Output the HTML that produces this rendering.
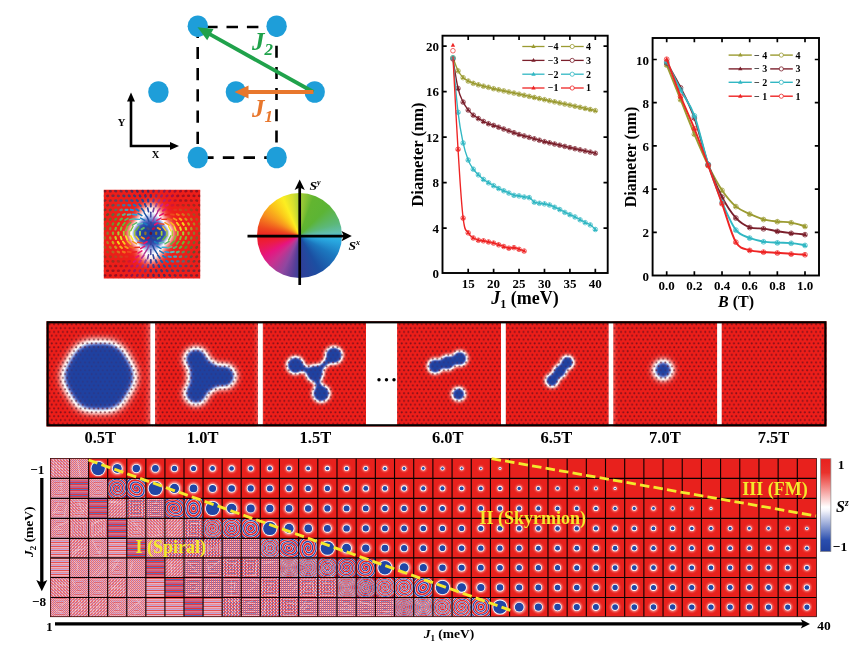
<!DOCTYPE html>
<html lang="en">
<head>
<meta charset="utf-8">
<title>Skyrmion phase diagram figure</title>
<style>
html,body{margin:0;padding:0;background:#fff;}
body{width:866px;height:650px;position:relative;overflow:hidden;font-family:"Liberation Serif",serif;}
#wheel{position:absolute;left:257.2px;top:192.5px;width:85px;height:85px;border-radius:50%;
background:conic-gradient(from 0deg,#a9cf38 0deg,#62b530 20deg,#5cb435 45deg,#5cb87a 72deg,#62bfb4 86deg,#35b4dc 92deg,#29a9e1 98deg,#1c78bf 120deg,#1b4fa2 150deg,#2f3f98 178deg,#5a3f98 190deg,#8f47a0 205deg,#c9308f 225deg,#e6157f 240deg,#ec1c40 258deg,#ed1c24 268deg,#ee4a1f 282deg,#f7931e 302deg,#fbc81a 320deg,#fcee21 336deg,#d4de30 350deg,#a9cf38 360deg);}
svg{position:absolute;left:0;top:0;}
</style>
</head>
<body>
<div id="wheel"></div>
<svg width="866" height="650" viewBox="0 0 866 650">
<defs><filter id="bwr" color-interpolation-filters="sRGB" x="0" y="0" width="1" height="1"><feGaussianBlur stdDeviation="3.5"/><feComponentTransfer><feFuncR type="table" tableValues="0.93 0.94 0.95 0.96 0.98 1.00 1.00 0.75 0.45 0.22 0.12"/><feFuncG type="table" tableValues="0.12 0.22 0.36 0.53 0.72 0.90 1.00 0.79 0.52 0.33 0.25"/><feFuncB type="table" tableValues="0.10 0.20 0.34 0.51 0.70 0.89 1.00 0.93 0.82 0.70 0.62"/></feComponentTransfer></filter>
<filter id="bwr2" color-interpolation-filters="sRGB" x="0" y="0" width="1" height="1"><feGaussianBlur stdDeviation="4.0"/><feComponentTransfer><feFuncR type="table" tableValues="0.93 0.94 0.95 0.96 0.98 1.00 1.00 0.75 0.45 0.22 0.12"/><feFuncG type="table" tableValues="0.12 0.22 0.36 0.53 0.72 0.90 1.00 0.79 0.52 0.33 0.25"/><feFuncB type="table" tableValues="0.10 0.20 0.34 0.51 0.70 0.89 1.00 0.93 0.82 0.70 0.62"/></feComponentTransfer></filter>
<filter id="bwrS" color-interpolation-filters="sRGB" x="0" y="0" width="1" height="1"><feGaussianBlur stdDeviation="2.2"/><feComponentTransfer><feFuncR type="table" tableValues="0.93 0.94 0.95 0.96 0.98 1.00 1.00 0.75 0.45 0.22 0.12"/><feFuncG type="table" tableValues="0.12 0.22 0.36 0.53 0.72 0.90 1.00 0.79 0.52 0.33 0.25"/><feFuncB type="table" tableValues="0.10 0.20 0.34 0.51 0.70 0.89 1.00 0.93 0.82 0.70 0.62"/></feComponentTransfer></filter>

<pattern id="dots" width="4.43" height="7.66" patternUnits="userSpaceOnUse" x="48.5" y="323">
  <circle cx="1.1" cy="1.3" r="1.0" fill="#560a1a" fill-opacity="0.72"/>
  <circle cx="3.31" cy="5.13" r="1.0" fill="#560a1a" fill-opacity="0.72"/>
</pattern>
<radialGradient id="halo">
  <stop offset="0" stop-color="#fff" stop-opacity="1"/>
  <stop offset="0.55" stop-color="#fff" stop-opacity="0.95"/>
  <stop offset="1" stop-color="#fff" stop-opacity="0"/>
</radialGradient>
<linearGradient id="cbar" x1="0" y1="0" x2="0" y2="1">
  <stop offset="0" stop-color="#e8211d"/>
  <stop offset="0.15" stop-color="#e9322c"/>
  <stop offset="0.52" stop-color="#ffffff"/>
  <stop offset="0.56" stop-color="#f4f4fb"/>
  <stop offset="0.88" stop-color="#2a4eae"/>
  <stop offset="1" stop-color="#1f3f9c"/>
</linearGradient>

<clipPath id="texclip"><rect x="103.8" y="189.8" width="96.4" height="88.8"/></clipPath>
<clipPath id="stripclip"><rect x="46.5" y="321.2" width="780" height="105.2"/></clipPath>
<filter id="bwrP1" color-interpolation-filters="sRGB" x="0" y="0" width="1" height="1"><feGaussianBlur stdDeviation="5.0"/><feComponentTransfer><feFuncR type="table" tableValues="0.93 0.94 0.95 0.96 0.98 1.00 1.00 0.75 0.45 0.22 0.12"/><feFuncG type="table" tableValues="0.12 0.22 0.36 0.53 0.72 0.90 1.00 0.79 0.52 0.33 0.25"/><feFuncB type="table" tableValues="0.10 0.20 0.34 0.51 0.70 0.89 1.00 0.93 0.82 0.70 0.62"/></feComponentTransfer></filter>
<filter id="bwrP2" color-interpolation-filters="sRGB" x="0" y="0" width="1" height="1"><feGaussianBlur stdDeviation="3.6"/><feComponentTransfer><feFuncR type="table" tableValues="0.93 0.94 0.95 0.96 0.98 1.00 1.00 0.75 0.45 0.22 0.12"/><feFuncG type="table" tableValues="0.12 0.22 0.36 0.53 0.72 0.90 1.00 0.79 0.52 0.33 0.25"/><feFuncB type="table" tableValues="0.10 0.20 0.34 0.51 0.70 0.89 1.00 0.93 0.82 0.70 0.62"/></feComponentTransfer></filter>
<filter id="covP1" color-interpolation-filters="sRGB" x="0" y="0" width="1" height="1"><feGaussianBlur stdDeviation="5.0"/><feColorMatrix type="matrix" values="0 0 0 0 0.13  0 0 0 0 0.26  0 0 0 0 0.63  4.5 0 0 0 -3.55"/></filter>
<filter id="covP2" color-interpolation-filters="sRGB" x="0" y="0" width="1" height="1"><feGaussianBlur stdDeviation="3.6"/><feColorMatrix type="matrix" values="0 0 0 0 0.13  0 0 0 0 0.26  0 0 0 0 0.63  4.5 0 0 0 -3.55"/></filter>
<filter id="covS" color-interpolation-filters="sRGB" x="0" y="0" width="1" height="1"><feGaussianBlur stdDeviation="2.2"/><feColorMatrix type="matrix" values="0 0 0 0 0.13  0 0 0 0 0.26  0 0 0 0 0.63  4.5 0 0 0 -3.55"/></filter>

<filter id="soft" x="0" y="0" width="1" height="1"><feGaussianBlur stdDeviation="0.9"/></filter>
<pattern id="chk" width="2" height="2" patternUnits="userSpaceOnUse">
  <rect width="2" height="2" fill="#e66a72"/>
  <rect x="1" y="0" width="1" height="1" fill="#c8a8d4"/>
  <rect x="0" y="1" width="1" height="1" fill="#ecb4bc"/>
</pattern>
<pattern id="chk2" width="3" height="3" patternUnits="userSpaceOnUse">
  <rect width="3" height="3" fill="#e66a72"/>
  <rect x="1" y="0" width="1" height="1" fill="#d0b0d8"/>
  <rect x="2" y="1" width="1" height="1" fill="#f0c4cc"/>
  <rect x="0" y="2" width="1" height="1" fill="#c0a8d8"/>
  <rect x="2" y="0" width="1" height="1" fill="#eca0a4"/>
</pattern>
<pattern id="chk3" width="3" height="3" patternUnits="userSpaceOnUse">
  <rect width="3" height="3" fill="#e66a72"/>
  <rect x="1" y="0" width="1" height="1" fill="#d0b0d8"/>
  <rect x="0" y="1" width="1" height="1" fill="#f0c4cc"/>
  <rect x="2" y="2" width="1" height="1" fill="#c0a8d8"/>
  <rect x="0" y="0" width="1" height="1" fill="#eca0a4"/>
</pattern>
<pattern id="chkb" width="2" height="2" patternUnits="userSpaceOnUse">
  <rect width="2" height="2" fill="#e2444c"/>
  <rect x="1" y="0" width="1" height="1" fill="#7a80c8"/>
  <rect x="0" y="1" width="1" height="1" fill="#ecc4d0"/>
  <rect x="1" y="1" width="1" height="1" fill="#e8666e"/>
</pattern>
<pattern id="chkb2" width="3" height="3" patternUnits="userSpaceOnUse">
  <rect width="3" height="3" fill="#e2444c"/>
  <rect x="1" y="0" width="1" height="1" fill="#8088cc"/>
  <rect x="2" y="1" width="1" height="1" fill="#ecc0c8"/>
  <rect x="0" y="2" width="1" height="1" fill="#6c78c4"/>
  <rect x="2" y="0" width="1" height="1" fill="#e88088"/>
  <rect x="1" y="2" width="1" height="1" fill="#ecbcc8"/>
  <rect x="1" y="1" width="1" height="1" fill="#e8666e"/>
</pattern>
<pattern id="chkb3" width="3" height="3" patternUnits="userSpaceOnUse">
  <rect width="3" height="3" fill="#e2444c"/>
  <rect x="1" y="0" width="1" height="1" fill="#8088cc"/>
  <rect x="0" y="1" width="1" height="1" fill="#ecc0c8"/>
  <rect x="2" y="2" width="1" height="1" fill="#6c78c4"/>
  <rect x="0" y="0" width="1" height="1" fill="#e88088"/>
  <rect x="1" y="2" width="1" height="1" fill="#ecbcc8"/>
  <rect x="1" y="1" width="1" height="1" fill="#e8666e"/>
</pattern>
<pattern id="hsb" width="4" height="4" patternUnits="userSpaceOnUse">
  <rect width="4" height="4" fill="#e04048"/>
  <rect y="1" width="4" height="1" fill="#6878c0"/>
  <rect y="2" width="4" height="1" fill="#e86068"/>
  <rect y="3" width="4" height="1" fill="#e8c0d0"/>
</pattern>
<pattern id="hs" width="4" height="6" patternUnits="userSpaceOnUse">
  <rect width="4" height="6" fill="#d86070"/>
  <rect y="1" width="4" height="1" fill="#a860a4"/>
  <rect y="2" width="4" height="1" fill="#e83434"/>
  <rect y="3" width="4" height="1" fill="#5c70b8"/>
  <rect y="4" width="4" height="1" fill="#e23848"/>
  <rect y="5" width="4" height="1" fill="#d07890"/>
</pattern>
<pattern id="hsl" width="4" height="4" patternUnits="userSpaceOnUse">
  <rect width="4" height="4" fill="#ec8c94"/>
  <rect y="1" width="4" height="1" fill="#c0a8dc"/>
  <rect y="2" width="4" height="1" fill="#e85050"/>
  <rect y="3" width="4" height="1" fill="#e8b4c4"/>
</pattern>
<pattern id="vs" width="4" height="4" patternUnits="userSpaceOnUse">
  <rect width="4" height="4" fill="#ec8c94"/>
  <rect x="1" width="1" height="4" fill="#c0a8dc"/>
  <rect x="2" width="1" height="4" fill="#e85050"/>
  <rect x="3" width="1" height="4" fill="#e8b4c4"/>
</pattern>

<g id="sp1"><rect x="-11" y="-11" width="22" height="22" fill="#fff"/><path d="M0,0 L0.16,0.05 L0.28,0.19 L0.31,0.39 L0.24,0.62 L0.06,0.83 L-0.23,0.98 L-0.59,1.01 L-0.99,0.9 L-1.36,0.64 L-1.65,0.24 L-1.82,-0.29 L-1.8,-0.89 L-1.58,-1.49 L-1.15,-2.04 L-0.53,-2.45 L0.23,-2.66 L1.07,-2.63 L1.91,-2.32 L2.37,-2.01 L2.78,-1.6 L3.12,-1.11 L3.36,-0.55 L3.51,0.06 L3.54,0.71 L3.45,1.37 L3.23,2.01 L2.9,2.63 L2.44,3.18 L1.88,3.66 L1.22,4.03 L0.49,4.28 L-0.29,4.4 L-1.1,4.38 L-1.91,4.2 L-2.68,3.87 L-3.41,3.4 L-4.04,2.79 L-4.57,2.07 L-4.96,1.24 L-5.2,0.34 L-5.28,-0.61 L-5.18,-1.58 L-4.9,-2.52 L-4.45,-3.42 L-3.84,-4.24 L-3.07,-4.94 L-2.17,-5.5 L-1.17,-5.9 L-0.1,-6.12 L1.02,-6.13 L2.13,-5.95 L3.21,-5.55 L4.22,-4.97 L5.12,-4.19 L5.87,-3.26 L6.46,-2.19 L6.84,-1.01 L7.01,0.24 L6.96,1.51 L6.67,2.77 L6.15,3.97 L5.41,5.08 L4.47,6.04 L3.36,6.84 L2.11,7.43 L0.76,7.78 L-0.66,7.89 L-2.08,7.75 L-3.48,7.34 L-4.8,6.68 L-5.99,5.78 L-7.01,4.67 L-7.82,3.38 L-8.4,1.95 L-8.71,0.42 L-8.75,-1.16 L-8.49,-2.74 L-7.95,-4.26 L-7.14,-5.68 L-6.07,-6.94 L-4.78,-8 L-3.31,-8.83 L-1.69,-9.37 L0.01,-9.63 L1.75,-9.57 L3.47,-9.19 L5.11,-8.51 L6.62,-7.53 L7.94,-6.29 L9.03,-4.81 L9.84,-3.15 L10.34,-1.35 L10.51,0.53 L10.35,2.43 L9.84,4.28 L9,6.03 L7.84,7.61 L6.41,8.97 L4.74,10.07 L2.89,10.85 L0.91,11.29 L-1.14,11.37 L-3.18,11.08 L-5.16,10.42 L-7,9.41 L-8.65,8.07 L-10.04,6.45 L-11.12,4.59 L-11.86,2.54 L-12.23,0.38 L-12.2,-1.83 L-11.77,-4.02 L-10.95,-6.11 L-9.75,-8.03 L-8.22,-9.72 L-6.4,-11.13 L-4.34,-12.19 L-2.1,-12.86 L0.24,-13.13 L2.6,-12.98 L4.92,-12.39 L7.11,-11.4 L9.11,-10.01 L10.83,-8.28 L12.23,-6.25 L13.25,-3.99 L13.85,-1.57 L14.01,0.94 L13.71,3.46 L12.96,5.9 L11.77,8.18 L10.19,10.23 L8.25,11.97 L6.02,13.35 L3.55,14.3 L0.94,14.81 L-1.74,14.84" fill="none" stroke="#2242aa" stroke-width="1.15"/><path d="M0,0 L-0.16,-0.05 L-0.28,-0.19 L-0.31,-0.39 L-0.24,-0.62 L-0.06,-0.83 L0.23,-0.98 L0.59,-1.01 L0.99,-0.9 L1.36,-0.64 L1.65,-0.24 L1.82,0.29 L1.8,0.89 L1.58,1.49 L1.15,2.04 L0.53,2.45 L-0.23,2.66 L-1.07,2.63 L-1.91,2.32 L-2.37,2.01 L-2.78,1.6 L-3.12,1.11 L-3.36,0.55 L-3.51,-0.06 L-3.54,-0.71 L-3.45,-1.37 L-3.23,-2.01 L-2.9,-2.63 L-2.44,-3.18 L-1.88,-3.66 L-1.22,-4.03 L-0.49,-4.28 L0.29,-4.4 L1.1,-4.38 L1.91,-4.2 L2.68,-3.87 L3.41,-3.4 L4.04,-2.79 L4.57,-2.07 L4.96,-1.24 L5.2,-0.34 L5.28,0.61 L5.18,1.58 L4.9,2.52 L4.45,3.42 L3.84,4.24 L3.07,4.94 L2.17,5.5 L1.17,5.9 L0.1,6.12 L-1.02,6.13 L-2.13,5.95 L-3.21,5.55 L-4.22,4.97 L-5.12,4.19 L-5.87,3.26 L-6.46,2.19 L-6.84,1.01 L-7.01,-0.24 L-6.96,-1.51 L-6.67,-2.77 L-6.15,-3.97 L-5.41,-5.08 L-4.47,-6.04 L-3.36,-6.84 L-2.11,-7.43 L-0.76,-7.78 L0.66,-7.89 L2.08,-7.75 L3.48,-7.34 L4.8,-6.68 L5.99,-5.78 L7.01,-4.67 L7.82,-3.38 L8.4,-1.95 L8.71,-0.42 L8.75,1.16 L8.49,2.74 L7.95,4.26 L7.14,5.68 L6.07,6.94 L4.78,8 L3.31,8.83 L1.69,9.37 L-0.01,9.63 L-1.75,9.57 L-3.47,9.19 L-5.11,8.51 L-6.62,7.53 L-7.94,6.29 L-9.03,4.81 L-9.84,3.15 L-10.34,1.35 L-10.51,-0.53 L-10.35,-2.43 L-9.84,-4.28 L-9,-6.03 L-7.84,-7.61 L-6.41,-8.97 L-4.74,-10.07 L-2.89,-10.85 L-0.91,-11.29 L1.14,-11.37 L3.18,-11.08 L5.16,-10.42 L7,-9.41 L8.65,-8.07 L10.04,-6.45 L11.12,-4.59 L11.86,-2.54 L12.23,-0.38 L12.2,1.83 L11.77,4.02 L10.95,6.11 L9.75,8.03 L8.22,9.72 L6.4,11.13 L4.34,12.19 L2.1,12.86 L-0.24,13.13 L-2.6,12.98 L-4.92,12.39 L-7.11,11.4 L-9.11,10.01 L-10.83,8.28 L-12.23,6.25 L-13.25,3.99 L-13.85,1.57 L-14.01,-0.94 L-13.71,-3.46 L-12.96,-5.9 L-11.77,-8.18 L-10.19,-10.23 L-8.25,-11.97 L-6.02,-13.35 L-3.55,-14.3 L-0.94,-14.81 L1.74,-14.84" fill="none" stroke="#e3262a" stroke-width="1.55"/></g>
<g id="sp2"><rect x="-11" y="-11" width="22" height="22" fill="#fff"/><path d="M0,0 L0.13,0.04 L0.23,0.16 L0.26,0.33 L0.2,0.52 L0.05,0.69 L-0.19,0.81 L-0.49,0.84 L-0.82,0.75 L-1.13,0.53 L-1.37,0.2 L-1.5,-0.24 L-1.49,-0.74 L-1.31,-1.24 L-0.95,-1.69 L-0.44,-2.03 L0.19,-2.21 L0.89,-2.18 L1.58,-1.93 L2.2,-1.45 L2.66,-0.77 L2.91,0.05 L2.89,0.95 L2.75,1.49 L2.5,2.01 L2.16,2.49 L1.72,2.91 L1.2,3.25 L0.61,3.49 L-0.02,3.63 L-0.69,3.65 L-1.36,3.54 L-2.01,3.31 L-2.63,2.96 L-3.18,2.49 L-3.65,1.92 L-4.02,1.26 L-4.26,0.53 L-4.37,-0.24 L-4.34,-1.04 L-4.16,-1.83 L-3.83,-2.59 L-3.36,-3.29 L-2.77,-3.91 L-2.06,-4.42 L-1.25,-4.8 L-0.38,-5.03 L0.53,-5.1 L1.46,-5 L2.37,-4.73 L3.23,-4.29 L4.01,-3.7 L4.67,-2.97 L5.21,-2.12 L5.58,-1.17 L5.79,-0.15 L5.8,0.9 L5.63,1.95 L5.26,2.97 L4.71,3.91 L3.98,4.76 L3.11,5.46 L2.11,6.01 L1.01,6.37 L-0.15,6.53 L-1.33,6.48 L-2.5,6.22 L-3.62,5.74 L-4.65,5.06 L-5.54,4.2 L-6.28,3.17 L-6.82,2.02 L-7.16,0.78 L-7.26,-0.52 L-7.13,-1.84 L-6.76,-3.12 L-6.17,-4.33 L-5.35,-5.42 L-4.34,-6.36 L-3.16,-7.11 L-1.86,-7.64 L-0.47,-7.93 L0.97,-7.97 L2.41,-7.75 L3.79,-7.27 L5.08,-6.53 L6.23,-5.57 L7.2,-4.41 L7.95,-3.08 L8.46,-1.62 L8.7,-0.08 L8.65,1.49 L8.32,3.04 L7.72,4.53 L6.84,5.89 L5.73,7.08 L4.41,8.07 L2.92,8.81 L1.31,9.27 L-0.37,9.44 L-2.08,9.3 L-3.74,8.85 L-5.31,8.11 L-6.73,7.09 L-7.96,5.82 L-8.95,4.33 L-9.66,2.69 L-10.07,0.92 L-10.15,-0.9 L-9.91,-2.73 L-9.33,-4.49 L-8.44,-6.14 L-7.26,-7.61 L-5.83,-8.86 L-4.18,-9.84 L-2.37,-10.51 L-0.46,-10.85 L1.51,-10.83 L3.45,-10.47 L5.3,-9.76 L7.02,-8.71 L8.53,-7.37 L9.78,-5.77 L10.73,-3.95 L11.35,-1.98 L11.6,0.08 L11.48,2.18 L10.98,4.23 L10.12,6.17 L8.92,7.94 L7.4,9.47 L5.63,10.71 L3.64,11.63 L1.51,12.17 L-0.7,12.33 L-2.91,12.09 L-5.06,11.45 L-7.08,10.42 L-8.89,9.05 L-10.43,7.36 L-11.66,5.41 L-12.52,3.25 L-12.98,0.97 L-13.03,-1.38 L-12.65,-3.71 L-11.85,-5.96 L-10.66,-8.03 L-9.11,-9.87 L-7.24,-11.41 L-5.11,-12.6 L-2.79,-13.39 L-0.35,-13.76 L2.14,-13.68 L4.58,-13.16 L6.9,-12.2 L9.03,-10.83 L10.88,-9.09 L12.41,-7.04 L13.54,-4.73 L14.25,-2.24 L14.51,0.35 L14.29,2.96 L13.61,5.5 L12.47,7.89 L10.92,10.05 L8.99,11.91" fill="none" stroke="#2242aa" stroke-width="0.95"/><path d="M0,0 L-0.13,-0.04 L-0.23,-0.16 L-0.26,-0.33 L-0.2,-0.52 L-0.05,-0.69 L0.19,-0.81 L0.49,-0.84 L0.82,-0.75 L1.13,-0.53 L1.37,-0.2 L1.5,0.24 L1.49,0.74 L1.31,1.24 L0.95,1.69 L0.44,2.03 L-0.19,2.21 L-0.89,2.18 L-1.58,1.93 L-2.2,1.45 L-2.66,0.77 L-2.91,-0.05 L-2.89,-0.95 L-2.75,-1.49 L-2.5,-2.01 L-2.16,-2.49 L-1.72,-2.91 L-1.2,-3.25 L-0.61,-3.49 L0.02,-3.63 L0.69,-3.65 L1.36,-3.54 L2.01,-3.31 L2.63,-2.96 L3.18,-2.49 L3.65,-1.92 L4.02,-1.26 L4.26,-0.53 L4.37,0.24 L4.34,1.04 L4.16,1.83 L3.83,2.59 L3.36,3.29 L2.77,3.91 L2.06,4.42 L1.25,4.8 L0.38,5.03 L-0.53,5.1 L-1.46,5 L-2.37,4.73 L-3.23,4.29 L-4.01,3.7 L-4.67,2.97 L-5.21,2.12 L-5.58,1.17 L-5.79,0.15 L-5.8,-0.9 L-5.63,-1.95 L-5.26,-2.97 L-4.71,-3.91 L-3.98,-4.76 L-3.11,-5.46 L-2.11,-6.01 L-1.01,-6.37 L0.15,-6.53 L1.33,-6.48 L2.5,-6.22 L3.62,-5.74 L4.65,-5.06 L5.54,-4.2 L6.28,-3.17 L6.82,-2.02 L7.16,-0.78 L7.26,0.52 L7.13,1.84 L6.76,3.12 L6.17,4.33 L5.35,5.42 L4.34,6.36 L3.16,7.11 L1.86,7.64 L0.47,7.93 L-0.97,7.97 L-2.41,7.75 L-3.79,7.27 L-5.08,6.53 L-6.23,5.57 L-7.2,4.41 L-7.95,3.08 L-8.46,1.62 L-8.7,0.08 L-8.65,-1.49 L-8.32,-3.04 L-7.72,-4.53 L-6.84,-5.89 L-5.73,-7.08 L-4.41,-8.07 L-2.92,-8.81 L-1.31,-9.27 L0.37,-9.44 L2.08,-9.3 L3.74,-8.85 L5.31,-8.11 L6.73,-7.09 L7.96,-5.82 L8.95,-4.33 L9.66,-2.69 L10.07,-0.92 L10.15,0.9 L9.91,2.73 L9.33,4.49 L8.44,6.14 L7.26,7.61 L5.83,8.86 L4.18,9.84 L2.37,10.51 L0.46,10.85 L-1.51,10.83 L-3.45,10.47 L-5.3,9.76 L-7.02,8.71 L-8.53,7.37 L-9.78,5.77 L-10.73,3.95 L-11.35,1.98 L-11.6,-0.08 L-11.48,-2.18 L-10.98,-4.23 L-10.12,-6.17 L-8.92,-7.94 L-7.4,-9.47 L-5.63,-10.71 L-3.64,-11.63 L-1.51,-12.17 L0.7,-12.33 L2.91,-12.09 L5.06,-11.45 L7.08,-10.42 L8.89,-9.05 L10.43,-7.36 L11.66,-5.41 L12.52,-3.25 L12.98,-0.97 L13.03,1.38 L12.65,3.71 L11.85,5.96 L10.66,8.03 L9.11,9.87 L7.24,11.41 L5.11,12.6 L2.79,13.39 L0.35,13.76 L-2.14,13.68 L-4.58,13.16 L-6.9,12.2 L-9.03,10.83 L-10.88,9.09 L-12.41,7.04 L-13.54,4.73 L-14.25,2.24 L-14.51,-0.35 L-14.29,-2.96 L-13.61,-5.5 L-12.47,-7.89 L-10.92,-10.05 L-8.99,-11.91" fill="none" stroke="#e3262a" stroke-width="1.3"/></g>
<g id="sp3"><rect x="-11" y="-11" width="22" height="22" fill="#fff"/><path d="M0,0 L0.11,0.04 L0.2,0.13 L0.22,0.28 L0.17,0.45 L0.04,0.6 L-0.16,0.7 L-0.42,0.72 L-0.7,0.65 L-0.97,0.46 L-1.18,0.17 L-1.3,-0.21 L-1.28,-0.63 L-1.13,-1.07 L-0.82,-1.46 L-0.38,-1.75 L0.17,-1.9 L0.77,-1.88 L1.36,-1.66 L1.89,-1.25 L2.29,-0.67 L2.51,0.04 L2.5,0.82 L2.24,1.59 L1.74,2.27 L1.03,2.8 L0.17,3.1 L-0.4,3.15 L-0.98,3.1 L-1.55,2.93 L-2.09,2.67 L-2.59,2.29 L-3.02,1.83 L-3.37,1.29 L-3.61,0.68 L-3.75,0.02 L-3.76,-0.67 L-3.65,-1.35 L-3.41,-2.02 L-3.05,-2.65 L-2.57,-3.2 L-1.99,-3.68 L-1.32,-4.04 L-0.58,-4.28 L0.2,-4.39 L0.99,-4.35 L1.78,-4.17 L2.54,-3.84 L3.24,-3.38 L3.85,-2.78 L4.35,-2.08 L4.72,-1.29 L4.95,-0.43 L5.02,0.47 L4.92,1.38 L4.66,2.27 L4.23,3.11 L3.66,3.87 L2.94,4.52 L2.11,5.04 L1.19,5.41 L0.21,5.61 L-0.81,5.62 L-1.83,5.46 L-2.81,5.1 L-3.72,4.57 L-4.53,3.88 L-5.22,3.04 L-5.75,2.08 L-6.1,1.03 L-6.25,-0.08 L-6.21,-1.21 L-5.96,-2.33 L-5.51,-3.39 L-4.87,-4.37 L-4.05,-5.23 L-3.08,-5.93 L-1.99,-6.46 L-0.81,-6.78 L0.42,-6.89 L1.67,-6.77 L2.88,-6.43 L4.02,-5.87 L5.06,-5.1 L5.95,-4.15 L6.66,-3.05 L7.17,-1.83 L7.45,-0.52 L7.5,0.83 L7.3,2.18 L6.85,3.48 L6.17,4.7 L5.28,5.78 L4.2,6.69 L2.96,7.4 L1.6,7.88 L0.17,8.12 L-1.3,8.08 L-2.75,7.79 L-4.14,7.23 L-5.41,6.43 L-6.53,5.4 L-7.45,4.18 L-8.15,2.8 L-8.59,1.31 L-8.76,-0.25 L-8.64,-1.83 L-8.24,-3.38 L-7.56,-4.84 L-6.63,-6.16 L-5.46,-7.3 L-4.1,-8.23 L-2.58,-8.9 L-0.95,-9.29 L0.73,-9.38 L2.42,-9.16 L4.05,-8.65 L5.57,-7.84 L6.94,-6.77 L8.1,-5.45 L9.01,-3.95 L9.64,-2.29 L9.97,-0.53 L9.97,1.28 L9.65,3.06 L9.01,4.77 L8.06,6.35 L6.84,7.75 L5.38,8.91 L3.73,9.8 L1.93,10.37 L0.04,10.62 L-1.88,10.53 L-3.76,10.09 L-5.54,9.32 L-7.16,8.23 L-8.58,6.86 L-9.73,5.24 L-10.58,3.44 L-11.1,1.5 L-11.26,-0.51 L-11.05,-2.54 L-10.49,-4.5 L-9.57,-6.35 L-8.33,-8.01 L-6.8,-9.43 L-5.04,-10.56 L-3.08,-11.36 L-1.01,-11.8 L1.13,-11.86 L3.25,-11.53 L5.3,-10.83 L7.19,-9.76 L8.88,-8.37 L10.29,-6.68 L11.39,-4.76 L12.13,-2.66 L12.48,-0.45 L12.43,1.8 L11.97,4.02 L11.12,6.13 L9.9,8.07 L8.34,9.77 L6.49,11.16 L4.41,12.21 L2.17,12.88 L-0.17,13.13 L-2.54,12.96 L-4.84,12.36 L-7.01,11.35 L-8.98,9.97 L-10.68,8.24 L-12.04,6.23 L-13.03,4 L-13.61,1.61 L-13.75,-0.86 L-13.44,-3.32 L-12.69,-5.71 L-11.53,-7.93 L-9.97,-9.91 L-8.08,-11.6 L-5.9,-12.92 L-3.51,-13.84 L-0.98,-14.31 L1.61,-14.33 L4.17,-13.88 L6.62,-12.97 L8.88,-11.64 L10.87,-9.91 L12.53,-7.84 L13.79,-5.5 L14.63,-2.95 L14.99,-0.29" fill="none" stroke="#2242aa" stroke-width="0.8"/><path d="M0,0 L-0.11,-0.04 L-0.2,-0.13 L-0.22,-0.28 L-0.17,-0.45 L-0.04,-0.6 L0.16,-0.7 L0.42,-0.72 L0.7,-0.65 L0.97,-0.46 L1.18,-0.17 L1.3,0.21 L1.28,0.63 L1.13,1.07 L0.82,1.46 L0.38,1.75 L-0.17,1.9 L-0.77,1.88 L-1.36,1.66 L-1.89,1.25 L-2.29,0.67 L-2.51,-0.04 L-2.5,-0.82 L-2.24,-1.59 L-1.74,-2.27 L-1.03,-2.8 L-0.17,-3.1 L0.4,-3.15 L0.98,-3.1 L1.55,-2.93 L2.09,-2.67 L2.59,-2.29 L3.02,-1.83 L3.37,-1.29 L3.61,-0.68 L3.75,-0.02 L3.76,0.67 L3.65,1.35 L3.41,2.02 L3.05,2.65 L2.57,3.2 L1.99,3.68 L1.32,4.04 L0.58,4.28 L-0.2,4.39 L-0.99,4.35 L-1.78,4.17 L-2.54,3.84 L-3.24,3.38 L-3.85,2.78 L-4.35,2.08 L-4.72,1.29 L-4.95,0.43 L-5.02,-0.47 L-4.92,-1.38 L-4.66,-2.27 L-4.23,-3.11 L-3.66,-3.87 L-2.94,-4.52 L-2.11,-5.04 L-1.19,-5.41 L-0.21,-5.61 L0.81,-5.62 L1.83,-5.46 L2.81,-5.1 L3.72,-4.57 L4.53,-3.88 L5.22,-3.04 L5.75,-2.08 L6.1,-1.03 L6.25,0.08 L6.21,1.21 L5.96,2.33 L5.51,3.39 L4.87,4.37 L4.05,5.23 L3.08,5.93 L1.99,6.46 L0.81,6.78 L-0.42,6.89 L-1.67,6.77 L-2.88,6.43 L-4.02,5.87 L-5.06,5.1 L-5.95,4.15 L-6.66,3.05 L-7.17,1.83 L-7.45,0.52 L-7.5,-0.83 L-7.3,-2.18 L-6.85,-3.48 L-6.17,-4.7 L-5.28,-5.78 L-4.2,-6.69 L-2.96,-7.4 L-1.6,-7.88 L-0.17,-8.12 L1.3,-8.08 L2.75,-7.79 L4.14,-7.23 L5.41,-6.43 L6.53,-5.4 L7.45,-4.18 L8.15,-2.8 L8.59,-1.31 L8.76,0.25 L8.64,1.83 L8.24,3.38 L7.56,4.84 L6.63,6.16 L5.46,7.3 L4.1,8.23 L2.58,8.9 L0.95,9.29 L-0.73,9.38 L-2.42,9.16 L-4.05,8.65 L-5.57,7.84 L-6.94,6.77 L-8.1,5.45 L-9.01,3.95 L-9.64,2.29 L-9.97,0.53 L-9.97,-1.28 L-9.65,-3.06 L-9.01,-4.77 L-8.06,-6.35 L-6.84,-7.75 L-5.38,-8.91 L-3.73,-9.8 L-1.93,-10.37 L-0.04,-10.62 L1.88,-10.53 L3.76,-10.09 L5.54,-9.32 L7.16,-8.23 L8.58,-6.86 L9.73,-5.24 L10.58,-3.44 L11.1,-1.5 L11.26,0.51 L11.05,2.54 L10.49,4.5 L9.57,6.35 L8.33,8.01 L6.8,9.43 L5.04,10.56 L3.08,11.36 L1.01,11.8 L-1.13,11.86 L-3.25,11.53 L-5.3,10.83 L-7.19,9.76 L-8.88,8.37 L-10.29,6.68 L-11.39,4.76 L-12.13,2.66 L-12.48,0.45 L-12.43,-1.8 L-11.97,-4.02 L-11.12,-6.13 L-9.9,-8.07 L-8.34,-9.77 L-6.49,-11.16 L-4.41,-12.21 L-2.17,-12.88 L0.17,-13.13 L2.54,-12.96 L4.84,-12.36 L7.01,-11.35 L8.98,-9.97 L10.68,-8.24 L12.04,-6.23 L13.03,-4 L13.61,-1.61 L13.75,0.86 L13.44,3.32 L12.69,5.71 L11.53,7.93 L9.97,9.91 L8.08,11.6 L5.9,12.92 L3.51,13.84 L0.98,14.31 L-1.61,14.33 L-4.17,13.88 L-6.62,12.97 L-8.88,11.64 L-10.87,9.91 L-12.53,7.84 L-13.79,5.5 L-14.63,2.95 L-14.99,0.29" fill="none" stroke="#e3262a" stroke-width="1.1"/></g>
<g id="sp4"><rect x="-11" y="-11" width="22" height="22" fill="#fbeef0"/><path d="M0,0 L0.1,0.03 L0.17,0.12 L0.2,0.25 L0.15,0.39 L0.04,0.52 L-0.14,0.61 L-0.37,0.63 L-0.62,0.57 L-0.85,0.4 L-1.04,0.15 L-1.14,-0.18 L-1.13,-0.56 L-0.99,-0.94 L-0.72,-1.28 L-0.33,-1.54 L0.15,-1.67 L0.67,-1.65 L1.2,-1.46 L1.67,-1.1 L2.02,-0.59 L2.21,0.04 L2.2,0.72 L1.97,1.4 L1.53,2 L0.91,2.46 L0.15,2.73 L-0.69,2.75 L-1.53,2.51 L-2.28,2.02 L-2.66,1.61 L-2.96,1.13 L-3.18,0.59 L-3.3,0.02 L-3.31,-0.59 L-3.21,-1.19 L-3,-1.78 L-2.68,-2.33 L-2.26,-2.82 L-1.75,-3.23 L-1.16,-3.55 L-0.51,-3.77 L0.17,-3.86 L0.87,-3.83 L1.57,-3.67 L2.24,-3.38 L2.85,-2.97 L3.39,-2.45 L3.83,-1.83 L4.15,-1.13 L4.35,-0.38 L4.41,0.41 L4.33,1.21 L4.1,2 L3.72,2.74 L3.22,3.4 L2.59,3.98 L1.86,4.44 L1.05,4.76 L0.18,4.93 L-0.71,4.95 L-1.61,4.8 L-2.47,4.49 L-3.27,4.03 L-3.99,3.42 L-4.59,2.68 L-5.06,1.83 L-5.36,0.91 L-5.5,-0.07 L-5.46,-1.06 L-5.25,-2.05 L-4.85,-2.99 L-4.28,-3.85 L-3.56,-4.6 L-2.71,-5.22 L-1.75,-5.68 L-0.71,-5.97 L0.37,-6.06 L1.47,-5.96 L2.53,-5.66 L3.54,-5.16 L4.45,-4.49 L5.24,-3.66 L5.86,-2.69 L6.31,-1.61 L6.56,-0.46 L6.6,0.73 L6.42,1.92 L6.03,3.07 L5.43,4.13 L4.65,5.09 L3.7,5.89 L2.6,6.52 L1.41,6.94 L0.15,7.14 L-1.15,7.11 L-2.42,6.85 L-3.64,6.36 L-4.76,5.66 L-5.75,4.75 L-6.56,3.68 L-7.17,2.47 L-7.56,1.15 L-7.71,-0.22 L-7.6,-1.61 L-7.25,-2.97 L-6.66,-4.26 L-5.83,-5.42 L-4.81,-6.43 L-3.6,-7.24 L-2.27,-7.83 L-0.84,-8.17 L0.65,-8.25 L2.13,-8.06 L3.56,-7.61 L4.91,-6.9 L6.11,-5.95 L7.13,-4.8 L7.93,-3.47 L8.48,-2.01 L8.77,-0.46 L8.77,1.12 L8.49,2.69 L7.93,4.2 L7.1,5.59 L6.02,6.82 L4.74,7.84 L3.28,8.62 L1.69,9.13 L0.03,9.35 L-1.65,9.27 L-3.31,8.88 L-4.87,8.2 L-6.31,7.24 L-7.55,6.03 L-8.56,4.61 L-9.31,3.03 L-9.76,1.32 L-9.91,-0.45 L-9.73,-2.23 L-9.23,-3.96 L-8.42,-5.59 L-7.33,-7.05 L-5.99,-8.3 L-4.43,-9.29 L-2.71,-10 L-0.89,-10.38 L0.99,-10.44 L2.86,-10.15 L4.66,-9.53 L6.33,-8.59 L7.81,-7.36 L9.06,-5.88 L10.02,-4.19 L10.67,-2.34 L10.98,-0.39 L10.94,1.59 L10.53,3.54 L9.79,5.4 L8.71,7.1 L7.34,8.6 L5.71,9.83 L3.88,10.75 L1.91,11.33 L-0.15,11.55 L-2.23,11.4 L-4.26,10.88 L-6.17,9.99 L-7.9,8.77 L-9.4,7.25 L-10.6,5.48 L-11.47,3.52 L-11.98,1.41 L-12.1,-0.76 L-11.83,-2.93 L-11.17,-5.02 L-10.14,-6.98 L-8.78,-8.72 L-7.11,-10.21 L-5.19,-11.37 L-3.09,-12.18 L-0.86,-12.6 L1.41,-12.61 L3.67,-12.21 L5.82,-11.42 L7.81,-10.24 L9.56,-8.72 L11.02,-6.9 L12.14,-4.84 L12.87,-2.6 L13.19,-0.25 L13.09,2.12 L12.55,4.45 L11.61,6.66 L10.28,8.67 L8.6,10.42 L6.62,11.85 L4.42,12.9 L2.05,13.54 L-0.41,13.75 L-2.88,13.52 L-5.28,12.84 L-7.53,11.74 L-9.55,10.25 L-11.28,8.41 L-12.66,6.29 L-13.65,3.93 L-14.19,1.43 L-14.28,-1.13 L-13.91,-3.69 L-13.08,-6.15 L-11.82,-8.43 L-10.17,-10.45 L-8.16,-12.16 L-5.88,-13.48 L-3.39,-14.37 L-0.76,-14.81 L1.91,-14.77 L4.54,-14.25" fill="none" stroke="#2242aa" stroke-width="0.7"/><path d="M0,0 L-0.1,-0.03 L-0.17,-0.12 L-0.2,-0.25 L-0.15,-0.39 L-0.04,-0.52 L0.14,-0.61 L0.37,-0.63 L0.62,-0.57 L0.85,-0.4 L1.04,-0.15 L1.14,0.18 L1.13,0.56 L0.99,0.94 L0.72,1.28 L0.33,1.54 L-0.15,1.67 L-0.67,1.65 L-1.2,1.46 L-1.67,1.1 L-2.02,0.59 L-2.21,-0.04 L-2.2,-0.72 L-1.97,-1.4 L-1.53,-2 L-0.91,-2.46 L-0.15,-2.73 L0.69,-2.75 L1.53,-2.51 L2.28,-2.02 L2.66,-1.61 L2.96,-1.13 L3.18,-0.59 L3.3,-0.02 L3.31,0.59 L3.21,1.19 L3,1.78 L2.68,2.33 L2.26,2.82 L1.75,3.23 L1.16,3.55 L0.51,3.77 L-0.17,3.86 L-0.87,3.83 L-1.57,3.67 L-2.24,3.38 L-2.85,2.97 L-3.39,2.45 L-3.83,1.83 L-4.15,1.13 L-4.35,0.38 L-4.41,-0.41 L-4.33,-1.21 L-4.1,-2 L-3.72,-2.74 L-3.22,-3.4 L-2.59,-3.98 L-1.86,-4.44 L-1.05,-4.76 L-0.18,-4.93 L0.71,-4.95 L1.61,-4.8 L2.47,-4.49 L3.27,-4.03 L3.99,-3.42 L4.59,-2.68 L5.06,-1.83 L5.36,-0.91 L5.5,0.07 L5.46,1.06 L5.25,2.05 L4.85,2.99 L4.28,3.85 L3.56,4.6 L2.71,5.22 L1.75,5.68 L0.71,5.97 L-0.37,6.06 L-1.47,5.96 L-2.53,5.66 L-3.54,5.16 L-4.45,4.49 L-5.24,3.66 L-5.86,2.69 L-6.31,1.61 L-6.56,0.46 L-6.6,-0.73 L-6.42,-1.92 L-6.03,-3.07 L-5.43,-4.13 L-4.65,-5.09 L-3.7,-5.89 L-2.6,-6.52 L-1.41,-6.94 L-0.15,-7.14 L1.15,-7.11 L2.42,-6.85 L3.64,-6.36 L4.76,-5.66 L5.75,-4.75 L6.56,-3.68 L7.17,-2.47 L7.56,-1.15 L7.71,0.22 L7.6,1.61 L7.25,2.97 L6.66,4.26 L5.83,5.42 L4.81,6.43 L3.6,7.24 L2.27,7.83 L0.84,8.17 L-0.65,8.25 L-2.13,8.06 L-3.56,7.61 L-4.91,6.9 L-6.11,5.95 L-7.13,4.8 L-7.93,3.47 L-8.48,2.01 L-8.77,0.46 L-8.77,-1.12 L-8.49,-2.69 L-7.93,-4.2 L-7.1,-5.59 L-6.02,-6.82 L-4.74,-7.84 L-3.28,-8.62 L-1.69,-9.13 L-0.03,-9.35 L1.65,-9.27 L3.31,-8.88 L4.87,-8.2 L6.31,-7.24 L7.55,-6.03 L8.56,-4.61 L9.31,-3.03 L9.76,-1.32 L9.91,0.45 L9.73,2.23 L9.23,3.96 L8.42,5.59 L7.33,7.05 L5.99,8.3 L4.43,9.29 L2.71,10 L0.89,10.38 L-0.99,10.44 L-2.86,10.15 L-4.66,9.53 L-6.33,8.59 L-7.81,7.36 L-9.06,5.88 L-10.02,4.19 L-10.67,2.34 L-10.98,0.39 L-10.94,-1.59 L-10.53,-3.54 L-9.79,-5.4 L-8.71,-7.1 L-7.34,-8.6 L-5.71,-9.83 L-3.88,-10.75 L-1.91,-11.33 L0.15,-11.55 L2.23,-11.4 L4.26,-10.88 L6.17,-9.99 L7.9,-8.77 L9.4,-7.25 L10.6,-5.48 L11.47,-3.52 L11.98,-1.41 L12.1,0.76 L11.83,2.93 L11.17,5.02 L10.14,6.98 L8.78,8.72 L7.11,10.21 L5.19,11.37 L3.09,12.18 L0.86,12.6 L-1.41,12.61 L-3.67,12.21 L-5.82,11.42 L-7.81,10.24 L-9.56,8.72 L-11.02,6.9 L-12.14,4.84 L-12.87,2.6 L-13.19,0.25 L-13.09,-2.12 L-12.55,-4.45 L-11.61,-6.66 L-10.28,-8.67 L-8.6,-10.42 L-6.62,-11.85 L-4.42,-12.9 L-2.05,-13.54 L0.41,-13.75 L2.88,-13.52 L5.28,-12.84 L7.53,-11.74 L9.55,-10.25 L11.28,-8.41 L12.66,-6.29 L13.65,-3.93 L14.19,-1.43 L14.28,1.13 L13.91,3.69 L13.08,6.15 L11.82,8.43 L10.17,10.45 L8.16,12.16 L5.88,13.48 L3.39,14.37 L0.76,14.81 L-1.91,14.77 L-4.54,14.25" fill="none" stroke="#e3262a" stroke-width="0.95"/></g>
<g id="sp5"><rect x="-11" y="-11" width="22" height="22" fill="#f8e4e8"/><path d="M0,0 L0.09,0.03 L0.16,0.11 L0.18,0.22 L0.14,0.36 L0.03,0.48 L-0.13,0.56 L-0.34,0.58 L-0.56,0.52 L-0.78,0.37 L-0.95,0.13 L-1.04,-0.17 L-1.03,-0.51 L-0.9,-0.85 L-0.66,-1.17 L-0.3,-1.4 L0.13,-1.52 L0.61,-1.5 L1.09,-1.33 L1.51,-1 L1.83,-0.53 L2.01,0.03 L2,0.65 L1.79,1.27 L1.39,1.82 L0.83,2.24 L0.13,2.48 L-0.63,2.5 L-1.39,2.29 L-2.07,1.84 L-2.61,1.18 L-2.94,0.37 L-3.01,-0.53 L-2.92,-1.08 L-2.73,-1.62 L-2.44,-2.12 L-2.05,-2.56 L-1.59,-2.94 L-1.06,-3.23 L-0.47,-3.43 L0.16,-3.51 L0.79,-3.48 L1.43,-3.34 L2.03,-3.07 L2.59,-2.7 L3.08,-2.23 L3.48,-1.67 L3.78,-1.03 L3.96,-0.34 L4.01,0.38 L3.94,1.1 L3.73,1.82 L3.39,2.49 L2.93,3.1 L2.36,3.62 L1.69,4.03 L0.95,4.33 L0.17,4.49 L-0.65,4.5 L-1.46,4.36 L-2.25,4.08 L-2.98,3.66 L-3.63,3.1 L-4.17,2.43 L-4.6,1.67 L-4.88,0.83 L-5,-0.06 L-4.97,-0.97 L-4.77,-1.86 L-4.41,-2.71 L-3.89,-3.5 L-3.24,-4.18 L-2.46,-4.75 L-1.59,-5.17 L-0.65,-5.42 L0.34,-5.51 L1.33,-5.42 L2.3,-5.14 L3.22,-4.69 L4.05,-4.08 L4.76,-3.32 L5.33,-2.44 L5.74,-1.46 L5.96,-0.42 L6,0.67 L5.84,1.74 L5.48,2.79 L4.94,3.76 L4.23,4.62 L3.36,5.35 L2.37,5.92 L1.28,6.31 L0.13,6.49 L-1.04,6.47 L-2.2,6.23 L-3.31,5.79 L-4.33,5.14 L-5.22,4.32 L-5.96,3.34 L-6.52,2.24 L-6.87,1.05 L-7.01,-0.2 L-6.91,-1.47 L-6.59,-2.7 L-6.05,-3.87 L-5.3,-4.93 L-4.37,-5.84 L-3.28,-6.58 L-2.06,-7.12 L-0.76,-7.43 L0.59,-7.5 L1.93,-7.33 L3.24,-6.92 L4.46,-6.27 L5.55,-5.41 L6.48,-4.36 L7.21,-3.16 L7.71,-1.83 L7.97,-0.42 L7.98,1.02 L7.72,2.45 L7.21,3.82 L6.45,5.08 L5.47,6.2 L4.31,7.13 L2.98,7.84 L1.54,8.3 L0.03,8.5 L-1.5,8.42 L-3.01,8.07 L-4.43,7.45 L-5.73,6.58 L-6.86,5.49 L-7.78,4.2 L-8.46,2.75 L-8.88,1.2 L-9.01,-0.41 L-8.84,-2.03 L-8.39,-3.6 L-7.66,-5.08 L-6.66,-6.41 L-5.44,-7.54 L-4.03,-8.45 L-2.47,-9.09 L-0.81,-9.44 L0.9,-9.49 L2.6,-9.23 L4.24,-8.66 L5.75,-7.81 L7.1,-6.69 L8.23,-5.35 L9.11,-3.81 L9.7,-2.13 L9.98,-0.36 L9.94,1.44 L9.58,3.22 L8.9,4.91 L7.92,6.46 L6.67,7.81 L5.19,8.93 L3.53,9.77 L1.73,10.3 L-0.14,10.5 L-2.03,10.36 L-3.87,9.89 L-5.61,9.08 L-7.18,7.97 L-8.54,6.59 L-9.63,4.99 L-10.43,3.2 L-10.89,1.29 L-11,-0.69 L-10.75,-2.66 L-10.16,-4.57 L-9.22,-6.34 L-7.98,-7.93 L-6.46,-9.28 L-4.72,-10.34 L-2.81,-11.07 L-0.78,-11.45 L1.29,-11.46 L3.33,-11.1 L5.29,-10.38 L7.1,-9.31 L8.69,-7.93 L10.02,-6.27 L11.04,-4.4 L11.7,-2.36 L11.99,-0.23 L11.9,1.93 L11.41,4.05 L10.55,6.05 L9.34,7.88 L7.82,9.47 L6.02,10.77 L4.02,11.73 L1.86,12.31 L-0.38,12.5 L-2.62,12.29 L-4.8,11.68 L-6.84,10.68 L-8.68,9.32 L-10.26,7.65 L-11.51,5.71 L-12.41,3.58 L-12.9,1.3 L-12.98,-1.03 L-12.65,-3.35 L-11.89,-5.59 L-10.75,-7.66 L-9.24,-9.5 L-7.42,-11.05 L-5.35,-12.25 L-3.08,-13.07 L-0.69,-13.47 L1.74,-13.43 L4.13,-12.96 L6.41,-12.06 L8.5,-10.76 L10.33,-9.1 L11.84,-7.14 L12.98,-4.92 L13.71,-2.53 L14,-0.03 L13.84,2.48 L13.22,4.94 L12.17,7.26 L10.72,9.36 L8.91,11.17 L6.79,12.63 L4.44,13.7 L1.92,14.33 L-0.68,14.5 L-3.28,14.2 L-5.79,13.44 L-8.13,12.23 L-10.23,10.62 L-12.01,8.65 L-13.42,6.38 L-14.4,3.89 L-14.92,1.25" fill="none" stroke="#2242aa" stroke-width="0.6"/><path d="M0,0 L-0.09,-0.03 L-0.16,-0.11 L-0.18,-0.22 L-0.14,-0.36 L-0.03,-0.48 L0.13,-0.56 L0.34,-0.58 L0.56,-0.52 L0.78,-0.37 L0.95,-0.13 L1.04,0.17 L1.03,0.51 L0.9,0.85 L0.66,1.17 L0.3,1.4 L-0.13,1.52 L-0.61,1.5 L-1.09,1.33 L-1.51,1 L-1.83,0.53 L-2.01,-0.03 L-2,-0.65 L-1.79,-1.27 L-1.39,-1.82 L-0.83,-2.24 L-0.13,-2.48 L0.63,-2.5 L1.39,-2.29 L2.07,-1.84 L2.61,-1.18 L2.94,-0.37 L3.01,0.53 L2.92,1.08 L2.73,1.62 L2.44,2.12 L2.05,2.56 L1.59,2.94 L1.06,3.23 L0.47,3.43 L-0.16,3.51 L-0.79,3.48 L-1.43,3.34 L-2.03,3.07 L-2.59,2.7 L-3.08,2.23 L-3.48,1.67 L-3.78,1.03 L-3.96,0.34 L-4.01,-0.38 L-3.94,-1.1 L-3.73,-1.82 L-3.39,-2.49 L-2.93,-3.1 L-2.36,-3.62 L-1.69,-4.03 L-0.95,-4.33 L-0.17,-4.49 L0.65,-4.5 L1.46,-4.36 L2.25,-4.08 L2.98,-3.66 L3.63,-3.1 L4.17,-2.43 L4.6,-1.67 L4.88,-0.83 L5,0.06 L4.97,0.97 L4.77,1.86 L4.41,2.71 L3.89,3.5 L3.24,4.18 L2.46,4.75 L1.59,5.17 L0.65,5.42 L-0.34,5.51 L-1.33,5.42 L-2.3,5.14 L-3.22,4.69 L-4.05,4.08 L-4.76,3.32 L-5.33,2.44 L-5.74,1.46 L-5.96,0.42 L-6,-0.67 L-5.84,-1.74 L-5.48,-2.79 L-4.94,-3.76 L-4.23,-4.62 L-3.36,-5.35 L-2.37,-5.92 L-1.28,-6.31 L-0.13,-6.49 L1.04,-6.47 L2.2,-6.23 L3.31,-5.79 L4.33,-5.14 L5.22,-4.32 L5.96,-3.34 L6.52,-2.24 L6.87,-1.05 L7.01,0.2 L6.91,1.47 L6.59,2.7 L6.05,3.87 L5.3,4.93 L4.37,5.84 L3.28,6.58 L2.06,7.12 L0.76,7.43 L-0.59,7.5 L-1.93,7.33 L-3.24,6.92 L-4.46,6.27 L-5.55,5.41 L-6.48,4.36 L-7.21,3.16 L-7.71,1.83 L-7.97,0.42 L-7.98,-1.02 L-7.72,-2.45 L-7.21,-3.82 L-6.45,-5.08 L-5.47,-6.2 L-4.31,-7.13 L-2.98,-7.84 L-1.54,-8.3 L-0.03,-8.5 L1.5,-8.42 L3.01,-8.07 L4.43,-7.45 L5.73,-6.58 L6.86,-5.49 L7.78,-4.2 L8.46,-2.75 L8.88,-1.2 L9.01,0.41 L8.84,2.03 L8.39,3.6 L7.66,5.08 L6.66,6.41 L5.44,7.54 L4.03,8.45 L2.47,9.09 L0.81,9.44 L-0.9,9.49 L-2.6,9.23 L-4.24,8.66 L-5.75,7.81 L-7.1,6.69 L-8.23,5.35 L-9.11,3.81 L-9.7,2.13 L-9.98,0.36 L-9.94,-1.44 L-9.58,-3.22 L-8.9,-4.91 L-7.92,-6.46 L-6.67,-7.81 L-5.19,-8.93 L-3.53,-9.77 L-1.73,-10.3 L0.14,-10.5 L2.03,-10.36 L3.87,-9.89 L5.61,-9.08 L7.18,-7.97 L8.54,-6.59 L9.63,-4.99 L10.43,-3.2 L10.89,-1.29 L11,0.69 L10.75,2.66 L10.16,4.57 L9.22,6.34 L7.98,7.93 L6.46,9.28 L4.72,10.34 L2.81,11.07 L0.78,11.45 L-1.29,11.46 L-3.33,11.1 L-5.29,10.38 L-7.1,9.31 L-8.69,7.93 L-10.02,6.27 L-11.04,4.4 L-11.7,2.36 L-11.99,0.23 L-11.9,-1.93 L-11.41,-4.05 L-10.55,-6.05 L-9.34,-7.88 L-7.82,-9.47 L-6.02,-10.77 L-4.02,-11.73 L-1.86,-12.31 L0.38,-12.5 L2.62,-12.29 L4.8,-11.68 L6.84,-10.68 L8.68,-9.32 L10.26,-7.65 L11.51,-5.71 L12.41,-3.58 L12.9,-1.3 L12.98,1.03 L12.65,3.35 L11.89,5.59 L10.75,7.66 L9.24,9.5 L7.42,11.05 L5.35,12.25 L3.08,13.07 L0.69,13.47 L-1.74,13.43 L-4.13,12.96 L-6.41,12.06 L-8.5,10.76 L-10.33,9.1 L-11.84,7.14 L-12.98,4.92 L-13.71,2.53 L-14,0.03 L-13.84,-2.48 L-13.22,-4.94 L-12.17,-7.26 L-10.72,-9.36 L-8.91,-11.17 L-6.79,-12.63 L-4.44,-13.7 L-1.92,-14.33 L0.68,-14.5 L3.28,-14.2 L5.79,-13.44 L8.13,-12.23 L10.23,-10.62 L12.01,-8.65 L13.42,-6.38 L14.4,-3.89 L14.92,-1.25" fill="none" stroke="#e3262a" stroke-width="0.9"/></g>
<g id="rg1"><rect x="-11" y="-11" width="22" height="22" fill="#fff"/><circle r="0.88" fill="none" stroke="#2242aa" stroke-width="1.15"/><circle r="2.62" fill="none" stroke="#e3262a" stroke-width="1.55"/><circle r="4.38" fill="none" stroke="#2242aa" stroke-width="1.15"/><circle r="6.12" fill="none" stroke="#e3262a" stroke-width="1.55"/><circle r="7.88" fill="none" stroke="#2242aa" stroke-width="1.15"/><circle r="9.62" fill="none" stroke="#e3262a" stroke-width="1.55"/><circle r="11.38" fill="none" stroke="#2242aa" stroke-width="1.15"/><circle r="13.12" fill="none" stroke="#e3262a" stroke-width="1.55"/><circle r="14.88" fill="none" stroke="#2242aa" stroke-width="1.15"/></g>
<g id="rg2"><rect x="-11" y="-11" width="22" height="22" fill="#fff"/><circle r="0.72" fill="none" stroke="#2242aa" stroke-width="0.95"/><circle r="2.17" fill="none" stroke="#e3262a" stroke-width="1.3"/><circle r="3.62" fill="none" stroke="#2242aa" stroke-width="0.95"/><circle r="5.08" fill="none" stroke="#e3262a" stroke-width="1.3"/><circle r="6.53" fill="none" stroke="#2242aa" stroke-width="0.95"/><circle r="7.98" fill="none" stroke="#e3262a" stroke-width="1.3"/><circle r="9.43" fill="none" stroke="#2242aa" stroke-width="0.95"/><circle r="10.88" fill="none" stroke="#e3262a" stroke-width="1.3"/><circle r="12.32" fill="none" stroke="#2242aa" stroke-width="0.95"/><circle r="13.77" fill="none" stroke="#e3262a" stroke-width="1.3"/></g>
<g id="rg3"><rect x="-11" y="-11" width="22" height="22" fill="#fff"/><circle r="0.62" fill="none" stroke="#2242aa" stroke-width="0.8"/><circle r="1.88" fill="none" stroke="#e3262a" stroke-width="1.1"/><circle r="3.12" fill="none" stroke="#2242aa" stroke-width="0.8"/><circle r="4.38" fill="none" stroke="#e3262a" stroke-width="1.1"/><circle r="5.62" fill="none" stroke="#2242aa" stroke-width="0.8"/><circle r="6.88" fill="none" stroke="#e3262a" stroke-width="1.1"/><circle r="8.12" fill="none" stroke="#2242aa" stroke-width="0.8"/><circle r="9.38" fill="none" stroke="#e3262a" stroke-width="1.1"/><circle r="10.62" fill="none" stroke="#2242aa" stroke-width="0.8"/><circle r="11.88" fill="none" stroke="#e3262a" stroke-width="1.1"/><circle r="13.12" fill="none" stroke="#2242aa" stroke-width="0.8"/><circle r="14.38" fill="none" stroke="#e3262a" stroke-width="1.1"/></g>
<g id="rg4"><rect x="-11" y="-11" width="22" height="22" fill="#fbeef0"/><circle r="0.55" fill="none" stroke="#2242aa" stroke-width="0.7"/><circle r="1.65" fill="none" stroke="#e3262a" stroke-width="0.95"/><circle r="2.75" fill="none" stroke="#2242aa" stroke-width="0.7"/><circle r="3.85" fill="none" stroke="#e3262a" stroke-width="0.95"/><circle r="4.95" fill="none" stroke="#2242aa" stroke-width="0.7"/><circle r="6.05" fill="none" stroke="#e3262a" stroke-width="0.95"/><circle r="7.15" fill="none" stroke="#2242aa" stroke-width="0.7"/><circle r="8.25" fill="none" stroke="#e3262a" stroke-width="0.95"/><circle r="9.35" fill="none" stroke="#2242aa" stroke-width="0.7"/><circle r="10.45" fill="none" stroke="#e3262a" stroke-width="0.95"/><circle r="11.55" fill="none" stroke="#2242aa" stroke-width="0.7"/><circle r="12.65" fill="none" stroke="#e3262a" stroke-width="0.95"/><circle r="13.75" fill="none" stroke="#2242aa" stroke-width="0.7"/><circle r="14.85" fill="none" stroke="#e3262a" stroke-width="0.95"/></g>
<g id="rg5"><rect x="-11" y="-11" width="22" height="22" fill="#f8e4e8"/><circle r="0.5" fill="none" stroke="#2242aa" stroke-width="0.6"/><circle r="1.5" fill="none" stroke="#e3262a" stroke-width="0.9"/><circle r="2.5" fill="none" stroke="#2242aa" stroke-width="0.6"/><circle r="3.5" fill="none" stroke="#e3262a" stroke-width="0.9"/><circle r="4.5" fill="none" stroke="#2242aa" stroke-width="0.6"/><circle r="5.5" fill="none" stroke="#e3262a" stroke-width="0.9"/><circle r="6.5" fill="none" stroke="#2242aa" stroke-width="0.6"/><circle r="7.5" fill="none" stroke="#e3262a" stroke-width="0.9"/><circle r="8.5" fill="none" stroke="#2242aa" stroke-width="0.6"/><circle r="9.5" fill="none" stroke="#e3262a" stroke-width="0.9"/><circle r="10.5" fill="none" stroke="#2242aa" stroke-width="0.6"/><circle r="11.5" fill="none" stroke="#e3262a" stroke-width="0.9"/><circle r="12.5" fill="none" stroke="#2242aa" stroke-width="0.6"/><circle r="13.5" fill="none" stroke="#e3262a" stroke-width="0.9"/><circle r="14.5" fill="none" stroke="#2242aa" stroke-width="0.6"/></g></defs>
<g id="lattice">
<g stroke="#000" stroke-width="2.6" fill="none"><line x1="197.7" y1="26.2" x2="197.7" y2="157.6" stroke-dasharray="12.2 9" stroke-dashoffset="0.5"/><line x1="276.5" y1="26.2" x2="276.5" y2="157.6" stroke-dasharray="12 9.2" stroke-dashoffset="1.7"/><line x1="197.7" y1="27" x2="276.5" y2="27" stroke-dasharray="11.5 8.9" stroke-dashoffset="12"/><line x1="197.7" y1="157.6" x2="276.5" y2="157.6" stroke-dasharray="11.5 9.2" stroke-dashoffset="16.3"/></g>
<ellipse cx="197.8" cy="26.2" rx="10.2" ry="10.8" fill="#1e9ed9"/>
<ellipse cx="276.6" cy="26.2" rx="10.2" ry="10.8" fill="#1e9ed9"/>
<ellipse cx="158.4" cy="92" rx="10.2" ry="10.8" fill="#1e9ed9"/>
<ellipse cx="235.9" cy="92" rx="10.2" ry="10.8" fill="#1e9ed9"/>
<ellipse cx="314.7" cy="92" rx="10.2" ry="10.8" fill="#1e9ed9"/>
<ellipse cx="197.8" cy="157.5" rx="10.2" ry="10.8" fill="#1e9ed9"/>
<ellipse cx="276.6" cy="157.5" rx="10.2" ry="10.8" fill="#1e9ed9"/>
<line x1="313.4" y1="92" x2="207" y2="32.6" stroke="#20a24b" stroke-width="3.8"/>
<polygon points="197.5,27.2 213.5,29 207.2,40.2" fill="#20a24b"/>
<line x1="313.4" y1="92" x2="246" y2="92" stroke="#e8772d" stroke-width="3.8"/>
<polygon points="234.5,92 248.5,85.6 248.5,98.4" fill="#e8772d"/>
<text x="252" y="49.5" font-family='"Liberation Serif", serif' font-weight="bold" font-style="italic" font-size="25" fill="#20a24b">J<tspan font-size="17" dy="5">2</tspan></text>
<text x="252" y="117" font-family='"Liberation Serif", serif' font-weight="bold" font-style="italic" font-size="25" fill="#e8772d">J<tspan font-size="17" dy="5">1</tspan></text>
<path d="M131 99 V146 H172" fill="none" stroke="#000" stroke-width="2.6"/>
<polygon points="131,92.5 127,101.5 135,101.5" fill="#000"/>
<polygon points="179,146 170,142 170,150" fill="#000"/>
<text x="121.5" y="125.5" text-anchor="middle" font-family='"Liberation Serif", serif' font-weight="bold" font-size="10.5">Y</text>
<text x="155.5" y="158" text-anchor="middle" font-family='"Liberation Serif", serif' font-weight="bold" font-size="10.5">X</text>
</g>
<g id="wheelaxes">
<line x1="247.5" y1="236.1" x2="345" y2="236.1" stroke="#000" stroke-width="2.7"/>
<line x1="299.7" y1="285" x2="299.7" y2="187" stroke="#000" stroke-width="2.7"/>
<polygon points="351.8,236.1 341.5,231 343.8,236.1 341.5,241.2" fill="#000"/>
<polygon points="299.7,179.5 294.6,190 299.7,187.6 304.8,190" fill="#000"/>
<text x="309.5" y="190" font-family='"Liberation Serif", serif' font-weight="bold" font-style="italic" font-size="13.5">S<tspan font-size="8" dy="-5">y</tspan></text>
<text x="348.5" y="249.7" font-family='"Liberation Serif", serif' font-weight="bold" font-style="italic" font-size="13.5">S<tspan font-size="8" dy="-5">x</tspan></text>
</g>
<g id="texture" clip-path="url(#texclip)">
<g filter="url(#bwr2)"><rect x="83.8" y="169.8" width="136.4" height="128.8" fill="#000"/><ellipse cx="150.8" cy="233.3" rx="16" ry="30" fill="#a0a0a0"/><ellipse cx="150.8" cy="233.3" rx="23" ry="16" fill="#a0a0a0"/><ellipse cx="150.8" cy="233.3" rx="18" ry="14" fill="#fff"/></g>
<line x1="104.55" y1="191.21" x2="105.25" y2="191.15" stroke="#6a1d33" stroke-width="2.5" stroke-linecap="round" stroke-opacity="0.85"/>
<line x1="109.95" y1="191.17" x2="110.65" y2="191.19" stroke="#65223d" stroke-width="2.5" stroke-linecap="round" stroke-opacity="0.85"/>
<line x1="115.35" y1="191.12" x2="116.05" y2="191.24" stroke="#602645" stroke-width="2.5" stroke-linecap="round" stroke-opacity="0.85"/>
<line x1="120.76" y1="191.06" x2="121.44" y2="191.3" stroke="#5b2a4c" stroke-width="2.49" stroke-linecap="round" stroke-opacity="0.85"/>
<line x1="126.17" y1="190.99" x2="126.83" y2="191.37" stroke="#552b51" stroke-width="2.48" stroke-linecap="round" stroke-opacity="0.85"/>
<line x1="131.6" y1="190.92" x2="132.2" y2="191.44" stroke="#512b56" stroke-width="2.48" stroke-linecap="round" stroke-opacity="1"/>
<line x1="137.06" y1="190.84" x2="137.54" y2="191.52" stroke="#4c2958" stroke-width="2.47" stroke-linecap="round" stroke-opacity="1"/>
<line x1="142.54" y1="190.78" x2="142.86" y2="191.58" stroke="#4d2659" stroke-width="2.46" stroke-linecap="round" stroke-opacity="1"/>
<line x1="148.04" y1="190.74" x2="148.16" y2="191.62" stroke="#53245a" stroke-width="2.45" stroke-linecap="round" stroke-opacity="1"/>
<line x1="153.56" y1="190.74" x2="153.44" y2="191.62" stroke="#65245a" stroke-width="2.45" stroke-linecap="round" stroke-opacity="1"/>
<line x1="159.06" y1="190.78" x2="158.74" y2="191.58" stroke="#7f2459" stroke-width="2.46" stroke-linecap="round" stroke-opacity="1"/>
<line x1="164.54" y1="190.84" x2="164.06" y2="191.52" stroke="#8b1a4f" stroke-width="2.47" stroke-linecap="round" stroke-opacity="1"/>
<line x1="170" y1="190.92" x2="169.4" y2="191.44" stroke="#931145" stroke-width="2.48" stroke-linecap="round" stroke-opacity="1"/>
<line x1="175.43" y1="190.99" x2="174.77" y2="191.37" stroke="#920e38" stroke-width="2.48" stroke-linecap="round" stroke-opacity="0.85"/>
<line x1="180.84" y1="191.06" x2="180.16" y2="191.3" stroke="#8c0e2b" stroke-width="2.49" stroke-linecap="round" stroke-opacity="0.85"/>
<line x1="186.25" y1="191.12" x2="185.55" y2="191.24" stroke="#860d23" stroke-width="2.5" stroke-linecap="round" stroke-opacity="0.85"/>
<line x1="191.65" y1="191.17" x2="190.95" y2="191.19" stroke="#810f22" stroke-width="2.5" stroke-linecap="round" stroke-opacity="0.85"/>
<line x1="197.05" y1="191.21" x2="196.35" y2="191.15" stroke="#7c0f22" stroke-width="2.5" stroke-linecap="round" stroke-opacity="0.85"/>
<line x1="202.44" y1="191.25" x2="201.76" y2="191.11" stroke="#781022" stroke-width="2.5" stroke-linecap="round" stroke-opacity="0.85"/>
<line x1="101.86" y1="195.95" x2="102.54" y2="195.77" stroke="#6c2031" stroke-width="2.5" stroke-linecap="round" stroke-opacity="0.85"/>
<line x1="107.25" y1="195.91" x2="107.95" y2="195.81" stroke="#6a283b" stroke-width="2.5" stroke-linecap="round" stroke-opacity="0.85"/>
<line x1="112.64" y1="195.86" x2="113.36" y2="195.86" stroke="#63304a" stroke-width="2.49" stroke-linecap="round" stroke-opacity="0.85"/>
<line x1="118.03" y1="195.81" x2="118.77" y2="195.91" stroke="#593759" stroke-width="2.49" stroke-linecap="round" stroke-opacity="0.85"/>
<line x1="123.42" y1="195.73" x2="124.18" y2="195.99" stroke="#523b62" stroke-width="2.47" stroke-linecap="round" stroke-opacity="1"/>
<line x1="128.82" y1="195.64" x2="129.58" y2="196.08" stroke="#493c69" stroke-width="2.45" stroke-linecap="round" stroke-opacity="1"/>
<line x1="134.24" y1="195.53" x2="134.96" y2="196.19" stroke="#423b6f" stroke-width="2.43" stroke-linecap="round" stroke-opacity="1"/>
<line x1="139.72" y1="195.41" x2="140.28" y2="196.31" stroke="#3d356f" stroke-width="2.4" stroke-linecap="round" stroke-opacity="1"/>
<line x1="145.24" y1="195.31" x2="145.56" y2="196.41" stroke="#433171" stroke-width="2.38" stroke-linecap="round" stroke-opacity="1"/>
<line x1="150.8" y1="195.28" x2="150.8" y2="196.44" stroke="#4d2c6f" stroke-width="2.38" stroke-linecap="round" stroke-opacity="1"/>
<line x1="156.36" y1="195.31" x2="156.04" y2="196.41" stroke="#7a3071" stroke-width="2.38" stroke-linecap="round" stroke-opacity="1"/>
<line x1="161.88" y1="195.41" x2="161.32" y2="196.31" stroke="#942466" stroke-width="2.4" stroke-linecap="round" stroke-opacity="1"/>
<line x1="167.36" y1="195.53" x2="166.64" y2="196.19" stroke="#a31657" stroke-width="2.43" stroke-linecap="round" stroke-opacity="1"/>
<line x1="172.78" y1="195.64" x2="172.02" y2="196.08" stroke="#a51044" stroke-width="2.45" stroke-linecap="round" stroke-opacity="1"/>
<line x1="178.18" y1="195.73" x2="177.42" y2="195.99" stroke="#9c102e" stroke-width="2.47" stroke-linecap="round" stroke-opacity="1"/>
<line x1="183.57" y1="195.81" x2="182.83" y2="195.91" stroke="#931022" stroke-width="2.49" stroke-linecap="round" stroke-opacity="0.85"/>
<line x1="188.96" y1="195.86" x2="188.24" y2="195.86" stroke="#8b1322" stroke-width="2.49" stroke-linecap="round" stroke-opacity="0.85"/>
<line x1="194.35" y1="195.91" x2="193.65" y2="195.81" stroke="#841421" stroke-width="2.5" stroke-linecap="round" stroke-opacity="0.85"/>
<line x1="199.74" y1="195.95" x2="199.06" y2="195.77" stroke="#7e1422" stroke-width="2.5" stroke-linecap="round" stroke-opacity="0.85"/>
<line x1="104.56" y1="200.66" x2="105.24" y2="200.42" stroke="#6b2b36" stroke-width="2.5" stroke-linecap="round" stroke-opacity="0.85"/>
<line x1="109.94" y1="200.62" x2="110.66" y2="200.46" stroke="#6a3844" stroke-width="2.49" stroke-linecap="round" stroke-opacity="0.85"/>
<line x1="115.31" y1="200.57" x2="116.09" y2="200.51" stroke="#62455a" stroke-width="2.48" stroke-linecap="round" stroke-opacity="1"/>
<line x1="120.67" y1="200.5" x2="121.53" y2="200.58" stroke="#4f5076" stroke-width="2.46" stroke-linecap="round" stroke-opacity="1"/>
<line x1="126.02" y1="200.39" x2="126.98" y2="200.69" stroke="#445583" stroke-width="2.42" stroke-linecap="round" stroke-opacity="1"/>
<line x1="131.38" y1="200.24" x2="132.42" y2="200.84" stroke="#37538b" stroke-width="2.37" stroke-linecap="round" stroke-opacity="1"/>
<line x1="136.81" y1="200.04" x2="137.79" y2="201.04" stroke="#2f4e8f" stroke-width="2.32" stroke-linecap="round" stroke-opacity="1"/>
<line x1="142.33" y1="199.84" x2="143.07" y2="201.24" stroke="#2a438d" stroke-width="2.27" stroke-linecap="round" stroke-opacity="1"/>
<line x1="147.96" y1="199.7" x2="148.24" y2="201.38" stroke="#393d8d" stroke-width="2.24" stroke-linecap="round" stroke-opacity="1"/>
<line x1="153.64" y1="199.7" x2="153.36" y2="201.38" stroke="#643c8d" stroke-width="2.24" stroke-linecap="round" stroke-opacity="1"/>
<line x1="159.27" y1="199.84" x2="158.53" y2="201.24" stroke="#9a3486" stroke-width="2.27" stroke-linecap="round" stroke-opacity="1"/>
<line x1="164.79" y1="200.04" x2="163.81" y2="201.04" stroke="#b61e71" stroke-width="2.32" stroke-linecap="round" stroke-opacity="1"/>
<line x1="170.22" y1="200.24" x2="169.18" y2="200.84" stroke="#bf1254" stroke-width="2.37" stroke-linecap="round" stroke-opacity="1"/>
<line x1="175.58" y1="200.39" x2="174.62" y2="200.69" stroke="#b31331" stroke-width="2.42" stroke-linecap="round" stroke-opacity="1"/>
<line x1="180.93" y1="200.5" x2="180.07" y2="200.58" stroke="#a61622" stroke-width="2.46" stroke-linecap="round" stroke-opacity="1"/>
<line x1="186.29" y1="200.57" x2="185.51" y2="200.51" stroke="#9a1a21" stroke-width="2.48" stroke-linecap="round" stroke-opacity="1"/>
<line x1="191.66" y1="200.62" x2="190.94" y2="200.46" stroke="#8f1d21" stroke-width="2.49" stroke-linecap="round" stroke-opacity="0.85"/>
<line x1="197.04" y1="200.66" x2="196.36" y2="200.42" stroke="#861c21" stroke-width="2.5" stroke-linecap="round" stroke-opacity="0.85"/>
<line x1="202.42" y1="200.69" x2="201.78" y2="200.39" stroke="#801921" stroke-width="2.5" stroke-linecap="round" stroke-opacity="0.85"/>
<line x1="101.89" y1="205.4" x2="102.51" y2="205.04" stroke="#6b2c30" stroke-width="2.5" stroke-linecap="round" stroke-opacity="0.85"/>
<line x1="107.26" y1="205.37" x2="107.94" y2="205.07" stroke="#6a3a3b" stroke-width="2.49" stroke-linecap="round" stroke-opacity="0.85"/>
<line x1="112.61" y1="205.34" x2="113.39" y2="205.1" stroke="#684d4e" stroke-width="2.47" stroke-linecap="round" stroke-opacity="1"/>
<line x1="117.94" y1="205.29" x2="118.86" y2="205.15" stroke="#63636c" stroke-width="2.44" stroke-linecap="round" stroke-opacity="1"/>
<line x1="123.22" y1="205.2" x2="124.38" y2="205.24" stroke="#48759a" stroke-width="2.38" stroke-linecap="round" stroke-opacity="1"/>
<line x1="128.49" y1="205.03" x2="129.91" y2="205.41" stroke="#3379af" stroke-width="2.3" stroke-linecap="round" stroke-opacity="1"/>
<line x1="133.79" y1="204.75" x2="135.41" y2="205.69" stroke="#2171b5" stroke-width="2.19" stroke-linecap="round" stroke-opacity="1"/>
<line x1="139.24" y1="204.38" x2="140.76" y2="206.06" stroke="#1b60ae" stroke-width="2.09" stroke-linecap="round" stroke-opacity="1"/>
<line x1="144.93" y1="204.04" x2="145.87" y2="206.4" stroke="#244a9f" stroke-width="2.02" stroke-linecap="round" stroke-opacity="1"/>
<line x1="150.8" y1="203.9" x2="150.8" y2="206.54" stroke="#3c3e98" stroke-width="1.99" stroke-linecap="round" stroke-opacity="1"/>
<line x1="156.67" y1="204.04" x2="155.73" y2="206.4" stroke="#93449e" stroke-width="2.02" stroke-linecap="round" stroke-opacity="1"/>
<line x1="162.36" y1="204.38" x2="160.84" y2="206.06" stroke="#c6278b" stroke-width="2.09" stroke-linecap="round" stroke-opacity="1"/>
<line x1="167.81" y1="204.75" x2="166.19" y2="205.69" stroke="#e01668" stroke-width="2.19" stroke-linecap="round" stroke-opacity="1"/>
<line x1="173.11" y1="205.03" x2="171.69" y2="205.41" stroke="#d21732" stroke-width="2.3" stroke-linecap="round" stroke-opacity="1"/>
<line x1="178.38" y1="205.2" x2="177.22" y2="205.24" stroke="#c02021" stroke-width="2.38" stroke-linecap="round" stroke-opacity="1"/>
<line x1="183.66" y1="205.29" x2="182.74" y2="205.15" stroke="#af2920" stroke-width="2.44" stroke-linecap="round" stroke-opacity="1"/>
<line x1="188.99" y1="205.34" x2="188.21" y2="205.1" stroke="#a02c20" stroke-width="2.47" stroke-linecap="round" stroke-opacity="1"/>
<line x1="194.34" y1="205.37" x2="193.66" y2="205.07" stroke="#932a21" stroke-width="2.49" stroke-linecap="round" stroke-opacity="0.85"/>
<line x1="199.71" y1="205.4" x2="199.09" y2="205.04" stroke="#892521" stroke-width="2.5" stroke-linecap="round" stroke-opacity="0.85"/>
<line x1="104.6" y1="210.12" x2="105.2" y2="209.68" stroke="#693b30" stroke-width="2.49" stroke-linecap="round" stroke-opacity="0.85"/>
<line x1="109.94" y1="210.11" x2="110.66" y2="209.69" stroke="#674f3e" stroke-width="2.47" stroke-linecap="round" stroke-opacity="1"/>
<line x1="115.24" y1="210.09" x2="116.16" y2="209.71" stroke="#656a56" stroke-width="2.42" stroke-linecap="round" stroke-opacity="1"/>
<line x1="120.47" y1="210.05" x2="121.73" y2="209.75" stroke="#638a7e" stroke-width="2.35" stroke-linecap="round" stroke-opacity="1"/>
<line x1="125.62" y1="209.93" x2="127.38" y2="209.87" stroke="#48a5be" stroke-width="2.22" stroke-linecap="round" stroke-opacity="1"/>
<line x1="130.74" y1="209.65" x2="133.06" y2="210.15" stroke="#259bd7" stroke-width="2.06" stroke-linecap="round" stroke-opacity="1"/>
<line x1="135.99" y1="209.14" x2="138.61" y2="210.66" stroke="#1c78bf" stroke-width="1.89" stroke-linecap="round" stroke-opacity="1"/>
<line x1="141.6" y1="208.5" x2="143.8" y2="211.3" stroke="#1b5aaa" stroke-width="1.75" stroke-linecap="round" stroke-opacity="1"/>
<line x1="147.66" y1="208.04" x2="148.54" y2="211.76" stroke="#2e459c" stroke-width="1.68" stroke-linecap="round" stroke-opacity="1"/>
<line x1="153.94" y1="208.04" x2="153.06" y2="211.76" stroke="#73449d" stroke-width="1.68" stroke-linecap="round" stroke-opacity="1"/>
<line x1="160" y1="208.5" x2="157.8" y2="211.3" stroke="#bc2d8f" stroke-width="1.75" stroke-linecap="round" stroke-opacity="1"/>
<line x1="165.61" y1="209.14" x2="162.99" y2="210.66" stroke="#e7166d" stroke-width="1.89" stroke-linecap="round" stroke-opacity="1"/>
<line x1="170.86" y1="209.65" x2="168.54" y2="210.15" stroke="#ec1b2c" stroke-width="2.06" stroke-linecap="round" stroke-opacity="1"/>
<line x1="175.98" y1="209.93" x2="174.22" y2="209.87" stroke="#e1321f" stroke-width="2.22" stroke-linecap="round" stroke-opacity="1"/>
<line x1="181.13" y1="210.05" x2="179.87" y2="209.75" stroke="#cc431f" stroke-width="2.35" stroke-linecap="round" stroke-opacity="1"/>
<line x1="186.36" y1="210.09" x2="185.44" y2="209.71" stroke="#b74620" stroke-width="2.42" stroke-linecap="round" stroke-opacity="1"/>
<line x1="191.66" y1="210.11" x2="190.94" y2="209.69" stroke="#a44020" stroke-width="2.47" stroke-linecap="round" stroke-opacity="1"/>
<line x1="197" y1="210.12" x2="196.4" y2="209.68" stroke="#953521" stroke-width="2.49" stroke-linecap="round" stroke-opacity="0.85"/>
<line x1="202.37" y1="210.13" x2="201.83" y2="209.67" stroke="#892a21" stroke-width="2.5" stroke-linecap="round" stroke-opacity="0.85"/>
<line x1="101.95" y1="214.86" x2="102.45" y2="214.3" stroke="#6a3a27" stroke-width="2.49" stroke-linecap="round" stroke-opacity="0.85"/>
<line x1="107.3" y1="214.86" x2="107.9" y2="214.3" stroke="#674e2b" stroke-width="2.47" stroke-linecap="round" stroke-opacity="1"/>
<line x1="112.6" y1="214.89" x2="113.4" y2="214.27" stroke="#646a3a" stroke-width="2.42" stroke-linecap="round" stroke-opacity="1"/>
<line x1="117.81" y1="214.92" x2="118.99" y2="214.24" stroke="#618d56" stroke-width="2.32" stroke-linecap="round" stroke-opacity="1"/>
<line x1="122.88" y1="214.93" x2="124.72" y2="214.23" stroke="#5fb686" stroke-width="2.17" stroke-linecap="round" stroke-opacity="1"/>
<line x1="127.81" y1="214.78" x2="130.59" y2="214.38" stroke="#59bcb6" stroke-width="1.95" stroke-linecap="round" stroke-opacity="1"/>
<line x1="132.76" y1="214.31" x2="136.44" y2="214.85" stroke="#27a3dd" stroke-width="1.71" stroke-linecap="round" stroke-opacity="1"/>
<line x1="138.1" y1="213.48" x2="141.9" y2="215.68" stroke="#1c78bf" stroke-width="1.53" stroke-linecap="round" stroke-opacity="1"/>
<line x1="144.14" y1="212.58" x2="146.66" y2="216.58" stroke="#1b52a4" stroke-width="1.44" stroke-linecap="round" stroke-opacity="1"/>
<line x1="150.8" y1="212.17" x2="150.8" y2="216.99" stroke="#3c3e98" stroke-width="1.42" stroke-linecap="round" stroke-opacity="1"/>
<line x1="157.46" y1="212.58" x2="154.94" y2="216.58" stroke="#ad3695" stroke-width="1.44" stroke-linecap="round" stroke-opacity="1"/>
<line x1="163.5" y1="213.48" x2="159.7" y2="215.68" stroke="#e7166d" stroke-width="1.53" stroke-linecap="round" stroke-opacity="1"/>
<line x1="168.84" y1="214.31" x2="165.16" y2="214.85" stroke="#ed2023" stroke-width="1.71" stroke-linecap="round" stroke-opacity="1"/>
<line x1="173.79" y1="214.78" x2="171.01" y2="214.38" stroke="#ef471e" stroke-width="1.95" stroke-linecap="round" stroke-opacity="1"/>
<line x1="178.72" y1="214.93" x2="176.88" y2="214.23" stroke="#f06f1e" stroke-width="2.17" stroke-linecap="round" stroke-opacity="1"/>
<line x1="183.79" y1="214.92" x2="182.61" y2="214.24" stroke="#d5711f" stroke-width="2.32" stroke-linecap="round" stroke-opacity="1"/>
<line x1="189" y1="214.89" x2="188.2" y2="214.27" stroke="#bb6120" stroke-width="2.42" stroke-linecap="round" stroke-opacity="1"/>
<line x1="194.3" y1="214.86" x2="193.7" y2="214.3" stroke="#a54e21" stroke-width="2.47" stroke-linecap="round" stroke-opacity="1"/>
<line x1="199.65" y1="214.86" x2="199.15" y2="214.3" stroke="#953d21" stroke-width="2.49" stroke-linecap="round" stroke-opacity="0.85"/>
<line x1="104.67" y1="219.6" x2="105.13" y2="218.92" stroke="#6e4d29" stroke-width="2.47" stroke-linecap="round" stroke-opacity="1"/>
<line x1="109.99" y1="219.65" x2="110.61" y2="218.87" stroke="#6b682b" stroke-width="2.42" stroke-linecap="round" stroke-opacity="1"/>
<line x1="115.23" y1="219.75" x2="116.17" y2="218.77" stroke="#628a2e" stroke-width="2.33" stroke-linecap="round" stroke-opacity="1"/>
<line x1="120.31" y1="219.91" x2="121.89" y2="218.61" stroke="#5db446" stroke-width="2.15" stroke-linecap="round" stroke-opacity="1"/>
<line x1="125.19" y1="220.02" x2="127.81" y2="218.5" stroke="#5db868" stroke-width="1.89" stroke-linecap="round" stroke-opacity="1"/>
<line x1="129.93" y1="219.85" x2="133.87" y2="218.67" stroke="#5ebc97" stroke-width="1.61" stroke-linecap="round" stroke-opacity="1"/>
<line x1="134.9" y1="219.17" x2="139.7" y2="219.35" stroke="#33afdb" stroke-width="1.43" stroke-linecap="round" stroke-opacity="1"/>
<line x1="140.6" y1="218.05" x2="144.8" y2="220.47" stroke="#1c78bf" stroke-width="1.41" stroke-linecap="round" stroke-opacity="1"/>
<line x1="147.24" y1="217.11" x2="148.96" y2="221.41" stroke="#244a9f" stroke-width="1.47" stroke-linecap="round" stroke-opacity="1"/>
<line x1="154.36" y1="217.11" x2="152.64" y2="221.41" stroke="#93449e" stroke-width="1.47" stroke-linecap="round" stroke-opacity="1"/>
<line x1="161" y1="218.05" x2="156.8" y2="220.47" stroke="#e7166d" stroke-width="1.41" stroke-linecap="round" stroke-opacity="1"/>
<line x1="166.7" y1="219.17" x2="161.9" y2="219.35" stroke="#ee2d21" stroke-width="1.43" stroke-linecap="round" stroke-opacity="1"/>
<line x1="171.67" y1="219.85" x2="167.73" y2="218.67" stroke="#f2651e" stroke-width="1.61" stroke-linecap="round" stroke-opacity="1"/>
<line x1="176.41" y1="220.02" x2="173.79" y2="218.5" stroke="#f7931e" stroke-width="1.89" stroke-linecap="round" stroke-opacity="1"/>
<line x1="181.29" y1="219.91" x2="179.71" y2="218.61" stroke="#f7aa1f" stroke-width="2.15" stroke-linecap="round" stroke-opacity="1"/>
<line x1="186.37" y1="219.75" x2="185.43" y2="218.77" stroke="#d69120" stroke-width="2.33" stroke-linecap="round" stroke-opacity="1"/>
<line x1="191.61" y1="219.65" x2="190.99" y2="218.87" stroke="#ba7321" stroke-width="2.42" stroke-linecap="round" stroke-opacity="1"/>
<line x1="196.93" y1="219.6" x2="196.47" y2="218.92" stroke="#a35821" stroke-width="2.47" stroke-linecap="round" stroke-opacity="1"/>
<line x1="202.29" y1="219.58" x2="201.91" y2="218.94" stroke="#934122" stroke-width="2.49" stroke-linecap="round" stroke-opacity="0.85"/>
<line x1="102.05" y1="224.31" x2="102.35" y2="223.57" stroke="#764a29" stroke-width="2.48" stroke-linecap="round" stroke-opacity="1"/>
<line x1="107.41" y1="224.37" x2="107.79" y2="223.51" stroke="#77662b" stroke-width="2.44" stroke-linecap="round" stroke-opacity="1"/>
<line x1="112.7" y1="224.51" x2="113.3" y2="223.37" stroke="#768a2f" stroke-width="2.35" stroke-linecap="round" stroke-opacity="1"/>
<line x1="117.88" y1="224.76" x2="118.92" y2="223.12" stroke="#72b533" stroke-width="2.18" stroke-linecap="round" stroke-opacity="1"/>
<line x1="122.87" y1="225.11" x2="124.73" y2="222.77" stroke="#68b833" stroke-width="1.9" stroke-linecap="round" stroke-opacity="1"/>
<line x1="127.67" y1="225.38" x2="130.73" y2="222.5" stroke="#5cb539" stroke-width="1.58" stroke-linecap="round" stroke-opacity="1"/>
<line x1="132.48" y1="225.16" x2="136.72" y2="222.72" stroke="#5db868" stroke-width="1.4" stroke-linecap="round" stroke-opacity="1"/>
<line x1="137.77" y1="224.26" x2="142.23" y2="223.62" stroke="#59bcb6" stroke-width="1.5" stroke-linecap="round" stroke-opacity="1"/>
<line x1="143.87" y1="223.06" x2="146.93" y2="224.82" stroke="#1c78bf" stroke-width="1.76" stroke-linecap="round" stroke-opacity="1"/>
<line x1="150.8" y1="222.42" x2="150.8" y2="225.46" stroke="#3c3e98" stroke-width="1.89" stroke-linecap="round" stroke-opacity="1"/>
<line x1="157.73" y1="223.06" x2="154.67" y2="224.82" stroke="#e7166d" stroke-width="1.76" stroke-linecap="round" stroke-opacity="1"/>
<line x1="163.83" y1="224.26" x2="159.37" y2="223.62" stroke="#ef471e" stroke-width="1.5" stroke-linecap="round" stroke-opacity="1"/>
<line x1="169.12" y1="225.16" x2="164.88" y2="222.72" stroke="#f7931e" stroke-width="1.4" stroke-linecap="round" stroke-opacity="1"/>
<line x1="173.93" y1="225.38" x2="170.87" y2="222.5" stroke="#f9b51f" stroke-width="1.58" stroke-linecap="round" stroke-opacity="1"/>
<line x1="178.73" y1="225.11" x2="176.87" y2="222.77" stroke="#facc20" stroke-width="1.9" stroke-linecap="round" stroke-opacity="1"/>
<line x1="183.72" y1="224.76" x2="182.68" y2="223.12" stroke="#f5d320" stroke-width="2.18" stroke-linecap="round" stroke-opacity="1"/>
<line x1="188.9" y1="224.51" x2="188.3" y2="223.37" stroke="#d2a621" stroke-width="2.35" stroke-linecap="round" stroke-opacity="1"/>
<line x1="194.19" y1="224.37" x2="193.81" y2="223.51" stroke="#b47c22" stroke-width="2.44" stroke-linecap="round" stroke-opacity="1"/>
<line x1="199.55" y1="224.31" x2="199.25" y2="223.57" stroke="#9b5723" stroke-width="2.48" stroke-linecap="round" stroke-opacity="1"/>
<line x1="104.81" y1="229.05" x2="104.99" y2="228.19" stroke="#7f5e2b" stroke-width="2.46" stroke-linecap="round" stroke-opacity="1"/>
<line x1="110.17" y1="229.18" x2="110.43" y2="228.06" stroke="#85822f" stroke-width="2.38" stroke-linecap="round" stroke-opacity="1"/>
<line x1="115.48" y1="229.44" x2="115.92" y2="227.8" stroke="#8bb034" stroke-width="2.24" stroke-linecap="round" stroke-opacity="1"/>
<line x1="120.69" y1="229.9" x2="121.51" y2="227.34" stroke="#8ac436" stroke-width="1.98" stroke-linecap="round" stroke-opacity="1"/>
<line x1="125.76" y1="230.47" x2="127.24" y2="226.77" stroke="#84c235" stroke-width="1.64" stroke-linecap="round" stroke-opacity="1"/>
<line x1="130.77" y1="230.77" x2="133.03" y2="226.47" stroke="#79be34" stroke-width="1.41" stroke-linecap="round" stroke-opacity="1"/>
<line x1="135.93" y1="230.35" x2="138.67" y2="226.89" stroke="#68b833" stroke-width="1.53" stroke-linecap="round" stroke-opacity="1"/>
<line x1="141.47" y1="229.33" x2="143.93" y2="227.91" stroke="#5db868" stroke-width="1.94" stroke-linecap="round" stroke-opacity="1"/>
<line x1="147.43" y1="228.23" x2="148.77" y2="229.01" stroke="#3f497c" stroke-width="2.28" stroke-linecap="round" stroke-opacity="1"/>
<line x1="154.17" y1="228.23" x2="152.83" y2="229.01" stroke="#b3114d" stroke-width="2.28" stroke-linecap="round" stroke-opacity="1"/>
<line x1="160.13" y1="229.33" x2="157.67" y2="227.91" stroke="#f7931e" stroke-width="1.94" stroke-linecap="round" stroke-opacity="1"/>
<line x1="165.67" y1="230.35" x2="162.93" y2="226.89" stroke="#facc20" stroke-width="1.53" stroke-linecap="round" stroke-opacity="1"/>
<line x1="170.83" y1="230.77" x2="168.57" y2="226.47" stroke="#fce721" stroke-width="1.41" stroke-linecap="round" stroke-opacity="1"/>
<line x1="175.84" y1="230.47" x2="174.36" y2="226.77" stroke="#f1ea24" stroke-width="1.64" stroke-linecap="round" stroke-opacity="1"/>
<line x1="180.91" y1="229.9" x2="180.09" y2="227.34" stroke="#e4e528" stroke-width="1.98" stroke-linecap="round" stroke-opacity="1"/>
<line x1="186.12" y1="229.44" x2="185.68" y2="227.8" stroke="#cfc829" stroke-width="2.24" stroke-linecap="round" stroke-opacity="1"/>
<line x1="191.43" y1="229.18" x2="191.17" y2="228.06" stroke="#af9228" stroke-width="2.38" stroke-linecap="round" stroke-opacity="1"/>
<line x1="196.79" y1="229.05" x2="196.61" y2="228.19" stroke="#996827" stroke-width="2.46" stroke-linecap="round" stroke-opacity="1"/>
<line x1="202.17" y1="228.99" x2="202.03" y2="228.25" stroke="#8a4926" stroke-width="2.48" stroke-linecap="round" stroke-opacity="1"/>
<line x1="102.2" y1="233.7" x2="102.2" y2="232.9" stroke="#84532a" stroke-width="2.47" stroke-linecap="round" stroke-opacity="1"/>
<line x1="107.6" y1="233.8" x2="107.6" y2="232.8" stroke="#8e752e" stroke-width="2.42" stroke-linecap="round" stroke-opacity="1"/>
<line x1="113" y1="234.01" x2="113" y2="232.59" stroke="#9ba233" stroke-width="2.31" stroke-linecap="round" stroke-opacity="1"/>
<line x1="118.4" y1="234.41" x2="118.4" y2="232.19" stroke="#a9cf38" stroke-width="2.1" stroke-linecap="round" stroke-opacity="1"/>
<line x1="123.8" y1="235.02" x2="123.8" y2="231.58" stroke="#a9cf38" stroke-width="1.78" stroke-linecap="round" stroke-opacity="1"/>
<line x1="129.2" y1="235.62" x2="129.2" y2="230.98" stroke="#a9cf38" stroke-width="1.47" stroke-linecap="round" stroke-opacity="1"/>
<line x1="134.6" y1="235.67" x2="134.6" y2="230.93" stroke="#a9cf38" stroke-width="1.44" stroke-linecap="round" stroke-opacity="1"/>
<line x1="140" y1="234.95" x2="140" y2="231.65" stroke="#a9cf38" stroke-width="1.82" stroke-linecap="round" stroke-opacity="1"/>
<line x1="145.4" y1="234.03" x2="145.4" y2="232.57" stroke="#8d732e" stroke-width="2.3" stroke-linecap="round" stroke-opacity="1"/>
<line x1="150.8" y1="233.65" x2="150.8" y2="232.95" stroke="#6e0a22" stroke-width="2.5" stroke-linecap="round" stroke-opacity="0.85"/>
<line x1="156.2" y1="234.03" x2="156.2" y2="232.57" stroke="#8d732e" stroke-width="2.3" stroke-linecap="round" stroke-opacity="1"/>
<line x1="161.6" y1="234.95" x2="161.6" y2="231.65" stroke="#a9cf38" stroke-width="1.82" stroke-linecap="round" stroke-opacity="1"/>
<line x1="167" y1="235.67" x2="167" y2="230.93" stroke="#a9cf38" stroke-width="1.44" stroke-linecap="round" stroke-opacity="1"/>
<line x1="172.4" y1="235.62" x2="172.4" y2="230.98" stroke="#a9cf38" stroke-width="1.47" stroke-linecap="round" stroke-opacity="1"/>
<line x1="177.8" y1="235.02" x2="177.8" y2="231.58" stroke="#a9cf38" stroke-width="1.78" stroke-linecap="round" stroke-opacity="1"/>
<line x1="183.2" y1="234.41" x2="183.2" y2="232.19" stroke="#a9cf38" stroke-width="2.1" stroke-linecap="round" stroke-opacity="1"/>
<line x1="188.6" y1="234.01" x2="188.6" y2="232.59" stroke="#9ba233" stroke-width="2.31" stroke-linecap="round" stroke-opacity="1"/>
<line x1="194" y1="233.8" x2="194" y2="232.8" stroke="#8e752e" stroke-width="2.42" stroke-linecap="round" stroke-opacity="1"/>
<line x1="199.4" y1="233.7" x2="199.4" y2="232.9" stroke="#84532a" stroke-width="2.47" stroke-linecap="round" stroke-opacity="1"/>
<line x1="104.99" y1="238.41" x2="104.81" y2="237.55" stroke="#996827" stroke-width="2.46" stroke-linecap="round" stroke-opacity="1"/>
<line x1="110.43" y1="238.54" x2="110.17" y2="237.42" stroke="#af9228" stroke-width="2.38" stroke-linecap="round" stroke-opacity="1"/>
<line x1="115.92" y1="238.8" x2="115.48" y2="237.16" stroke="#cfc829" stroke-width="2.24" stroke-linecap="round" stroke-opacity="1"/>
<line x1="121.51" y1="239.26" x2="120.69" y2="236.7" stroke="#e4e528" stroke-width="1.98" stroke-linecap="round" stroke-opacity="1"/>
<line x1="127.24" y1="239.83" x2="125.76" y2="236.13" stroke="#f1ea24" stroke-width="1.64" stroke-linecap="round" stroke-opacity="1"/>
<line x1="133.03" y1="240.13" x2="130.77" y2="235.83" stroke="#fce721" stroke-width="1.41" stroke-linecap="round" stroke-opacity="1"/>
<line x1="138.67" y1="239.71" x2="135.93" y2="236.25" stroke="#facc20" stroke-width="1.53" stroke-linecap="round" stroke-opacity="1"/>
<line x1="143.93" y1="238.69" x2="141.47" y2="237.27" stroke="#f7931e" stroke-width="1.94" stroke-linecap="round" stroke-opacity="1"/>
<line x1="148.77" y1="237.59" x2="147.43" y2="238.37" stroke="#b3114d" stroke-width="2.28" stroke-linecap="round" stroke-opacity="1"/>
<line x1="152.83" y1="237.59" x2="154.17" y2="238.37" stroke="#3f497c" stroke-width="2.28" stroke-linecap="round" stroke-opacity="1"/>
<line x1="157.67" y1="238.69" x2="160.13" y2="237.27" stroke="#5db868" stroke-width="1.94" stroke-linecap="round" stroke-opacity="1"/>
<line x1="162.93" y1="239.71" x2="165.67" y2="236.25" stroke="#68b833" stroke-width="1.53" stroke-linecap="round" stroke-opacity="1"/>
<line x1="168.57" y1="240.13" x2="170.83" y2="235.83" stroke="#79be34" stroke-width="1.41" stroke-linecap="round" stroke-opacity="1"/>
<line x1="174.36" y1="239.83" x2="175.84" y2="236.13" stroke="#84c235" stroke-width="1.64" stroke-linecap="round" stroke-opacity="1"/>
<line x1="180.09" y1="239.26" x2="180.91" y2="236.7" stroke="#8ac436" stroke-width="1.98" stroke-linecap="round" stroke-opacity="1"/>
<line x1="185.68" y1="238.8" x2="186.12" y2="237.16" stroke="#8bb034" stroke-width="2.24" stroke-linecap="round" stroke-opacity="1"/>
<line x1="191.17" y1="238.54" x2="191.43" y2="237.42" stroke="#85822f" stroke-width="2.38" stroke-linecap="round" stroke-opacity="1"/>
<line x1="196.61" y1="238.41" x2="196.79" y2="237.55" stroke="#7f5e2b" stroke-width="2.46" stroke-linecap="round" stroke-opacity="1"/>
<line x1="202.03" y1="238.35" x2="202.17" y2="237.61" stroke="#7a4328" stroke-width="2.48" stroke-linecap="round" stroke-opacity="1"/>
<line x1="102.35" y1="243.03" x2="102.05" y2="242.29" stroke="#9b5723" stroke-width="2.48" stroke-linecap="round" stroke-opacity="1"/>
<line x1="107.79" y1="243.09" x2="107.41" y2="242.23" stroke="#b47c22" stroke-width="2.44" stroke-linecap="round" stroke-opacity="1"/>
<line x1="113.3" y1="243.23" x2="112.7" y2="242.09" stroke="#d2a621" stroke-width="2.35" stroke-linecap="round" stroke-opacity="1"/>
<line x1="118.92" y1="243.48" x2="117.88" y2="241.84" stroke="#f5d320" stroke-width="2.18" stroke-linecap="round" stroke-opacity="1"/>
<line x1="124.73" y1="243.83" x2="122.87" y2="241.49" stroke="#facc20" stroke-width="1.9" stroke-linecap="round" stroke-opacity="1"/>
<line x1="130.73" y1="244.1" x2="127.67" y2="241.22" stroke="#f9b51f" stroke-width="1.58" stroke-linecap="round" stroke-opacity="1"/>
<line x1="136.72" y1="243.88" x2="132.48" y2="241.44" stroke="#f7931e" stroke-width="1.4" stroke-linecap="round" stroke-opacity="1"/>
<line x1="142.23" y1="242.98" x2="137.77" y2="242.34" stroke="#ef471e" stroke-width="1.5" stroke-linecap="round" stroke-opacity="1"/>
<line x1="146.93" y1="241.78" x2="143.87" y2="243.54" stroke="#e7166d" stroke-width="1.76" stroke-linecap="round" stroke-opacity="1"/>
<line x1="150.8" y1="241.14" x2="150.8" y2="244.18" stroke="#3c3e98" stroke-width="1.89" stroke-linecap="round" stroke-opacity="1"/>
<line x1="154.67" y1="241.78" x2="157.73" y2="243.54" stroke="#1c78bf" stroke-width="1.76" stroke-linecap="round" stroke-opacity="1"/>
<line x1="159.37" y1="242.98" x2="163.83" y2="242.34" stroke="#59bcb6" stroke-width="1.5" stroke-linecap="round" stroke-opacity="1"/>
<line x1="164.88" y1="243.88" x2="169.12" y2="241.44" stroke="#5db868" stroke-width="1.4" stroke-linecap="round" stroke-opacity="1"/>
<line x1="170.87" y1="244.1" x2="173.93" y2="241.22" stroke="#5cb539" stroke-width="1.58" stroke-linecap="round" stroke-opacity="1"/>
<line x1="176.87" y1="243.83" x2="178.73" y2="241.49" stroke="#68b833" stroke-width="1.9" stroke-linecap="round" stroke-opacity="1"/>
<line x1="182.68" y1="243.48" x2="183.72" y2="241.84" stroke="#72b533" stroke-width="2.18" stroke-linecap="round" stroke-opacity="1"/>
<line x1="188.3" y1="243.23" x2="188.9" y2="242.09" stroke="#768a2f" stroke-width="2.35" stroke-linecap="round" stroke-opacity="1"/>
<line x1="193.81" y1="243.09" x2="194.19" y2="242.23" stroke="#77662b" stroke-width="2.44" stroke-linecap="round" stroke-opacity="1"/>
<line x1="199.25" y1="243.03" x2="199.55" y2="242.29" stroke="#764a29" stroke-width="2.48" stroke-linecap="round" stroke-opacity="1"/>
<line x1="105.13" y1="247.68" x2="104.67" y2="247" stroke="#a35821" stroke-width="2.47" stroke-linecap="round" stroke-opacity="1"/>
<line x1="110.61" y1="247.73" x2="109.99" y2="246.95" stroke="#ba7321" stroke-width="2.42" stroke-linecap="round" stroke-opacity="1"/>
<line x1="116.17" y1="247.83" x2="115.23" y2="246.85" stroke="#d69120" stroke-width="2.33" stroke-linecap="round" stroke-opacity="1"/>
<line x1="121.89" y1="247.99" x2="120.31" y2="246.69" stroke="#f7aa1f" stroke-width="2.15" stroke-linecap="round" stroke-opacity="1"/>
<line x1="127.81" y1="248.1" x2="125.19" y2="246.58" stroke="#f7931e" stroke-width="1.89" stroke-linecap="round" stroke-opacity="1"/>
<line x1="133.87" y1="247.93" x2="129.93" y2="246.75" stroke="#f2651e" stroke-width="1.61" stroke-linecap="round" stroke-opacity="1"/>
<line x1="139.7" y1="247.25" x2="134.9" y2="247.43" stroke="#ee2d21" stroke-width="1.43" stroke-linecap="round" stroke-opacity="1"/>
<line x1="144.8" y1="246.13" x2="140.6" y2="248.55" stroke="#e7166d" stroke-width="1.41" stroke-linecap="round" stroke-opacity="1"/>
<line x1="148.96" y1="245.19" x2="147.24" y2="249.49" stroke="#93449e" stroke-width="1.47" stroke-linecap="round" stroke-opacity="1"/>
<line x1="152.64" y1="245.19" x2="154.36" y2="249.49" stroke="#244a9f" stroke-width="1.47" stroke-linecap="round" stroke-opacity="1"/>
<line x1="156.8" y1="246.13" x2="161" y2="248.55" stroke="#1c78bf" stroke-width="1.41" stroke-linecap="round" stroke-opacity="1"/>
<line x1="161.9" y1="247.25" x2="166.7" y2="247.43" stroke="#33afdb" stroke-width="1.43" stroke-linecap="round" stroke-opacity="1"/>
<line x1="167.73" y1="247.93" x2="171.67" y2="246.75" stroke="#5ebc97" stroke-width="1.61" stroke-linecap="round" stroke-opacity="1"/>
<line x1="173.79" y1="248.1" x2="176.41" y2="246.58" stroke="#5db868" stroke-width="1.89" stroke-linecap="round" stroke-opacity="1"/>
<line x1="179.71" y1="247.99" x2="181.29" y2="246.69" stroke="#5db446" stroke-width="2.15" stroke-linecap="round" stroke-opacity="1"/>
<line x1="185.43" y1="247.83" x2="186.37" y2="246.85" stroke="#628a2e" stroke-width="2.33" stroke-linecap="round" stroke-opacity="1"/>
<line x1="190.99" y1="247.73" x2="191.61" y2="246.95" stroke="#6b682b" stroke-width="2.42" stroke-linecap="round" stroke-opacity="1"/>
<line x1="196.47" y1="247.68" x2="196.93" y2="247" stroke="#6e4d29" stroke-width="2.47" stroke-linecap="round" stroke-opacity="1"/>
<line x1="201.91" y1="247.66" x2="202.29" y2="247.02" stroke="#703827" stroke-width="2.49" stroke-linecap="round" stroke-opacity="0.85"/>
<line x1="102.45" y1="252.3" x2="101.95" y2="251.74" stroke="#953d21" stroke-width="2.49" stroke-linecap="round" stroke-opacity="0.85"/>
<line x1="107.9" y1="252.3" x2="107.3" y2="251.74" stroke="#a54e21" stroke-width="2.47" stroke-linecap="round" stroke-opacity="1"/>
<line x1="113.4" y1="252.33" x2="112.6" y2="251.71" stroke="#bb6120" stroke-width="2.42" stroke-linecap="round" stroke-opacity="1"/>
<line x1="118.99" y1="252.36" x2="117.81" y2="251.68" stroke="#d5711f" stroke-width="2.32" stroke-linecap="round" stroke-opacity="1"/>
<line x1="124.72" y1="252.37" x2="122.88" y2="251.67" stroke="#f06f1e" stroke-width="2.17" stroke-linecap="round" stroke-opacity="1"/>
<line x1="130.59" y1="252.22" x2="127.81" y2="251.82" stroke="#ef471e" stroke-width="1.95" stroke-linecap="round" stroke-opacity="1"/>
<line x1="136.44" y1="251.75" x2="132.76" y2="252.29" stroke="#ed2023" stroke-width="1.71" stroke-linecap="round" stroke-opacity="1"/>
<line x1="141.9" y1="250.92" x2="138.1" y2="253.12" stroke="#e7166d" stroke-width="1.53" stroke-linecap="round" stroke-opacity="1"/>
<line x1="146.66" y1="250.02" x2="144.14" y2="254.02" stroke="#ad3695" stroke-width="1.44" stroke-linecap="round" stroke-opacity="1"/>
<line x1="150.8" y1="249.61" x2="150.8" y2="254.43" stroke="#3c3e98" stroke-width="1.42" stroke-linecap="round" stroke-opacity="1"/>
<line x1="154.94" y1="250.02" x2="157.46" y2="254.02" stroke="#1b52a4" stroke-width="1.44" stroke-linecap="round" stroke-opacity="1"/>
<line x1="159.7" y1="250.92" x2="163.5" y2="253.12" stroke="#1c78bf" stroke-width="1.53" stroke-linecap="round" stroke-opacity="1"/>
<line x1="165.16" y1="251.75" x2="168.84" y2="252.29" stroke="#27a3dd" stroke-width="1.71" stroke-linecap="round" stroke-opacity="1"/>
<line x1="171.01" y1="252.22" x2="173.79" y2="251.82" stroke="#59bcb6" stroke-width="1.95" stroke-linecap="round" stroke-opacity="1"/>
<line x1="176.88" y1="252.37" x2="178.72" y2="251.67" stroke="#5fb686" stroke-width="2.17" stroke-linecap="round" stroke-opacity="1"/>
<line x1="182.61" y1="252.36" x2="183.79" y2="251.68" stroke="#618d56" stroke-width="2.32" stroke-linecap="round" stroke-opacity="1"/>
<line x1="188.2" y1="252.33" x2="189" y2="251.71" stroke="#646a3a" stroke-width="2.42" stroke-linecap="round" stroke-opacity="1"/>
<line x1="193.7" y1="252.3" x2="194.3" y2="251.74" stroke="#674e2b" stroke-width="2.47" stroke-linecap="round" stroke-opacity="1"/>
<line x1="199.15" y1="252.3" x2="199.65" y2="251.74" stroke="#6a3a27" stroke-width="2.49" stroke-linecap="round" stroke-opacity="0.85"/>
<line x1="105.2" y1="256.92" x2="104.6" y2="256.48" stroke="#953521" stroke-width="2.49" stroke-linecap="round" stroke-opacity="0.85"/>
<line x1="110.66" y1="256.91" x2="109.94" y2="256.49" stroke="#a44020" stroke-width="2.47" stroke-linecap="round" stroke-opacity="1"/>
<line x1="116.16" y1="256.89" x2="115.24" y2="256.51" stroke="#b74620" stroke-width="2.42" stroke-linecap="round" stroke-opacity="1"/>
<line x1="121.73" y1="256.85" x2="120.47" y2="256.55" stroke="#cc431f" stroke-width="2.35" stroke-linecap="round" stroke-opacity="1"/>
<line x1="127.38" y1="256.73" x2="125.62" y2="256.67" stroke="#e1321f" stroke-width="2.22" stroke-linecap="round" stroke-opacity="1"/>
<line x1="133.06" y1="256.45" x2="130.74" y2="256.95" stroke="#ec1b2c" stroke-width="2.06" stroke-linecap="round" stroke-opacity="1"/>
<line x1="138.61" y1="255.94" x2="135.99" y2="257.46" stroke="#e7166d" stroke-width="1.89" stroke-linecap="round" stroke-opacity="1"/>
<line x1="143.8" y1="255.3" x2="141.6" y2="258.1" stroke="#bc2d8f" stroke-width="1.75" stroke-linecap="round" stroke-opacity="1"/>
<line x1="148.54" y1="254.84" x2="147.66" y2="258.56" stroke="#73449d" stroke-width="1.68" stroke-linecap="round" stroke-opacity="1"/>
<line x1="153.06" y1="254.84" x2="153.94" y2="258.56" stroke="#2e459c" stroke-width="1.68" stroke-linecap="round" stroke-opacity="1"/>
<line x1="157.8" y1="255.3" x2="160" y2="258.1" stroke="#1b5aaa" stroke-width="1.75" stroke-linecap="round" stroke-opacity="1"/>
<line x1="162.99" y1="255.94" x2="165.61" y2="257.46" stroke="#1c78bf" stroke-width="1.89" stroke-linecap="round" stroke-opacity="1"/>
<line x1="168.54" y1="256.45" x2="170.86" y2="256.95" stroke="#259bd7" stroke-width="2.06" stroke-linecap="round" stroke-opacity="1"/>
<line x1="174.22" y1="256.73" x2="175.98" y2="256.67" stroke="#48a5be" stroke-width="2.22" stroke-linecap="round" stroke-opacity="1"/>
<line x1="179.87" y1="256.85" x2="181.13" y2="256.55" stroke="#638a7e" stroke-width="2.35" stroke-linecap="round" stroke-opacity="1"/>
<line x1="185.44" y1="256.89" x2="186.36" y2="256.51" stroke="#656a56" stroke-width="2.42" stroke-linecap="round" stroke-opacity="1"/>
<line x1="190.94" y1="256.91" x2="191.66" y2="256.49" stroke="#674f3e" stroke-width="2.47" stroke-linecap="round" stroke-opacity="1"/>
<line x1="196.4" y1="256.92" x2="197" y2="256.48" stroke="#693b30" stroke-width="2.49" stroke-linecap="round" stroke-opacity="0.85"/>
<line x1="201.83" y1="256.93" x2="202.37" y2="256.47" stroke="#6b2b28" stroke-width="2.5" stroke-linecap="round" stroke-opacity="0.85"/>
<line x1="102.51" y1="261.56" x2="101.89" y2="261.2" stroke="#892521" stroke-width="2.5" stroke-linecap="round" stroke-opacity="0.85"/>
<line x1="107.94" y1="261.53" x2="107.26" y2="261.23" stroke="#932a21" stroke-width="2.49" stroke-linecap="round" stroke-opacity="0.85"/>
<line x1="113.39" y1="261.5" x2="112.61" y2="261.26" stroke="#a02c20" stroke-width="2.47" stroke-linecap="round" stroke-opacity="1"/>
<line x1="118.86" y1="261.45" x2="117.94" y2="261.31" stroke="#af2920" stroke-width="2.44" stroke-linecap="round" stroke-opacity="1"/>
<line x1="124.38" y1="261.36" x2="123.22" y2="261.4" stroke="#c02021" stroke-width="2.38" stroke-linecap="round" stroke-opacity="1"/>
<line x1="129.91" y1="261.19" x2="128.49" y2="261.57" stroke="#d21732" stroke-width="2.3" stroke-linecap="round" stroke-opacity="1"/>
<line x1="135.41" y1="260.91" x2="133.79" y2="261.85" stroke="#e01668" stroke-width="2.19" stroke-linecap="round" stroke-opacity="1"/>
<line x1="140.76" y1="260.54" x2="139.24" y2="262.22" stroke="#c6278b" stroke-width="2.09" stroke-linecap="round" stroke-opacity="1"/>
<line x1="145.87" y1="260.2" x2="144.93" y2="262.56" stroke="#93449e" stroke-width="2.02" stroke-linecap="round" stroke-opacity="1"/>
<line x1="150.8" y1="260.06" x2="150.8" y2="262.7" stroke="#3c3e98" stroke-width="1.99" stroke-linecap="round" stroke-opacity="1"/>
<line x1="155.73" y1="260.2" x2="156.67" y2="262.56" stroke="#244a9f" stroke-width="2.02" stroke-linecap="round" stroke-opacity="1"/>
<line x1="160.84" y1="260.54" x2="162.36" y2="262.22" stroke="#1b60ae" stroke-width="2.09" stroke-linecap="round" stroke-opacity="1"/>
<line x1="166.19" y1="260.91" x2="167.81" y2="261.85" stroke="#2171b5" stroke-width="2.19" stroke-linecap="round" stroke-opacity="1"/>
<line x1="171.69" y1="261.19" x2="173.11" y2="261.57" stroke="#3379af" stroke-width="2.3" stroke-linecap="round" stroke-opacity="1"/>
<line x1="177.22" y1="261.36" x2="178.38" y2="261.4" stroke="#48759a" stroke-width="2.38" stroke-linecap="round" stroke-opacity="1"/>
<line x1="182.74" y1="261.45" x2="183.66" y2="261.31" stroke="#63636c" stroke-width="2.44" stroke-linecap="round" stroke-opacity="1"/>
<line x1="188.21" y1="261.5" x2="188.99" y2="261.26" stroke="#684d4e" stroke-width="2.47" stroke-linecap="round" stroke-opacity="1"/>
<line x1="193.66" y1="261.53" x2="194.34" y2="261.23" stroke="#6a3a3b" stroke-width="2.49" stroke-linecap="round" stroke-opacity="0.85"/>
<line x1="199.09" y1="261.56" x2="199.71" y2="261.2" stroke="#6b2c30" stroke-width="2.5" stroke-linecap="round" stroke-opacity="0.85"/>
<line x1="105.24" y1="266.18" x2="104.56" y2="265.94" stroke="#861c21" stroke-width="2.5" stroke-linecap="round" stroke-opacity="0.85"/>
<line x1="110.66" y1="266.14" x2="109.94" y2="265.98" stroke="#8f1d21" stroke-width="2.49" stroke-linecap="round" stroke-opacity="0.85"/>
<line x1="116.09" y1="266.09" x2="115.31" y2="266.03" stroke="#9a1a21" stroke-width="2.48" stroke-linecap="round" stroke-opacity="1"/>
<line x1="121.53" y1="266.02" x2="120.67" y2="266.1" stroke="#a61622" stroke-width="2.46" stroke-linecap="round" stroke-opacity="1"/>
<line x1="126.98" y1="265.91" x2="126.02" y2="266.21" stroke="#b31331" stroke-width="2.42" stroke-linecap="round" stroke-opacity="1"/>
<line x1="132.42" y1="265.76" x2="131.38" y2="266.36" stroke="#bf1254" stroke-width="2.37" stroke-linecap="round" stroke-opacity="1"/>
<line x1="137.79" y1="265.56" x2="136.81" y2="266.56" stroke="#b61e71" stroke-width="2.32" stroke-linecap="round" stroke-opacity="1"/>
<line x1="143.07" y1="265.36" x2="142.33" y2="266.76" stroke="#9a3486" stroke-width="2.27" stroke-linecap="round" stroke-opacity="1"/>
<line x1="148.24" y1="265.22" x2="147.96" y2="266.9" stroke="#643c8d" stroke-width="2.24" stroke-linecap="round" stroke-opacity="1"/>
<line x1="153.36" y1="265.22" x2="153.64" y2="266.9" stroke="#393d8d" stroke-width="2.24" stroke-linecap="round" stroke-opacity="1"/>
<line x1="158.53" y1="265.36" x2="159.27" y2="266.76" stroke="#2a438d" stroke-width="2.27" stroke-linecap="round" stroke-opacity="1"/>
<line x1="163.81" y1="265.56" x2="164.79" y2="266.56" stroke="#2f4e8f" stroke-width="2.32" stroke-linecap="round" stroke-opacity="1"/>
<line x1="169.18" y1="265.76" x2="170.22" y2="266.36" stroke="#37538b" stroke-width="2.37" stroke-linecap="round" stroke-opacity="1"/>
<line x1="174.62" y1="265.91" x2="175.58" y2="266.21" stroke="#445583" stroke-width="2.42" stroke-linecap="round" stroke-opacity="1"/>
<line x1="180.07" y1="266.02" x2="180.93" y2="266.1" stroke="#4f5076" stroke-width="2.46" stroke-linecap="round" stroke-opacity="1"/>
<line x1="185.51" y1="266.09" x2="186.29" y2="266.03" stroke="#62455a" stroke-width="2.48" stroke-linecap="round" stroke-opacity="1"/>
<line x1="190.94" y1="266.14" x2="191.66" y2="265.98" stroke="#6a3844" stroke-width="2.49" stroke-linecap="round" stroke-opacity="0.85"/>
<line x1="196.36" y1="266.18" x2="197.04" y2="265.94" stroke="#6b2b36" stroke-width="2.5" stroke-linecap="round" stroke-opacity="0.85"/>
<line x1="201.78" y1="266.21" x2="202.42" y2="265.91" stroke="#6c212d" stroke-width="2.5" stroke-linecap="round" stroke-opacity="0.85"/>
<line x1="102.54" y1="270.83" x2="101.86" y2="270.65" stroke="#7e1422" stroke-width="2.5" stroke-linecap="round" stroke-opacity="0.85"/>
<line x1="107.95" y1="270.79" x2="107.25" y2="270.69" stroke="#841421" stroke-width="2.5" stroke-linecap="round" stroke-opacity="0.85"/>
<line x1="113.36" y1="270.74" x2="112.64" y2="270.74" stroke="#8b1322" stroke-width="2.49" stroke-linecap="round" stroke-opacity="0.85"/>
<line x1="118.77" y1="270.69" x2="118.03" y2="270.79" stroke="#931022" stroke-width="2.49" stroke-linecap="round" stroke-opacity="0.85"/>
<line x1="124.18" y1="270.61" x2="123.42" y2="270.87" stroke="#9c102e" stroke-width="2.47" stroke-linecap="round" stroke-opacity="1"/>
<line x1="129.58" y1="270.52" x2="128.82" y2="270.96" stroke="#a51044" stroke-width="2.45" stroke-linecap="round" stroke-opacity="1"/>
<line x1="134.96" y1="270.41" x2="134.24" y2="271.07" stroke="#a31657" stroke-width="2.43" stroke-linecap="round" stroke-opacity="1"/>
<line x1="140.28" y1="270.29" x2="139.72" y2="271.19" stroke="#942466" stroke-width="2.4" stroke-linecap="round" stroke-opacity="1"/>
<line x1="145.56" y1="270.19" x2="145.24" y2="271.29" stroke="#7a3071" stroke-width="2.38" stroke-linecap="round" stroke-opacity="1"/>
<line x1="150.8" y1="270.16" x2="150.8" y2="271.32" stroke="#4d2c6f" stroke-width="2.38" stroke-linecap="round" stroke-opacity="1"/>
<line x1="156.04" y1="270.19" x2="156.36" y2="271.29" stroke="#433171" stroke-width="2.38" stroke-linecap="round" stroke-opacity="1"/>
<line x1="161.32" y1="270.29" x2="161.88" y2="271.19" stroke="#3d356f" stroke-width="2.4" stroke-linecap="round" stroke-opacity="1"/>
<line x1="166.64" y1="270.41" x2="167.36" y2="271.07" stroke="#423b6f" stroke-width="2.43" stroke-linecap="round" stroke-opacity="1"/>
<line x1="172.02" y1="270.52" x2="172.78" y2="270.96" stroke="#493c69" stroke-width="2.45" stroke-linecap="round" stroke-opacity="1"/>
<line x1="177.42" y1="270.61" x2="178.18" y2="270.87" stroke="#523b62" stroke-width="2.47" stroke-linecap="round" stroke-opacity="1"/>
<line x1="182.83" y1="270.69" x2="183.57" y2="270.79" stroke="#593759" stroke-width="2.49" stroke-linecap="round" stroke-opacity="0.85"/>
<line x1="188.24" y1="270.74" x2="188.96" y2="270.74" stroke="#63304a" stroke-width="2.49" stroke-linecap="round" stroke-opacity="0.85"/>
<line x1="193.65" y1="270.79" x2="194.35" y2="270.69" stroke="#6a283b" stroke-width="2.5" stroke-linecap="round" stroke-opacity="0.85"/>
<line x1="199.06" y1="270.83" x2="199.74" y2="270.65" stroke="#6c2031" stroke-width="2.5" stroke-linecap="round" stroke-opacity="0.85"/>
<line x1="105.25" y1="275.45" x2="104.55" y2="275.39" stroke="#7c0f22" stroke-width="2.5" stroke-linecap="round" stroke-opacity="0.85"/>
<line x1="110.65" y1="275.41" x2="109.95" y2="275.43" stroke="#810f22" stroke-width="2.5" stroke-linecap="round" stroke-opacity="0.85"/>
<line x1="116.05" y1="275.36" x2="115.35" y2="275.48" stroke="#860d23" stroke-width="2.5" stroke-linecap="round" stroke-opacity="0.85"/>
<line x1="121.44" y1="275.3" x2="120.76" y2="275.54" stroke="#8c0e2b" stroke-width="2.49" stroke-linecap="round" stroke-opacity="0.85"/>
<line x1="126.83" y1="275.23" x2="126.17" y2="275.61" stroke="#920e38" stroke-width="2.48" stroke-linecap="round" stroke-opacity="0.85"/>
<line x1="132.2" y1="275.16" x2="131.6" y2="275.68" stroke="#931145" stroke-width="2.48" stroke-linecap="round" stroke-opacity="1"/>
<line x1="137.54" y1="275.08" x2="137.06" y2="275.76" stroke="#8b1a4f" stroke-width="2.47" stroke-linecap="round" stroke-opacity="1"/>
<line x1="142.86" y1="275.02" x2="142.54" y2="275.82" stroke="#7f2459" stroke-width="2.46" stroke-linecap="round" stroke-opacity="1"/>
<line x1="148.16" y1="274.98" x2="148.04" y2="275.86" stroke="#65245a" stroke-width="2.45" stroke-linecap="round" stroke-opacity="1"/>
<line x1="153.44" y1="274.98" x2="153.56" y2="275.86" stroke="#53245a" stroke-width="2.45" stroke-linecap="round" stroke-opacity="1"/>
<line x1="158.74" y1="275.02" x2="159.06" y2="275.82" stroke="#4d2659" stroke-width="2.46" stroke-linecap="round" stroke-opacity="1"/>
<line x1="164.06" y1="275.08" x2="164.54" y2="275.76" stroke="#4c2958" stroke-width="2.47" stroke-linecap="round" stroke-opacity="1"/>
<line x1="169.4" y1="275.16" x2="170" y2="275.68" stroke="#512b56" stroke-width="2.48" stroke-linecap="round" stroke-opacity="1"/>
<line x1="174.77" y1="275.23" x2="175.43" y2="275.61" stroke="#552b51" stroke-width="2.48" stroke-linecap="round" stroke-opacity="0.85"/>
<line x1="180.16" y1="275.3" x2="180.84" y2="275.54" stroke="#5b2a4c" stroke-width="2.49" stroke-linecap="round" stroke-opacity="0.85"/>
<line x1="185.55" y1="275.36" x2="186.25" y2="275.48" stroke="#602645" stroke-width="2.5" stroke-linecap="round" stroke-opacity="0.85"/>
<line x1="190.95" y1="275.41" x2="191.65" y2="275.43" stroke="#65223d" stroke-width="2.5" stroke-linecap="round" stroke-opacity="0.85"/>
<line x1="196.35" y1="275.45" x2="197.05" y2="275.39" stroke="#6a1d33" stroke-width="2.5" stroke-linecap="round" stroke-opacity="0.85"/>
<line x1="201.76" y1="275.49" x2="202.44" y2="275.35" stroke="#6d182d" stroke-width="2.5" stroke-linecap="round" stroke-opacity="0.85"/>
<line x1="102.55" y1="280.11" x2="101.85" y2="280.09" stroke="#770d22" stroke-width="2.5" stroke-linecap="round" stroke-opacity="0.85"/>
<line x1="107.95" y1="280.07" x2="107.25" y2="280.13" stroke="#7a0d22" stroke-width="2.5" stroke-linecap="round" stroke-opacity="0.85"/>
<line x1="113.34" y1="280.03" x2="112.66" y2="280.17" stroke="#7d0c23" stroke-width="2.5" stroke-linecap="round" stroke-opacity="0.85"/>
<line x1="118.73" y1="279.98" x2="118.07" y2="280.22" stroke="#810c28" stroke-width="2.5" stroke-linecap="round" stroke-opacity="0.85"/>
<line x1="124.11" y1="279.92" x2="123.49" y2="280.28" stroke="#850c30" stroke-width="2.5" stroke-linecap="round" stroke-opacity="0.85"/>
<line x1="129.48" y1="279.86" x2="128.92" y2="280.34" stroke="#870e39" stroke-width="2.49" stroke-linecap="round" stroke-opacity="0.85"/>
<line x1="134.83" y1="279.81" x2="134.37" y2="280.39" stroke="#83133f" stroke-width="2.49" stroke-linecap="round" stroke-opacity="0.85"/>
<line x1="140.17" y1="279.76" x2="139.83" y2="280.44" stroke="#7c1a46" stroke-width="2.49" stroke-linecap="round" stroke-opacity="0.85"/>
<line x1="145.49" y1="279.73" x2="145.31" y2="280.47" stroke="#6f1c49" stroke-width="2.48" stroke-linecap="round" stroke-opacity="1"/>
<line x1="150.8" y1="279.71" x2="150.8" y2="280.49" stroke="#5e1b48" stroke-width="2.48" stroke-linecap="round" stroke-opacity="1"/>
<line x1="156.11" y1="279.73" x2="156.29" y2="280.47" stroke="#5a1d49" stroke-width="2.48" stroke-linecap="round" stroke-opacity="1"/>
<line x1="161.43" y1="279.76" x2="161.77" y2="280.44" stroke="#571e48" stroke-width="2.49" stroke-linecap="round" stroke-opacity="0.85"/>
<line x1="166.77" y1="279.81" x2="167.23" y2="280.39" stroke="#581f46" stroke-width="2.49" stroke-linecap="round" stroke-opacity="0.85"/>
<line x1="172.12" y1="279.86" x2="172.68" y2="280.34" stroke="#5b2044" stroke-width="2.49" stroke-linecap="round" stroke-opacity="0.85"/>
<line x1="177.49" y1="279.92" x2="178.11" y2="280.28" stroke="#5e1f40" stroke-width="2.5" stroke-linecap="round" stroke-opacity="0.85"/>
<line x1="182.87" y1="279.98" x2="183.53" y2="280.22" stroke="#621e3c" stroke-width="2.5" stroke-linecap="round" stroke-opacity="0.85"/>
<line x1="188.26" y1="280.03" x2="188.94" y2="280.17" stroke="#651c38" stroke-width="2.5" stroke-linecap="round" stroke-opacity="0.85"/>
<line x1="193.65" y1="280.07" x2="194.35" y2="280.13" stroke="#681933" stroke-width="2.5" stroke-linecap="round" stroke-opacity="0.85"/>
<line x1="199.05" y1="280.11" x2="199.75" y2="280.09" stroke="#6b162e" stroke-width="2.5" stroke-linecap="round" stroke-opacity="0.85"/>
</g>
<g id="chart1">
<path d="M452.94 57.57C453.96 60.19 456 66.67 458.03 70.65C460.06 74.63 461.08 75.42 463.12 77.47C465.15 79.51 466.17 79.74 468.2 80.88C470.23 82.02 471.25 82.4 473.28 83.15C475.32 83.9 476.34 84.06 478.37 84.63C480.4 85.2 481.42 85.49 483.45 86C485.49 86.5 486.51 86.63 488.54 87.13C490.57 87.63 491.59 88 493.62 88.5C495.66 88.99 496.68 89.15 498.71 89.59C500.74 90.03 501.76 90.25 503.79 90.69C505.83 91.13 506.85 91.35 508.88 91.79C510.91 92.23 511.93 92.45 513.97 92.89C516 93.32 517.02 93.54 519.05 93.98C521.08 94.42 522.1 94.64 524.13 95.08C526.17 95.52 527.19 95.74 529.22 96.18C531.25 96.62 532.27 96.84 534.3 97.27C536.34 97.71 537.36 97.93 539.39 98.37C541.42 98.81 542.44 99.03 544.48 99.47C546.51 99.91 547.53 100.13 549.56 100.57C551.59 101 552.61 101.22 554.64 101.66C556.68 102.1 557.7 102.32 559.73 102.76C561.76 103.2 562.78 103.42 564.81 103.86C566.85 104.3 567.87 104.52 569.9 104.95C571.93 105.39 572.95 105.61 574.99 106.05C577.02 106.49 578.04 106.71 580.07 107.15C582.1 107.59 583.12 107.81 585.15 108.25C587.19 108.68 588.21 108.9 590.24 109.34C592.27 109.78 594.31 110.22 595.33 110.44" fill="none" stroke="#9b9b32" stroke-width="1.35" stroke-linejoin="round"/>
<polygon points="452.94,55.27 450.76,59.23 455.13,59.23" fill="#9b9b32"/>
<circle cx="452.94" cy="57.77" r="2.3" fill="none" stroke="#9b9b32" stroke-width="0.7"/>
<polygon points="458.03,68.35 455.84,72.3 460.21,72.3" fill="#9b9b32"/>
<circle cx="458.03" cy="70.85" r="2.3" fill="none" stroke="#9b9b32" stroke-width="0.7"/>
<polygon points="463.12,75.17 460.93,79.12 465.3,79.12" fill="#9b9b32"/>
<circle cx="463.12" cy="77.67" r="2.3" fill="none" stroke="#9b9b32" stroke-width="0.7"/>
<polygon points="468.2,78.58 466.01,82.53 470.38,82.53" fill="#9b9b32"/>
<circle cx="468.2" cy="81.08" r="2.3" fill="none" stroke="#9b9b32" stroke-width="0.7"/>
<polygon points="473.28,80.85 471.1,84.81 475.47,84.81" fill="#9b9b32"/>
<circle cx="473.28" cy="83.35" r="2.3" fill="none" stroke="#9b9b32" stroke-width="0.7"/>
<polygon points="478.37,82.33 476.19,86.29 480.56,86.29" fill="#9b9b32"/>
<circle cx="478.37" cy="84.83" r="2.3" fill="none" stroke="#9b9b32" stroke-width="0.7"/>
<polygon points="483.45,83.7 481.27,87.65 485.64,87.65" fill="#9b9b32"/>
<circle cx="483.45" cy="86.2" r="2.3" fill="none" stroke="#9b9b32" stroke-width="0.7"/>
<polygon points="488.54,84.83 486.35,88.79 490.72,88.79" fill="#9b9b32"/>
<circle cx="488.54" cy="87.33" r="2.3" fill="none" stroke="#9b9b32" stroke-width="0.7"/>
<polygon points="493.62,86.2 491.44,90.15 495.81,90.15" fill="#9b9b32"/>
<circle cx="493.62" cy="88.7" r="2.3" fill="none" stroke="#9b9b32" stroke-width="0.7"/>
<polygon points="498.71,87.29 496.52,91.25 500.89,91.25" fill="#9b9b32"/>
<circle cx="498.71" cy="89.79" r="2.3" fill="none" stroke="#9b9b32" stroke-width="0.7"/>
<polygon points="503.79,88.39 501.61,92.35 505.98,92.35" fill="#9b9b32"/>
<circle cx="503.79" cy="90.89" r="2.3" fill="none" stroke="#9b9b32" stroke-width="0.7"/>
<polygon points="508.88,89.49 506.69,93.44 511.06,93.44" fill="#9b9b32"/>
<circle cx="508.88" cy="91.99" r="2.3" fill="none" stroke="#9b9b32" stroke-width="0.7"/>
<polygon points="513.97,90.59 511.78,94.54 516.15,94.54" fill="#9b9b32"/>
<circle cx="513.97" cy="93.09" r="2.3" fill="none" stroke="#9b9b32" stroke-width="0.7"/>
<polygon points="519.05,91.68 516.87,95.64 521.23,95.64" fill="#9b9b32"/>
<circle cx="519.05" cy="94.18" r="2.3" fill="none" stroke="#9b9b32" stroke-width="0.7"/>
<polygon points="524.13,92.78 521.95,96.74 526.32,96.74" fill="#9b9b32"/>
<circle cx="524.13" cy="95.28" r="2.3" fill="none" stroke="#9b9b32" stroke-width="0.7"/>
<polygon points="529.22,93.88 527.04,97.83 531.4,97.83" fill="#9b9b32"/>
<circle cx="529.22" cy="96.38" r="2.3" fill="none" stroke="#9b9b32" stroke-width="0.7"/>
<polygon points="534.3,94.97 532.12,98.93 536.49,98.93" fill="#9b9b32"/>
<circle cx="534.3" cy="97.47" r="2.3" fill="none" stroke="#9b9b32" stroke-width="0.7"/>
<polygon points="539.39,96.07 537.21,100.03 541.57,100.03" fill="#9b9b32"/>
<circle cx="539.39" cy="98.57" r="2.3" fill="none" stroke="#9b9b32" stroke-width="0.7"/>
<polygon points="544.48,97.17 542.29,101.12 546.66,101.12" fill="#9b9b32"/>
<circle cx="544.48" cy="99.67" r="2.3" fill="none" stroke="#9b9b32" stroke-width="0.7"/>
<polygon points="549.56,98.27 547.38,102.22 551.74,102.22" fill="#9b9b32"/>
<circle cx="549.56" cy="100.77" r="2.3" fill="none" stroke="#9b9b32" stroke-width="0.7"/>
<polygon points="554.64,99.36 552.46,103.32 556.83,103.32" fill="#9b9b32"/>
<circle cx="554.64" cy="101.86" r="2.3" fill="none" stroke="#9b9b32" stroke-width="0.7"/>
<polygon points="559.73,100.46 557.55,104.42 561.91,104.42" fill="#9b9b32"/>
<circle cx="559.73" cy="102.96" r="2.3" fill="none" stroke="#9b9b32" stroke-width="0.7"/>
<polygon points="564.81,101.56 562.63,105.51 567,105.51" fill="#9b9b32"/>
<circle cx="564.81" cy="104.06" r="2.3" fill="none" stroke="#9b9b32" stroke-width="0.7"/>
<polygon points="569.9,102.65 567.72,106.61 572.08,106.61" fill="#9b9b32"/>
<circle cx="569.9" cy="105.15" r="2.3" fill="none" stroke="#9b9b32" stroke-width="0.7"/>
<polygon points="574.99,103.75 572.8,107.71 577.17,107.71" fill="#9b9b32"/>
<circle cx="574.99" cy="106.25" r="2.3" fill="none" stroke="#9b9b32" stroke-width="0.7"/>
<polygon points="580.07,104.85 577.88,108.8 582.25,108.8" fill="#9b9b32"/>
<circle cx="580.07" cy="107.35" r="2.3" fill="none" stroke="#9b9b32" stroke-width="0.7"/>
<polygon points="585.15,105.95 582.97,109.9 587.34,109.9" fill="#9b9b32"/>
<circle cx="585.15" cy="108.45" r="2.3" fill="none" stroke="#9b9b32" stroke-width="0.7"/>
<polygon points="590.24,107.04 588.06,111 592.42,111" fill="#9b9b32"/>
<circle cx="590.24" cy="109.54" r="2.3" fill="none" stroke="#9b9b32" stroke-width="0.7"/>
<polygon points="595.33,108.14 593.14,112.1 597.51,112.1" fill="#9b9b32"/>
<circle cx="595.33" cy="110.64" r="2.3" fill="none" stroke="#9b9b32" stroke-width="0.7"/>
<path d="M452.94 58.71C453.96 64.62 456 79.63 458.03 88.27C460.06 96.91 461.08 97.59 463.12 101.91C465.15 106.23 466.17 107.26 468.2 109.87C470.23 112.49 471.25 113.28 473.28 114.99C475.32 116.69 476.34 117.15 478.37 118.4C480.4 119.65 481.42 120.22 483.45 121.24C485.49 122.27 486.51 122.72 488.54 123.52C490.57 124.31 491.59 124.52 493.62 125.22C495.66 125.93 496.68 126.31 498.71 127.04C500.74 127.77 501.76 128.13 503.79 128.86C505.83 129.59 506.85 129.95 508.88 130.68C510.91 131.41 511.93 131.77 513.97 132.5C516 133.23 517.02 133.67 519.05 134.32C521.08 134.97 522.1 135.18 524.13 135.75C526.17 136.32 527.19 136.61 529.22 137.18C531.25 137.76 532.27 138.04 534.3 138.62C536.34 139.19 537.36 139.47 539.39 140.05C541.42 140.62 542.44 140.96 544.48 141.48C546.51 142 547.53 142.19 549.56 142.66C551.59 143.14 552.61 143.37 554.64 143.85C556.68 144.32 557.7 144.56 559.73 145.03C561.76 145.5 562.78 145.74 564.81 146.21C566.85 146.68 567.87 146.93 569.9 147.39C571.93 147.86 572.95 148.08 574.99 148.53C577.02 148.98 578.04 149.21 580.07 149.67C582.1 150.12 583.12 150.35 585.15 150.8C587.19 151.26 588.21 151.49 590.24 151.94C592.27 152.4 594.31 152.85 595.33 153.08" fill="none" stroke="#7b202c" stroke-width="1.35" stroke-linejoin="round"/>
<polygon points="452.94,56.41 450.76,60.36 455.13,60.36" fill="#7b202c"/>
<circle cx="452.94" cy="58.91" r="2.3" fill="none" stroke="#7b202c" stroke-width="0.7"/>
<polygon points="458.03,85.97 455.84,89.93 460.21,89.93" fill="#7b202c"/>
<circle cx="458.03" cy="88.47" r="2.3" fill="none" stroke="#7b202c" stroke-width="0.7"/>
<polygon points="463.12,99.61 460.93,103.57 465.3,103.57" fill="#7b202c"/>
<circle cx="463.12" cy="102.11" r="2.3" fill="none" stroke="#7b202c" stroke-width="0.7"/>
<polygon points="468.2,107.57 466.01,111.53 470.38,111.53" fill="#7b202c"/>
<circle cx="468.2" cy="110.07" r="2.3" fill="none" stroke="#7b202c" stroke-width="0.7"/>
<polygon points="473.28,112.69 471.1,116.64 475.47,116.64" fill="#7b202c"/>
<circle cx="473.28" cy="115.19" r="2.3" fill="none" stroke="#7b202c" stroke-width="0.7"/>
<polygon points="478.37,116.1 476.19,120.06 480.56,120.06" fill="#7b202c"/>
<circle cx="478.37" cy="118.6" r="2.3" fill="none" stroke="#7b202c" stroke-width="0.7"/>
<polygon points="483.45,118.94 481.27,122.9 485.64,122.9" fill="#7b202c"/>
<circle cx="483.45" cy="121.44" r="2.3" fill="none" stroke="#7b202c" stroke-width="0.7"/>
<polygon points="488.54,121.22 486.35,125.17 490.72,125.17" fill="#7b202c"/>
<circle cx="488.54" cy="123.72" r="2.3" fill="none" stroke="#7b202c" stroke-width="0.7"/>
<polygon points="493.62,122.92 491.44,126.88 495.81,126.88" fill="#7b202c"/>
<circle cx="493.62" cy="125.42" r="2.3" fill="none" stroke="#7b202c" stroke-width="0.7"/>
<polygon points="498.71,124.74 496.52,128.7 500.89,128.7" fill="#7b202c"/>
<circle cx="498.71" cy="127.24" r="2.3" fill="none" stroke="#7b202c" stroke-width="0.7"/>
<polygon points="503.79,126.56 501.61,130.52 505.98,130.52" fill="#7b202c"/>
<circle cx="503.79" cy="129.06" r="2.3" fill="none" stroke="#7b202c" stroke-width="0.7"/>
<polygon points="508.88,128.38 506.69,132.34 511.06,132.34" fill="#7b202c"/>
<circle cx="508.88" cy="130.88" r="2.3" fill="none" stroke="#7b202c" stroke-width="0.7"/>
<polygon points="513.97,130.2 511.78,134.15 516.15,134.15" fill="#7b202c"/>
<circle cx="513.97" cy="132.7" r="2.3" fill="none" stroke="#7b202c" stroke-width="0.7"/>
<polygon points="519.05,132.02 516.87,135.97 521.23,135.97" fill="#7b202c"/>
<circle cx="519.05" cy="134.52" r="2.3" fill="none" stroke="#7b202c" stroke-width="0.7"/>
<polygon points="524.13,133.45 521.95,137.41 526.32,137.41" fill="#7b202c"/>
<circle cx="524.13" cy="135.95" r="2.3" fill="none" stroke="#7b202c" stroke-width="0.7"/>
<polygon points="529.22,134.88 527.04,138.84 531.4,138.84" fill="#7b202c"/>
<circle cx="529.22" cy="137.38" r="2.3" fill="none" stroke="#7b202c" stroke-width="0.7"/>
<polygon points="534.3,136.32 532.12,140.27 536.49,140.27" fill="#7b202c"/>
<circle cx="534.3" cy="138.82" r="2.3" fill="none" stroke="#7b202c" stroke-width="0.7"/>
<polygon points="539.39,137.75 537.21,141.7 541.57,141.7" fill="#7b202c"/>
<circle cx="539.39" cy="140.25" r="2.3" fill="none" stroke="#7b202c" stroke-width="0.7"/>
<polygon points="544.48,139.18 542.29,143.14 546.66,143.14" fill="#7b202c"/>
<circle cx="544.48" cy="141.68" r="2.3" fill="none" stroke="#7b202c" stroke-width="0.7"/>
<polygon points="549.56,140.36 547.38,144.32 551.74,144.32" fill="#7b202c"/>
<circle cx="549.56" cy="142.86" r="2.3" fill="none" stroke="#7b202c" stroke-width="0.7"/>
<polygon points="554.64,141.55 552.46,145.5 556.83,145.5" fill="#7b202c"/>
<circle cx="554.64" cy="144.05" r="2.3" fill="none" stroke="#7b202c" stroke-width="0.7"/>
<polygon points="559.73,142.73 557.55,146.68 561.91,146.68" fill="#7b202c"/>
<circle cx="559.73" cy="145.23" r="2.3" fill="none" stroke="#7b202c" stroke-width="0.7"/>
<polygon points="564.81,143.91 562.63,147.87 567,147.87" fill="#7b202c"/>
<circle cx="564.81" cy="146.41" r="2.3" fill="none" stroke="#7b202c" stroke-width="0.7"/>
<polygon points="569.9,145.09 567.72,149.05 572.08,149.05" fill="#7b202c"/>
<circle cx="569.9" cy="147.59" r="2.3" fill="none" stroke="#7b202c" stroke-width="0.7"/>
<polygon points="574.99,146.23 572.8,150.19 577.17,150.19" fill="#7b202c"/>
<circle cx="574.99" cy="148.73" r="2.3" fill="none" stroke="#7b202c" stroke-width="0.7"/>
<polygon points="580.07,147.37 577.88,151.32 582.25,151.32" fill="#7b202c"/>
<circle cx="580.07" cy="149.87" r="2.3" fill="none" stroke="#7b202c" stroke-width="0.7"/>
<polygon points="585.15,148.5 582.97,152.46 587.34,152.46" fill="#7b202c"/>
<circle cx="585.15" cy="151" r="2.3" fill="none" stroke="#7b202c" stroke-width="0.7"/>
<polygon points="590.24,149.64 588.06,153.6 592.42,153.6" fill="#7b202c"/>
<circle cx="590.24" cy="152.14" r="2.3" fill="none" stroke="#7b202c" stroke-width="0.7"/>
<polygon points="595.33,150.78 593.14,154.73 597.51,154.73" fill="#7b202c"/>
<circle cx="595.33" cy="153.28" r="2.3" fill="none" stroke="#7b202c" stroke-width="0.7"/>
<path d="M452.94 57.57C453.96 68.49 456 95.09 458.03 112.15C460.06 129.2 461.08 133.29 463.12 142.85C465.15 152.4 466.17 154.67 468.2 159.9C470.23 165.13 471.25 166.04 473.28 169C475.32 171.95 476.34 172.63 478.37 174.68C480.4 176.73 481.42 177.64 483.45 179.23C485.49 180.82 486.51 181.39 488.54 182.64C490.57 183.89 491.59 184.35 493.62 185.48C495.66 186.62 496.68 187.3 498.71 188.33C500.74 189.35 501.76 189.69 503.79 190.6C505.83 191.51 506.85 191.96 508.88 192.87C510.91 193.78 511.93 194.58 513.97 195.15C516 195.72 517.02 195.37 519.05 195.72C521.08 196.06 522.1 196.51 524.13 196.85C526.17 197.19 527.19 196.4 529.22 197.42C531.25 198.44 532.27 200.83 534.3 201.97C536.34 203.11 537.36 202.76 539.39 203.11C541.42 203.45 542.44 203.33 544.48 203.67C546.51 204.02 547.53 204.13 549.56 204.81C551.59 205.49 552.61 206.18 554.64 207.09C556.68 208 557.7 208.34 559.73 209.36C561.76 210.38 562.78 211.18 564.81 212.2C566.85 213.23 567.87 213.57 569.9 214.48C571.93 215.39 572.95 215.73 574.99 216.75C577.02 217.77 578.04 218.46 580.07 219.59C582.1 220.73 583.12 221.41 585.15 222.44C587.19 223.46 588.21 223.34 590.24 224.71C592.27 226.07 594.31 228.35 595.33 229.26" fill="none" stroke="#31b7c3" stroke-width="1.35" stroke-linejoin="round"/>
<polygon points="452.94,55.27 450.76,59.23 455.13,59.23" fill="#31b7c3"/>
<circle cx="452.94" cy="57.77" r="2.3" fill="none" stroke="#31b7c3" stroke-width="0.7"/>
<polygon points="458.03,109.85 455.84,113.8 460.21,113.8" fill="#31b7c3"/>
<circle cx="458.03" cy="112.35" r="2.3" fill="none" stroke="#31b7c3" stroke-width="0.7"/>
<polygon points="463.12,140.55 460.93,144.5 465.3,144.5" fill="#31b7c3"/>
<circle cx="463.12" cy="143.05" r="2.3" fill="none" stroke="#31b7c3" stroke-width="0.7"/>
<polygon points="468.2,157.6 466.01,161.56 470.38,161.56" fill="#31b7c3"/>
<circle cx="468.2" cy="160.1" r="2.3" fill="none" stroke="#31b7c3" stroke-width="0.7"/>
<polygon points="473.28,166.7 471.1,170.65 475.47,170.65" fill="#31b7c3"/>
<circle cx="473.28" cy="169.2" r="2.3" fill="none" stroke="#31b7c3" stroke-width="0.7"/>
<polygon points="478.37,172.38 476.19,176.34 480.56,176.34" fill="#31b7c3"/>
<circle cx="478.37" cy="174.88" r="2.3" fill="none" stroke="#31b7c3" stroke-width="0.7"/>
<polygon points="483.45,176.93 481.27,180.89 485.64,180.89" fill="#31b7c3"/>
<circle cx="483.45" cy="179.43" r="2.3" fill="none" stroke="#31b7c3" stroke-width="0.7"/>
<polygon points="488.54,180.34 486.35,184.3 490.72,184.3" fill="#31b7c3"/>
<circle cx="488.54" cy="182.84" r="2.3" fill="none" stroke="#31b7c3" stroke-width="0.7"/>
<polygon points="493.62,183.18 491.44,187.14 495.81,187.14" fill="#31b7c3"/>
<circle cx="493.62" cy="185.68" r="2.3" fill="none" stroke="#31b7c3" stroke-width="0.7"/>
<polygon points="498.71,186.03 496.52,189.98 500.89,189.98" fill="#31b7c3"/>
<circle cx="498.71" cy="188.53" r="2.3" fill="none" stroke="#31b7c3" stroke-width="0.7"/>
<polygon points="503.79,188.3 501.61,192.26 505.98,192.26" fill="#31b7c3"/>
<circle cx="503.79" cy="190.8" r="2.3" fill="none" stroke="#31b7c3" stroke-width="0.7"/>
<polygon points="508.88,190.57 506.69,194.53 511.06,194.53" fill="#31b7c3"/>
<circle cx="508.88" cy="193.07" r="2.3" fill="none" stroke="#31b7c3" stroke-width="0.7"/>
<polygon points="513.97,192.85 511.78,196.8 516.15,196.8" fill="#31b7c3"/>
<circle cx="513.97" cy="195.35" r="2.3" fill="none" stroke="#31b7c3" stroke-width="0.7"/>
<polygon points="519.05,193.42 516.87,197.37 521.23,197.37" fill="#31b7c3"/>
<circle cx="519.05" cy="195.92" r="2.3" fill="none" stroke="#31b7c3" stroke-width="0.7"/>
<polygon points="524.13,194.55 521.95,198.51 526.32,198.51" fill="#31b7c3"/>
<circle cx="524.13" cy="197.05" r="2.3" fill="none" stroke="#31b7c3" stroke-width="0.7"/>
<polygon points="529.22,195.12 527.04,199.08 531.4,199.08" fill="#31b7c3"/>
<circle cx="529.22" cy="197.62" r="2.3" fill="none" stroke="#31b7c3" stroke-width="0.7"/>
<polygon points="534.3,199.67 532.12,203.63 536.49,203.63" fill="#31b7c3"/>
<circle cx="534.3" cy="202.17" r="2.3" fill="none" stroke="#31b7c3" stroke-width="0.7"/>
<polygon points="539.39,200.81 537.21,204.76 541.57,204.76" fill="#31b7c3"/>
<circle cx="539.39" cy="203.31" r="2.3" fill="none" stroke="#31b7c3" stroke-width="0.7"/>
<polygon points="544.48,201.37 542.29,205.33 546.66,205.33" fill="#31b7c3"/>
<circle cx="544.48" cy="203.87" r="2.3" fill="none" stroke="#31b7c3" stroke-width="0.7"/>
<polygon points="549.56,202.51 547.38,206.47 551.74,206.47" fill="#31b7c3"/>
<circle cx="549.56" cy="205.01" r="2.3" fill="none" stroke="#31b7c3" stroke-width="0.7"/>
<polygon points="554.64,204.79 552.46,208.74 556.83,208.74" fill="#31b7c3"/>
<circle cx="554.64" cy="207.29" r="2.3" fill="none" stroke="#31b7c3" stroke-width="0.7"/>
<polygon points="559.73,207.06 557.55,211.02 561.91,211.02" fill="#31b7c3"/>
<circle cx="559.73" cy="209.56" r="2.3" fill="none" stroke="#31b7c3" stroke-width="0.7"/>
<polygon points="564.81,209.9 562.63,213.86 567,213.86" fill="#31b7c3"/>
<circle cx="564.81" cy="212.4" r="2.3" fill="none" stroke="#31b7c3" stroke-width="0.7"/>
<polygon points="569.9,212.18 567.72,216.13 572.08,216.13" fill="#31b7c3"/>
<circle cx="569.9" cy="214.68" r="2.3" fill="none" stroke="#31b7c3" stroke-width="0.7"/>
<polygon points="574.99,214.45 572.8,218.41 577.17,218.41" fill="#31b7c3"/>
<circle cx="574.99" cy="216.95" r="2.3" fill="none" stroke="#31b7c3" stroke-width="0.7"/>
<polygon points="580.07,217.29 577.88,221.25 582.25,221.25" fill="#31b7c3"/>
<circle cx="580.07" cy="219.79" r="2.3" fill="none" stroke="#31b7c3" stroke-width="0.7"/>
<polygon points="585.15,220.14 582.97,224.09 587.34,224.09" fill="#31b7c3"/>
<circle cx="585.15" cy="222.64" r="2.3" fill="none" stroke="#31b7c3" stroke-width="0.7"/>
<polygon points="590.24,222.41 588.06,226.37 592.42,226.37" fill="#31b7c3"/>
<circle cx="590.24" cy="224.91" r="2.3" fill="none" stroke="#31b7c3" stroke-width="0.7"/>
<polygon points="595.33,226.96 593.14,230.91 597.51,230.91" fill="#31b7c3"/>
<circle cx="595.33" cy="229.46" r="2.3" fill="none" stroke="#31b7c3" stroke-width="0.7"/>
<path d="M452.94 56.43C453.96 74.97 456 116.81 458.03 149.1C460.06 181.39 461.08 201.17 463.12 217.89C465.15 234.6 466.17 228.69 468.2 232.67C470.23 236.65 471.25 236.31 473.28 237.78C475.32 239.26 476.34 239.49 478.37 240.06C480.4 240.63 481.42 240.29 483.45 240.63C485.49 240.97 486.51 241.31 488.54 241.76C490.57 242.22 491.59 242.33 493.62 242.9C495.66 243.47 496.68 243.92 498.71 244.61C500.74 245.29 501.76 245.63 503.79 246.31C505.83 246.99 506.85 247.79 508.88 248.02C510.91 248.24 511.93 247.22 513.97 247.45C516 247.68 517.02 248.47 519.05 249.15C521.08 249.84 523.12 250.52 524.13 250.86" fill="none" stroke="#ee2424" stroke-width="1.35" stroke-linejoin="round"/>
<polygon points="452.94,42.76 450.76,46.72 455.13,46.72" fill="#ee2424"/>
<circle cx="452.94" cy="50.75" r="2.3" fill="none" stroke="#ee2424" stroke-width="0.7"/>
<polygon points="458.03,146.8 455.84,150.75 460.21,150.75" fill="#ee2424"/>
<circle cx="458.03" cy="149.3" r="2.3" fill="none" stroke="#ee2424" stroke-width="0.7"/>
<polygon points="463.12,215.59 460.93,219.54 465.3,219.54" fill="#ee2424"/>
<circle cx="463.12" cy="218.09" r="2.3" fill="none" stroke="#ee2424" stroke-width="0.7"/>
<polygon points="468.2,230.37 466.01,234.32 470.38,234.32" fill="#ee2424"/>
<circle cx="468.2" cy="232.87" r="2.3" fill="none" stroke="#ee2424" stroke-width="0.7"/>
<polygon points="473.28,235.48 471.1,239.44 475.47,239.44" fill="#ee2424"/>
<circle cx="473.28" cy="237.98" r="2.3" fill="none" stroke="#ee2424" stroke-width="0.7"/>
<polygon points="478.37,237.76 476.19,241.71 480.56,241.71" fill="#ee2424"/>
<circle cx="478.37" cy="240.26" r="2.3" fill="none" stroke="#ee2424" stroke-width="0.7"/>
<polygon points="483.45,238.33 481.27,242.28 485.64,242.28" fill="#ee2424"/>
<circle cx="483.45" cy="240.83" r="2.3" fill="none" stroke="#ee2424" stroke-width="0.7"/>
<polygon points="488.54,239.46 486.35,243.42 490.72,243.42" fill="#ee2424"/>
<circle cx="488.54" cy="241.96" r="2.3" fill="none" stroke="#ee2424" stroke-width="0.7"/>
<polygon points="493.62,240.6 491.44,244.56 495.81,244.56" fill="#ee2424"/>
<circle cx="493.62" cy="243.1" r="2.3" fill="none" stroke="#ee2424" stroke-width="0.7"/>
<polygon points="498.71,242.31 496.52,246.26 500.89,246.26" fill="#ee2424"/>
<circle cx="498.71" cy="244.81" r="2.3" fill="none" stroke="#ee2424" stroke-width="0.7"/>
<polygon points="503.79,244.01 501.61,247.97 505.98,247.97" fill="#ee2424"/>
<circle cx="503.79" cy="246.51" r="2.3" fill="none" stroke="#ee2424" stroke-width="0.7"/>
<polygon points="508.88,245.72 506.69,249.67 511.06,249.67" fill="#ee2424"/>
<circle cx="508.88" cy="248.22" r="2.3" fill="none" stroke="#ee2424" stroke-width="0.7"/>
<polygon points="513.97,245.15 511.78,249.11 516.15,249.11" fill="#ee2424"/>
<circle cx="513.97" cy="247.65" r="2.3" fill="none" stroke="#ee2424" stroke-width="0.7"/>
<polygon points="519.05,246.85 516.87,250.81 521.23,250.81" fill="#ee2424"/>
<circle cx="519.05" cy="249.35" r="2.3" fill="none" stroke="#ee2424" stroke-width="0.7"/>
<polygon points="524.13,248.56 521.95,252.52 526.32,252.52" fill="#ee2424"/>
<circle cx="524.13" cy="251.06" r="2.3" fill="none" stroke="#ee2424" stroke-width="0.7"/>
<rect x="442.5" y="35.7" width="165.2" height="237.3" fill="none" stroke="#000" stroke-width="1.9"/>
<text x="468.2" y="288.2" text-anchor="middle" font-family='"Liberation Serif", serif' font-weight="bold" font-size="13" >15</text>
<text x="493.62" y="288.2" text-anchor="middle" font-family='"Liberation Serif", serif' font-weight="bold" font-size="13" >20</text>
<text x="519.05" y="288.2" text-anchor="middle" font-family='"Liberation Serif", serif' font-weight="bold" font-size="13" >25</text>
<text x="544.48" y="288.2" text-anchor="middle" font-family='"Liberation Serif", serif' font-weight="bold" font-size="13" >30</text>
<text x="569.9" y="288.2" text-anchor="middle" font-family='"Liberation Serif", serif' font-weight="bold" font-size="13" >35</text>
<text x="595.33" y="288.2" text-anchor="middle" font-family='"Liberation Serif", serif' font-weight="bold" font-size="13" >40</text>
<text x="439" y="278.4" text-anchor="end" font-family='"Liberation Serif", serif' font-weight="bold" font-size="13" >0</text>
<text x="439" y="232.92" text-anchor="end" font-family='"Liberation Serif", serif' font-weight="bold" font-size="13" >4</text>
<text x="439" y="187.44" text-anchor="end" font-family='"Liberation Serif", serif' font-weight="bold" font-size="13" >8</text>
<text x="439" y="141.96" text-anchor="end" font-family='"Liberation Serif", serif' font-weight="bold" font-size="13" >12</text>
<text x="439" y="96.48" text-anchor="end" font-family='"Liberation Serif", serif' font-weight="bold" font-size="13" >16</text>
<text x="439" y="51" text-anchor="end" font-family='"Liberation Serif", serif' font-weight="bold" font-size="13" >20</text>
<path d="M468.2 273v-4.2M468.2 35.7v4.2M493.62 273v-4.2M493.62 35.7v4.2M519.05 273v-4.2M519.05 35.7v4.2M544.48 273v-4.2M544.48 35.7v4.2M569.9 273v-4.2M569.9 35.7v4.2M595.33 273v-4.2M595.33 35.7v4.2M442.5 228.12h4.2M607.7 228.12h-4.2M442.5 182.64h4.2M607.7 182.64h-4.2M442.5 137.16h4.2M607.7 137.16h-4.2M442.5 91.68h4.2M607.7 91.68h-4.2M442.5 46.2h4.2M607.7 46.2h-4.2" stroke="#000" stroke-width="1.7" fill="none"/>
<text x="525" y="304" text-anchor="middle" font-family='"Liberation Serif", serif' font-weight="bold" font-size="18"><tspan font-style="italic">J</tspan><tspan font-size="12" dy="3.5">1</tspan><tspan dy="-3.5"> (meV)</tspan></text>
<text transform="translate(423 154.5) rotate(-90)" text-anchor="middle" font-family='"Liberation Serif", serif' font-weight="bold" font-size="16.6">Diameter (nm)</text>
<line x1="522.3" y1="46.5" x2="544.5" y2="46.5" stroke="#9b9b32" stroke-width="1.3"/>
<polygon points="533.5,44 531.32,47.96 535.68,47.96" fill="#9b9b32"/>
<text x="547.7" y="49.9" text-anchor="start" font-family='"Liberation Serif", serif' font-weight="bold" font-size="10" >−4</text>
<line x1="561" y1="46.5" x2="583.7" y2="46.5" stroke="#9b9b32" stroke-width="1.3"/>
<circle cx="572.2" cy="46.5" r="2.1" fill="#fff" stroke="#9b9b32" stroke-width="0.8"/>
<text x="586" y="49.9" text-anchor="start" font-family='"Liberation Serif", serif' font-weight="bold" font-size="10" >4</text>
<line x1="522.3" y1="60.4" x2="544.5" y2="60.4" stroke="#7b202c" stroke-width="1.3"/>
<polygon points="533.5,57.9 531.32,61.86 535.68,61.86" fill="#7b202c"/>
<text x="547.7" y="63.8" text-anchor="start" font-family='"Liberation Serif", serif' font-weight="bold" font-size="10" >−3</text>
<line x1="561" y1="60.4" x2="583.7" y2="60.4" stroke="#7b202c" stroke-width="1.3"/>
<circle cx="572.2" cy="60.4" r="2.1" fill="#fff" stroke="#7b202c" stroke-width="0.8"/>
<text x="586" y="63.8" text-anchor="start" font-family='"Liberation Serif", serif' font-weight="bold" font-size="10" >3</text>
<line x1="522.3" y1="74.2" x2="544.5" y2="74.2" stroke="#31b7c3" stroke-width="1.3"/>
<polygon points="533.5,71.7 531.32,75.66 535.68,75.66" fill="#31b7c3"/>
<text x="547.7" y="77.6" text-anchor="start" font-family='"Liberation Serif", serif' font-weight="bold" font-size="10" >−2</text>
<line x1="561" y1="74.2" x2="583.7" y2="74.2" stroke="#31b7c3" stroke-width="1.3"/>
<circle cx="572.2" cy="74.2" r="2.1" fill="#fff" stroke="#31b7c3" stroke-width="0.8"/>
<text x="586" y="77.6" text-anchor="start" font-family='"Liberation Serif", serif' font-weight="bold" font-size="10" >2</text>
<line x1="522.3" y1="88" x2="544.5" y2="88" stroke="#ee2424" stroke-width="1.3"/>
<polygon points="533.5,85.5 531.32,89.46 535.68,89.46" fill="#ee2424"/>
<text x="547.7" y="91.4" text-anchor="start" font-family='"Liberation Serif", serif' font-weight="bold" font-size="10" >−1</text>
<line x1="561" y1="88" x2="583.7" y2="88" stroke="#ee2424" stroke-width="1.3"/>
<circle cx="572.2" cy="88" r="2.1" fill="#fff" stroke="#ee2424" stroke-width="0.8"/>
<text x="586" y="91.4" text-anchor="start" font-family='"Liberation Serif", serif' font-weight="bold" font-size="10" >1</text>
</g>
<g id="chart2">
<path d="M666.7 64.9C669.01 70.66 675.92 87.94 680.53 99.46C685.14 110.98 689.75 123.04 694.36 134.02C698.97 145 703.58 155.98 708.19 165.34C712.8 174.7 717.41 183.34 722.02 190.18C726.63 197.02 731.24 202.42 735.85 206.38C740.46 210.34 745.07 211.78 749.68 213.94C754.29 216.1 758.9 218.08 763.51 219.34C768.12 220.6 772.73 220.96 777.34 221.5C781.95 222.04 786.56 221.79 791.17 222.58C795.78 223.37 802.7 225.64 805 226.25" fill="none" stroke="#9b9b32" stroke-width="1.9" stroke-linejoin="round"/>
<polygon points="666.7,62.5 664.42,66.63 668.98,66.63" fill="#9b9b32"/>
<circle cx="666.7" cy="65.1" r="2.4" fill="none" stroke="#9b9b32" stroke-width="0.7"/>
<polygon points="680.53,97.06 678.25,101.19 682.81,101.19" fill="#9b9b32"/>
<circle cx="680.53" cy="99.66" r="2.4" fill="none" stroke="#9b9b32" stroke-width="0.7"/>
<polygon points="694.36,131.62 692.08,135.75 696.64,135.75" fill="#9b9b32"/>
<circle cx="694.36" cy="134.22" r="2.4" fill="none" stroke="#9b9b32" stroke-width="0.7"/>
<polygon points="708.19,162.94 705.91,167.07 710.47,167.07" fill="#9b9b32"/>
<circle cx="708.19" cy="165.54" r="2.4" fill="none" stroke="#9b9b32" stroke-width="0.7"/>
<polygon points="722.02,187.78 719.74,191.91 724.3,191.91" fill="#9b9b32"/>
<circle cx="722.02" cy="190.38" r="2.4" fill="none" stroke="#9b9b32" stroke-width="0.7"/>
<polygon points="735.85,203.98 733.57,208.11 738.13,208.11" fill="#9b9b32"/>
<circle cx="735.85" cy="206.58" r="2.4" fill="none" stroke="#9b9b32" stroke-width="0.7"/>
<polygon points="749.68,211.54 747.4,215.67 751.96,215.67" fill="#9b9b32"/>
<circle cx="749.68" cy="214.14" r="2.4" fill="none" stroke="#9b9b32" stroke-width="0.7"/>
<polygon points="763.51,216.94 761.23,221.07 765.79,221.07" fill="#9b9b32"/>
<circle cx="763.51" cy="219.54" r="2.4" fill="none" stroke="#9b9b32" stroke-width="0.7"/>
<polygon points="777.34,219.1 775.06,223.23 779.62,223.23" fill="#9b9b32"/>
<circle cx="777.34" cy="221.7" r="2.4" fill="none" stroke="#9b9b32" stroke-width="0.7"/>
<polygon points="791.17,220.18 788.89,224.31 793.45,224.31" fill="#9b9b32"/>
<circle cx="791.17" cy="222.78" r="2.4" fill="none" stroke="#9b9b32" stroke-width="0.7"/>
<polygon points="805,223.85 802.72,227.98 807.28,227.98" fill="#9b9b32"/>
<circle cx="805" cy="226.45" r="2.4" fill="none" stroke="#9b9b32" stroke-width="0.7"/>
<path d="M666.7 62.74C669.01 66.88 675.92 78.4 680.53 87.58C685.14 96.76 689.75 105.04 694.36 117.82C698.97 130.6 703.58 151.08 708.19 164.26C712.8 177.44 717.41 187.95 722.02 196.88C726.63 205.8 731.24 212.75 735.85 217.83C740.46 222.9 745.07 225.53 749.68 227.33C754.29 229.13 758.9 227.98 763.51 228.63C768.12 229.28 772.73 230.46 777.34 231.22C781.95 231.98 786.56 232.62 791.17 233.16C795.78 233.7 802.7 234.24 805 234.46" fill="none" stroke="#7b202c" stroke-width="1.9" stroke-linejoin="round"/>
<polygon points="666.7,60.34 664.42,64.47 668.98,64.47" fill="#7b202c"/>
<circle cx="666.7" cy="62.94" r="2.4" fill="none" stroke="#7b202c" stroke-width="0.7"/>
<polygon points="680.53,85.18 678.25,89.31 682.81,89.31" fill="#7b202c"/>
<circle cx="680.53" cy="87.78" r="2.4" fill="none" stroke="#7b202c" stroke-width="0.7"/>
<polygon points="694.36,115.42 692.08,119.55 696.64,119.55" fill="#7b202c"/>
<circle cx="694.36" cy="118.02" r="2.4" fill="none" stroke="#7b202c" stroke-width="0.7"/>
<polygon points="708.19,161.86 705.91,165.99 710.47,165.99" fill="#7b202c"/>
<circle cx="708.19" cy="164.46" r="2.4" fill="none" stroke="#7b202c" stroke-width="0.7"/>
<polygon points="722.02,194.48 719.74,198.6 724.3,198.6" fill="#7b202c"/>
<circle cx="722.02" cy="197.08" r="2.4" fill="none" stroke="#7b202c" stroke-width="0.7"/>
<polygon points="735.85,215.43 733.57,219.56 738.13,219.56" fill="#7b202c"/>
<circle cx="735.85" cy="218.03" r="2.4" fill="none" stroke="#7b202c" stroke-width="0.7"/>
<polygon points="749.68,224.93 747.4,229.06 751.96,229.06" fill="#7b202c"/>
<circle cx="749.68" cy="227.53" r="2.4" fill="none" stroke="#7b202c" stroke-width="0.7"/>
<polygon points="763.51,226.23 761.23,230.36 765.79,230.36" fill="#7b202c"/>
<circle cx="763.51" cy="228.83" r="2.4" fill="none" stroke="#7b202c" stroke-width="0.7"/>
<polygon points="777.34,228.82 775.06,232.95 779.62,232.95" fill="#7b202c"/>
<circle cx="777.34" cy="231.42" r="2.4" fill="none" stroke="#7b202c" stroke-width="0.7"/>
<polygon points="791.17,230.76 788.89,234.89 793.45,234.89" fill="#7b202c"/>
<circle cx="791.17" cy="233.36" r="2.4" fill="none" stroke="#7b202c" stroke-width="0.7"/>
<polygon points="805,232.06 802.72,236.19 807.28,236.19" fill="#7b202c"/>
<circle cx="805" cy="234.66" r="2.4" fill="none" stroke="#7b202c" stroke-width="0.7"/>
<path d="M666.7 61.66C669.01 66.34 675.92 80.74 680.53 89.74C685.14 98.74 689.75 103.24 694.36 115.66C698.97 128.08 703.58 149.86 708.19 164.26C712.8 178.66 717.41 191.12 722.02 202.06C726.63 213 731.24 223.95 735.85 229.92C740.46 235.9 745.07 235.97 749.68 237.92C754.29 239.86 758.9 240.8 763.51 241.59C768.12 242.38 772.73 242.42 777.34 242.67C781.95 242.92 786.56 242.67 791.17 243.1C795.78 243.53 802.7 244.9 805 245.26" fill="none" stroke="#31b7c3" stroke-width="1.9" stroke-linejoin="round"/>
<polygon points="666.7,59.26 664.42,63.39 668.98,63.39" fill="#31b7c3"/>
<circle cx="666.7" cy="61.86" r="2.4" fill="none" stroke="#31b7c3" stroke-width="0.7"/>
<polygon points="680.53,87.34 678.25,91.47 682.81,91.47" fill="#31b7c3"/>
<circle cx="680.53" cy="89.94" r="2.4" fill="none" stroke="#31b7c3" stroke-width="0.7"/>
<polygon points="694.36,113.26 692.08,117.39 696.64,117.39" fill="#31b7c3"/>
<circle cx="694.36" cy="115.86" r="2.4" fill="none" stroke="#31b7c3" stroke-width="0.7"/>
<polygon points="708.19,161.86 705.91,165.99 710.47,165.99" fill="#31b7c3"/>
<circle cx="708.19" cy="164.46" r="2.4" fill="none" stroke="#31b7c3" stroke-width="0.7"/>
<polygon points="722.02,199.66 719.74,203.79 724.3,203.79" fill="#31b7c3"/>
<circle cx="722.02" cy="202.26" r="2.4" fill="none" stroke="#31b7c3" stroke-width="0.7"/>
<polygon points="735.85,227.52 733.57,231.65 738.13,231.65" fill="#31b7c3"/>
<circle cx="735.85" cy="230.12" r="2.4" fill="none" stroke="#31b7c3" stroke-width="0.7"/>
<polygon points="749.68,235.52 747.4,239.64 751.96,239.64" fill="#31b7c3"/>
<circle cx="749.68" cy="238.12" r="2.4" fill="none" stroke="#31b7c3" stroke-width="0.7"/>
<polygon points="763.51,239.19 761.23,243.32 765.79,243.32" fill="#31b7c3"/>
<circle cx="763.51" cy="241.79" r="2.4" fill="none" stroke="#31b7c3" stroke-width="0.7"/>
<polygon points="777.34,240.27 775.06,244.4 779.62,244.4" fill="#31b7c3"/>
<circle cx="777.34" cy="242.87" r="2.4" fill="none" stroke="#31b7c3" stroke-width="0.7"/>
<polygon points="791.17,240.7 788.89,244.83 793.45,244.83" fill="#31b7c3"/>
<circle cx="791.17" cy="243.3" r="2.4" fill="none" stroke="#31b7c3" stroke-width="0.7"/>
<polygon points="805,242.86 802.72,246.99 807.28,246.99" fill="#31b7c3"/>
<circle cx="805" cy="245.46" r="2.4" fill="none" stroke="#31b7c3" stroke-width="0.7"/>
<path d="M666.7 59.07C669.01 65.26 675.92 84.63 680.53 96.22C685.14 107.81 689.75 117.1 694.36 128.62C698.97 140.14 703.58 152.85 708.19 165.34C712.8 177.83 717.41 190.79 722.02 203.57C726.63 216.35 731.24 234.24 735.85 242.02C740.46 249.8 745.07 248.57 749.68 250.23C754.29 251.88 758.9 251.52 763.51 251.96C768.12 252.39 772.73 252.5 777.34 252.82C781.95 253.14 786.56 253.61 791.17 253.9C795.78 254.19 802.7 254.44 805 254.55" fill="none" stroke="#ee2424" stroke-width="1.9" stroke-linejoin="round"/>
<polygon points="666.7,56.67 664.42,60.8 668.98,60.8" fill="#ee2424"/>
<circle cx="666.7" cy="59.27" r="2.4" fill="none" stroke="#ee2424" stroke-width="0.7"/>
<polygon points="680.53,93.82 678.25,97.95 682.81,97.95" fill="#ee2424"/>
<circle cx="680.53" cy="96.42" r="2.4" fill="none" stroke="#ee2424" stroke-width="0.7"/>
<polygon points="694.36,126.22 692.08,130.35 696.64,130.35" fill="#ee2424"/>
<circle cx="694.36" cy="128.82" r="2.4" fill="none" stroke="#ee2424" stroke-width="0.7"/>
<polygon points="708.19,162.94 705.91,167.07 710.47,167.07" fill="#ee2424"/>
<circle cx="708.19" cy="165.54" r="2.4" fill="none" stroke="#ee2424" stroke-width="0.7"/>
<polygon points="722.02,201.17 719.74,205.3 724.3,205.3" fill="#ee2424"/>
<circle cx="722.02" cy="203.77" r="2.4" fill="none" stroke="#ee2424" stroke-width="0.7"/>
<polygon points="735.85,239.62 733.57,243.75 738.13,243.75" fill="#ee2424"/>
<circle cx="735.85" cy="242.22" r="2.4" fill="none" stroke="#ee2424" stroke-width="0.7"/>
<polygon points="749.68,247.83 747.4,251.96 751.96,251.96" fill="#ee2424"/>
<circle cx="749.68" cy="250.43" r="2.4" fill="none" stroke="#ee2424" stroke-width="0.7"/>
<polygon points="763.51,249.56 761.23,253.68 765.79,253.68" fill="#ee2424"/>
<circle cx="763.51" cy="252.16" r="2.4" fill="none" stroke="#ee2424" stroke-width="0.7"/>
<polygon points="777.34,250.42 775.06,254.55 779.62,254.55" fill="#ee2424"/>
<circle cx="777.34" cy="253.02" r="2.4" fill="none" stroke="#ee2424" stroke-width="0.7"/>
<polygon points="791.17,251.5 788.89,255.63 793.45,255.63" fill="#ee2424"/>
<circle cx="791.17" cy="254.1" r="2.4" fill="none" stroke="#ee2424" stroke-width="0.7"/>
<polygon points="805,252.15 802.72,256.28 807.28,256.28" fill="#ee2424"/>
<circle cx="805" cy="254.75" r="2.4" fill="none" stroke="#ee2424" stroke-width="0.7"/>
<rect x="652.6" y="38" width="166.4" height="237.5" fill="none" stroke="#000" stroke-width="1.9"/>
<text x="666.7" y="290.2" text-anchor="middle" font-family='"Liberation Serif", serif' font-weight="bold" font-size="13" >0.0</text>
<text x="694.36" y="290.2" text-anchor="middle" font-family='"Liberation Serif", serif' font-weight="bold" font-size="13" >0.2</text>
<text x="722.02" y="290.2" text-anchor="middle" font-family='"Liberation Serif", serif' font-weight="bold" font-size="13" >0.4</text>
<text x="749.68" y="290.2" text-anchor="middle" font-family='"Liberation Serif", serif' font-weight="bold" font-size="13" >0.6</text>
<text x="777.34" y="290.2" text-anchor="middle" font-family='"Liberation Serif", serif' font-weight="bold" font-size="13" >0.8</text>
<text x="805" y="290.2" text-anchor="middle" font-family='"Liberation Serif", serif' font-weight="bold" font-size="13" >1.0</text>
<text x="649" y="280.5" text-anchor="end" font-family='"Liberation Serif", serif' font-weight="bold" font-size="13" >0</text>
<text x="649" y="237.3" text-anchor="end" font-family='"Liberation Serif", serif' font-weight="bold" font-size="13" >2</text>
<text x="649" y="194.1" text-anchor="end" font-family='"Liberation Serif", serif' font-weight="bold" font-size="13" >4</text>
<text x="649" y="150.9" text-anchor="end" font-family='"Liberation Serif", serif' font-weight="bold" font-size="13" >6</text>
<text x="649" y="107.7" text-anchor="end" font-family='"Liberation Serif", serif' font-weight="bold" font-size="13" >8</text>
<text x="649" y="64.5" text-anchor="end" font-family='"Liberation Serif", serif' font-weight="bold" font-size="13" >10</text>
<path d="M666.7 275.5v-4.2M666.7 38v4.2M694.36 275.5v-4.2M694.36 38v4.2M722.02 275.5v-4.2M722.02 38v4.2M749.68 275.5v-4.2M749.68 38v4.2M777.34 275.5v-4.2M777.34 38v4.2M805 275.5v-4.2M805 38v4.2M652.6 232.3h4.2M819 232.3h-4.2M652.6 189.1h4.2M819 189.1h-4.2M652.6 145.9h4.2M819 145.9h-4.2M652.6 102.7h4.2M819 102.7h-4.2M652.6 59.5h4.2M819 59.5h-4.2" stroke="#000" stroke-width="1.7" fill="none"/>
<text x="736" y="307" text-anchor="middle" font-family='"Liberation Serif", serif' font-weight="bold" font-size="16"><tspan font-style="italic">B</tspan> (T)</text>
<text transform="translate(636.3 157) rotate(-90)" text-anchor="middle" font-family='"Liberation Serif", serif' font-weight="bold" font-size="16">Diameter (nm)</text>
<line x1="728.6" y1="55.1" x2="751.8" y2="55.1" stroke="#9b9b32" stroke-width="1.4"/>
<polygon points="740.3,52.6 738.12,56.56 742.48,56.56" fill="#9b9b32"/>
<text x="754" y="58.5" text-anchor="start" font-family='"Liberation Serif", serif' font-weight="bold" font-size="10" >− 4</text>
<line x1="770.2" y1="55.1" x2="792.8" y2="55.1" stroke="#9b9b32" stroke-width="1.4"/>
<circle cx="781.3" cy="55.1" r="2.1" fill="#fff" stroke="#9b9b32" stroke-width="0.8"/>
<text x="795.6" y="58.5" text-anchor="start" font-family='"Liberation Serif", serif' font-weight="bold" font-size="10" >4</text>
<line x1="728.6" y1="68.9" x2="751.8" y2="68.9" stroke="#7b202c" stroke-width="1.4"/>
<polygon points="740.3,66.4 738.12,70.36 742.48,70.36" fill="#7b202c"/>
<text x="754" y="72.3" text-anchor="start" font-family='"Liberation Serif", serif' font-weight="bold" font-size="10" >− 3</text>
<line x1="770.2" y1="68.9" x2="792.8" y2="68.9" stroke="#7b202c" stroke-width="1.4"/>
<circle cx="781.3" cy="68.9" r="2.1" fill="#fff" stroke="#7b202c" stroke-width="0.8"/>
<text x="795.6" y="72.3" text-anchor="start" font-family='"Liberation Serif", serif' font-weight="bold" font-size="10" >3</text>
<line x1="728.6" y1="82.3" x2="751.8" y2="82.3" stroke="#31b7c3" stroke-width="1.4"/>
<polygon points="740.3,79.8 738.12,83.76 742.48,83.76" fill="#31b7c3"/>
<text x="754" y="85.7" text-anchor="start" font-family='"Liberation Serif", serif' font-weight="bold" font-size="10" >− 2</text>
<line x1="770.2" y1="82.3" x2="792.8" y2="82.3" stroke="#31b7c3" stroke-width="1.4"/>
<circle cx="781.3" cy="82.3" r="2.1" fill="#fff" stroke="#31b7c3" stroke-width="0.8"/>
<text x="795.6" y="85.7" text-anchor="start" font-family='"Liberation Serif", serif' font-weight="bold" font-size="10" >2</text>
<line x1="728.6" y1="96.2" x2="751.8" y2="96.2" stroke="#ee2424" stroke-width="1.4"/>
<polygon points="740.3,93.7 738.12,97.66 742.48,97.66" fill="#ee2424"/>
<text x="754" y="99.6" text-anchor="start" font-family='"Liberation Serif", serif' font-weight="bold" font-size="10" >− 1</text>
<line x1="770.2" y1="96.2" x2="792.8" y2="96.2" stroke="#ee2424" stroke-width="1.4"/>
<circle cx="781.3" cy="96.2" r="2.1" fill="#fff" stroke="#ee2424" stroke-width="0.8"/>
<text x="795.6" y="99.6" text-anchor="start" font-family='"Liberation Serif", serif' font-weight="bold" font-size="10" >1</text>
</g>
<g id="strip">
<g clip-path="url(#stripclip)">
<g filter="url(#bwrP1)"><g id="bA"><rect x="30" y="305" width="122.5" height="138" fill="#000"/><polygon points="111.5,376.4 105.25,387.23 92.75,387.23 86.5,376.4 92.75,365.57 105.25,365.57" fill="#fff" stroke="#fff" stroke-width="50" stroke-linejoin="round"/></g></g>
<g filter="url(#bwrP2)"><g id="bB"><rect x="152.5" y="305" width="108" height="138" fill="#000"/><circle cx="205" cy="376.2" r="17.5" fill="#fff"/><circle cx="224" cy="376.2" r="12.5" fill="#fff"/><circle cx="196.08" cy="359.42" r="12.5" fill="#fff"/><circle cx="196.08" cy="392.98" r="12.5" fill="#fff"/></g></g>
<g filter="url(#bwrS)"><g id="bC"><rect x="260.5" y="305" width="350.5" height="138" fill="#000"/><circle cx="295.5" cy="365.3" r="9.2" fill="#fff"/><circle cx="333.9" cy="355.2" r="9.2" fill="#fff"/><circle cx="314.8" cy="373.4" r="9.2" fill="#fff"/><circle cx="321.2" cy="393.6" r="9.2" fill="#fff"/><line x1="314.8" y1="373.4" x2="295.5" y2="365.3" stroke="#fff" stroke-width="7"/><line x1="314.8" y1="373.4" x2="333.9" y2="355.2" stroke="#fff" stroke-width="7"/><line x1="314.8" y1="373.4" x2="321.2" y2="393.6" stroke="#fff" stroke-width="7"/><circle cx="435.2" cy="366.2" r="8" fill="#fff"/><circle cx="447.6" cy="362.7" r="8" fill="#fff"/><circle cx="459.8" cy="358.4" r="8" fill="#fff"/><line x1="435.2" y1="366.2" x2="459.8" y2="358.4" stroke="#fff" stroke-width="10"/><circle cx="458.6" cy="394.2" r="7.3" fill="#fff"/><circle cx="552" cy="380.6" r="7.1" fill="#fff"/><circle cx="559.8" cy="371.4" r="7.1" fill="#fff"/><circle cx="567.3" cy="362.4" r="7.1" fill="#fff"/><line x1="552" y1="380.6" x2="567.3" y2="362.4" stroke="#fff" stroke-width="10"/></g></g>
<g filter="url(#bwr)"><g id="bD"><rect x="611" y="305" width="230" height="138" fill="#000"/><circle cx="663.1" cy="370" r="10.4" fill="#fff"/></g></g>
</g>
<rect x="46.5" y="323" width="780" height="101.6" fill="url(#dots)"/>
<g clip-path="url(#stripclip)" opacity="0.8">
<use href="#bA" filter="url(#covP1)"/>
<use href="#bB" filter="url(#covP2)"/>
<use href="#bC" filter="url(#covS)"/>
<use href="#bD" filter="url(#covP2)"/>
</g>
<rect x="150.4" y="322" width="4.6" height="103.6" fill="#fff"/>
<rect x="258" y="322" width="4.8" height="103.6" fill="#fff"/>
<rect x="366" y="322" width="31.1" height="103.6" fill="#fff"/>
<rect x="501" y="322" width="4.8" height="103.6" fill="#fff"/>
<rect x="608.7" y="322" width="4.5" height="103.6" fill="#fff"/>
<rect x="717.1" y="322" width="4.6" height="103.6" fill="#fff"/>
<circle cx="379" cy="379.8" r="1.7" fill="#000"/>
<circle cx="386.5" cy="379.8" r="1.7" fill="#000"/>
<circle cx="394" cy="379.8" r="1.7" fill="#000"/>
<rect x="47.6" y="322.3" width="777.8" height="103" fill="none" stroke="#000" stroke-width="2.2"/>
<text x="100.2" y="443.2" text-anchor="middle" font-family='"Liberation Serif", serif' font-weight="bold" font-size="16.5" >0.5T</text>
<text x="202.6" y="443.2" text-anchor="middle" font-family='"Liberation Serif", serif' font-weight="bold" font-size="16.5" >1.0T</text>
<text x="315.4" y="443.2" text-anchor="middle" font-family='"Liberation Serif", serif' font-weight="bold" font-size="16.5" >1.5T</text>
<text x="447.8" y="443.2" text-anchor="middle" font-family='"Liberation Serif", serif' font-weight="bold" font-size="16.5" >6.0T</text>
<text x="556.4" y="443.2" text-anchor="middle" font-family='"Liberation Serif", serif' font-weight="bold" font-size="16.5" >6.5T</text>
<text x="664.9" y="443.2" text-anchor="middle" font-family='"Liberation Serif", serif' font-weight="bold" font-size="16.5" >7.0T</text>
<text x="773.5" y="443.2" text-anchor="middle" font-family='"Liberation Serif", serif' font-weight="bold" font-size="16.5" >7.5T</text>
</g>
<g id="phase">
<rect x="50.5" y="458.5" width="766" height="158.2" fill="#e8211d"/>
<rect x="50.5" y="458.5" width="19.07" height="19.9" fill="url(#chk2)"/>
<line x1="62.61" y1="469.09" x2="52.74" y2="466.05" stroke="#fff" stroke-opacity="0.4" stroke-width="0.8"/>
<line x1="52.49" y1="460.17" x2="60.16" y2="467.26" stroke="#fff" stroke-opacity="0.4" stroke-width="0.8"/>
<line x1="52.69" y1="467.1" x2="53.05" y2="474.3" stroke="#fff" stroke-opacity="0.4" stroke-width="0.8"/>
<rect x="69.57" y="458.5" width="19.07" height="19.9" fill="url(#chk)"/>
<line x1="80.42" y1="476.97" x2="77.34" y2="460.33" stroke="#fff" stroke-opacity="0.4" stroke-width="0.8"/>
<rect x="50.5" y="478.4" width="19.07" height="20" fill="url(#chk)"/>
<path d="M51.43 478.4H68.64L60.03 488.4ZM51.43 498.4H68.64L60.03 488.4Z" fill="url(#hsl)" fill-opacity="0.6"/>
<line x1="61.25" y1="491.68" x2="61.06" y2="481.26" stroke="#fff" stroke-opacity="0.4" stroke-width="0.8"/>
<rect x="69.57" y="478.4" width="19.07" height="20" fill="url(#hs)"/>
<rect x="88.64" y="478.4" width="19.07" height="20" fill="url(#chk)"/>
<path d="M90.78 478.4H105.57L98.18 488.4ZM90.78 498.4H105.57L98.18 488.4Z" fill="url(#hsl)" fill-opacity="0.6"/>
<line x1="99.27" y1="488.34" x2="100.21" y2="488.97" stroke="#fff" stroke-opacity="0.4" stroke-width="0.8"/>
<svg x="107.71" y="478.4" width="19.07" height="20" viewBox="-9.53 -10 19.07 20"><g transform="rotate(135) scale(-1 1)"><use href="#sp2"/></g></svg>
<svg x="126.78" y="478.4" width="19.07" height="20" viewBox="-9.53 -10 19.07 20"><g transform="rotate(40) scale(1.25 1)"><use href="#sp1"/></g></svg>
<rect x="50.5" y="498.4" width="19.07" height="20" fill="url(#chk)"/>
<path d="M51.9 498.4H68.17L60.03 508.4ZM51.9 518.4H68.17L60.03 508.4Z" fill="url(#hsl)" fill-opacity="0.6"/>
<line x1="66.44" y1="504.58" x2="63.95" y2="517.04" stroke="#fff" stroke-opacity="0.4" stroke-width="0.8"/>
<line x1="53.52" y1="513.03" x2="58.64" y2="502.14" stroke="#fff" stroke-opacity="0.4" stroke-width="0.8"/>
<line x1="59.85" y1="511.43" x2="52.17" y2="513.16" stroke="#fff" stroke-opacity="0.4" stroke-width="0.8"/>
<rect x="69.57" y="498.4" width="19.07" height="20" fill="url(#chk2)"/>
<path d="M71.12 498.4H87.09L79.1 508.4ZM71.12 518.4H87.09L79.1 508.4Z" fill="url(#hsl)" fill-opacity="0.6"/>
<line x1="80.47" y1="514.52" x2="78.36" y2="516.4" stroke="#fff" stroke-opacity="0.4" stroke-width="0.8"/>
<line x1="78.66" y1="500.49" x2="81.91" y2="512.03" stroke="#fff" stroke-opacity="0.4" stroke-width="0.8"/>
<line x1="81.62" y1="514.19" x2="87.52" y2="504.52" stroke="#fff" stroke-opacity="0.4" stroke-width="0.8"/>
<rect x="88.64" y="498.4" width="19.07" height="20" fill="url(#hs)"/>
<rect x="107.71" y="498.4" width="19.07" height="20" fill="url(#chk3)"/>
<line x1="109.1" y1="502.42" x2="116.59" y2="501.51" stroke="#fff" stroke-opacity="0.4" stroke-width="0.8"/>
<line x1="109.72" y1="501.73" x2="121.82" y2="503.86" stroke="#fff" stroke-opacity="0.4" stroke-width="0.8"/>
<rect x="126.78" y="498.4" width="19.07" height="20" fill="url(#chkb3)"/>
<path d="M128.63 498.4H144L136.31 508.4ZM128.63 518.4H144L136.31 508.4Z" fill="url(#hsb)" fill-opacity="0.6"/>
<line x1="142.86" y1="514.95" x2="141.77" y2="504.41" stroke="#fff" stroke-opacity="0.4" stroke-width="0.8"/>
<line x1="134.87" y1="515.32" x2="133.9" y2="516.64" stroke="#fff" stroke-opacity="0.4" stroke-width="0.8"/>
<rect x="145.85" y="498.4" width="19.07" height="20" fill="url(#chkb)"/>
<path d="M148.33 498.4H162.44L155.38 508.4ZM148.33 518.4H162.44L155.38 508.4Z" fill="url(#hsb)" fill-opacity="0.6"/>
<line x1="155.13" y1="504.13" x2="156.91" y2="499.47" stroke="#fff" stroke-opacity="0.4" stroke-width="0.8"/>
<svg x="164.92" y="498.4" width="19.07" height="20" viewBox="-9.53 -10 19.07 20"><g transform="rotate(200) scale(-1.25 1)"><use href="#sp2"/></g></svg>
<svg x="183.99" y="498.4" width="19.07" height="20" viewBox="-9.53 -10 19.07 20"><g transform="rotate(90) scale(1.25 1)"><use href="#rg1"/></g></svg>
<rect x="50.5" y="518.4" width="19.07" height="20" fill="url(#chk)"/>
<path d="M53.61 518.4H66.46L60.03 528.4ZM53.61 538.4H66.46L60.03 528.4Z" fill="url(#hsl)" fill-opacity="0.6"/>
<line x1="58.3" y1="528.07" x2="58.23" y2="526.61" stroke="#fff" stroke-opacity="0.4" stroke-width="0.8"/>
<line x1="54.75" y1="527.33" x2="68.31" y2="521.38" stroke="#fff" stroke-opacity="0.4" stroke-width="0.8"/>
<line x1="61.75" y1="529.6" x2="53.25" y2="529.06" stroke="#fff" stroke-opacity="0.4" stroke-width="0.8"/>
<rect x="69.57" y="518.4" width="19.07" height="20" fill="url(#chk2)"/>
<path d="M69.57 520.4V536.4L79.1 528.4ZM88.64 520.4V536.4L79.1 528.4Z" fill="url(#vs)" fill-opacity="0.5"/>
<line x1="85.49" y1="522.07" x2="81.05" y2="523.94" stroke="#fff" stroke-opacity="0.4" stroke-width="0.8"/>
<rect x="88.64" y="518.4" width="19.07" height="20" fill="url(#chk2)"/>
<path d="M88.64 520.4V536.4L98.18 528.4ZM107.71 520.4V536.4L98.18 528.4Z" fill="url(#vs)" fill-opacity="0.5"/>
<line x1="91.74" y1="537.28" x2="104.13" y2="527.79" stroke="#fff" stroke-opacity="0.4" stroke-width="0.8"/>
<line x1="97.9" y1="521.24" x2="91.11" y2="525.57" stroke="#fff" stroke-opacity="0.4" stroke-width="0.8"/>
<line x1="94.16" y1="522.31" x2="103.79" y2="519.82" stroke="#fff" stroke-opacity="0.4" stroke-width="0.8"/>
<rect x="107.71" y="518.4" width="19.07" height="20" fill="url(#hs)"/>
<rect x="126.78" y="518.4" width="19.07" height="20" fill="url(#chk2)"/>
<path d="M128.91 518.4H143.72L136.31 528.4ZM128.91 538.4H143.72L136.31 528.4Z" fill="url(#hsl)" fill-opacity="0.6"/>
<line x1="140.72" y1="530.97" x2="132.87" y2="521.04" stroke="#fff" stroke-opacity="0.4" stroke-width="0.8"/>
<rect x="145.85" y="518.4" width="19.07" height="20" fill="url(#chk2)"/>
<line x1="160.03" y1="533.42" x2="155.94" y2="525.33" stroke="#fff" stroke-opacity="0.4" stroke-width="0.8"/>
<line x1="150.66" y1="537.13" x2="160.7" y2="534.75" stroke="#fff" stroke-opacity="0.4" stroke-width="0.8"/>
<rect x="164.92" y="518.4" width="19.07" height="20" fill="url(#chk3)"/>
<line x1="169.33" y1="532.56" x2="174.33" y2="537.21" stroke="#fff" stroke-opacity="0.4" stroke-width="0.8"/>
<line x1="179.41" y1="522.89" x2="173.98" y2="530.29" stroke="#fff" stroke-opacity="0.4" stroke-width="0.8"/>
<rect x="183.99" y="518.4" width="19.07" height="20" fill="url(#chkb2)"/>
<path d="M187.3 518.4H199.75L193.53 528.4ZM187.3 538.4H199.75L193.53 528.4Z" fill="url(#hsb)" fill-opacity="0.6"/>
<line x1="201.29" y1="523.37" x2="191.21" y2="523.48" stroke="#fff" stroke-opacity="0.4" stroke-width="0.8"/>
<line x1="188.35" y1="530.63" x2="188.48" y2="535.61" stroke="#fff" stroke-opacity="0.4" stroke-width="0.8"/>
<svg x="203.06" y="518.4" width="19.07" height="20" viewBox="-9.53 -10 19.07 20"><g transform="rotate(135) scale(-1 1)"><use href="#sp3"/></g></svg>
<svg x="222.13" y="518.4" width="19.07" height="20" viewBox="-9.53 -10 19.07 20"><g transform="rotate(0) scale(1 1)"><use href="#rg2"/></g></svg>
<svg x="241.2" y="518.4" width="19.07" height="20" viewBox="-9.53 -10 19.07 20"><g transform="rotate(40) scale(-1 1)"><use href="#rg1"/></g></svg>
<rect x="50.5" y="538.4" width="19.07" height="19.5" fill="url(#hsl)"/>
<rect x="69.57" y="538.4" width="19.07" height="19.5" fill="url(#chk3)"/>
<line x1="72.05" y1="552.03" x2="86.72" y2="547.51" stroke="#fff" stroke-opacity="0.4" stroke-width="0.8"/>
<line x1="83.26" y1="542.18" x2="72.02" y2="556.78" stroke="#fff" stroke-opacity="0.4" stroke-width="0.8"/>
<rect x="88.64" y="538.4" width="19.07" height="19.5" fill="url(#chk)"/>
<path d="M91.85 538.4H104.5L98.18 548.15ZM91.85 557.9H104.5L98.18 548.15Z" fill="url(#hsl)" fill-opacity="0.6"/>
<line x1="100.08" y1="547.7" x2="99.81" y2="555.81" stroke="#fff" stroke-opacity="0.4" stroke-width="0.8"/>
<line x1="92.3" y1="539.77" x2="99" y2="553.39" stroke="#fff" stroke-opacity="0.4" stroke-width="0.8"/>
<rect x="107.71" y="538.4" width="19.07" height="19.5" fill="url(#hsl)"/>
<rect x="126.78" y="538.4" width="19.07" height="19.5" fill="url(#hs)"/>
<rect x="145.85" y="538.4" width="19.07" height="19.5" fill="url(#chk)"/>
<path d="M145.85 540.4V555.9L155.38 548.15ZM164.92 540.4V555.9L155.38 548.15Z" fill="url(#vs)" fill-opacity="0.5"/>
<line x1="154.26" y1="553.86" x2="161.73" y2="543.09" stroke="#fff" stroke-opacity="0.4" stroke-width="0.8"/>
<line x1="151.15" y1="543.61" x2="151.85" y2="549.66" stroke="#fff" stroke-opacity="0.4" stroke-width="0.8"/>
<rect x="164.92" y="538.4" width="19.07" height="19.5" fill="url(#chkb3)"/>
<line x1="181.45" y1="547.42" x2="171.96" y2="549.61" stroke="#fff" stroke-opacity="0.4" stroke-width="0.8"/>
<rect x="183.99" y="538.4" width="19.07" height="19.5" fill="url(#chkb3)"/>
<line x1="194.07" y1="539.73" x2="193.93" y2="547.1" stroke="#fff" stroke-opacity="0.4" stroke-width="0.8"/>
<line x1="188.12" y1="553.39" x2="185.06" y2="542.42" stroke="#fff" stroke-opacity="0.4" stroke-width="0.8"/>
<rect x="203.06" y="538.4" width="19.07" height="19.5" fill="url(#chkb3)"/>
<path d="M203.06 540.4V555.9L212.59 548.15ZM222.13 540.4V555.9L212.59 548.15Z" fill="url(#vs)" fill-opacity="0.5"/>
<line x1="213.56" y1="548.47" x2="209.62" y2="549.12" stroke="#fff" stroke-opacity="0.4" stroke-width="0.8"/>
<rect x="222.13" y="538.4" width="19.07" height="19.5" fill="url(#chkb)"/>
<line x1="227.37" y1="552.91" x2="227.86" y2="548.28" stroke="#fff" stroke-opacity="0.4" stroke-width="0.8"/>
<rect x="241.2" y="538.4" width="19.07" height="19.5" fill="url(#chkb)"/>
<line x1="249.77" y1="548.25" x2="252.66" y2="548.36" stroke="#fff" stroke-opacity="0.4" stroke-width="0.8"/>
<svg x="260.27" y="538.4" width="19.18" height="19.5" viewBox="-9.59 -9.75 19.18 19.5"><g transform="rotate(90) scale(-1 1)"><use href="#rg3"/></g></svg>
<svg x="279.45" y="538.4" width="19.18" height="19.5" viewBox="-9.59 -9.75 19.18 19.5"><g transform="rotate(200) scale(-1.25 1)"><use href="#rg2"/></g></svg>
<svg x="298.63" y="538.4" width="19.18" height="19.5" viewBox="-9.59 -9.75 19.18 19.5"><g transform="rotate(270) scale(-1.25 1)"><use href="#sp1"/></g></svg>
<rect x="50.5" y="557.9" width="19.07" height="19.6" fill="url(#hsl)"/>
<rect x="69.57" y="557.9" width="19.07" height="19.6" fill="url(#chk)"/>
<line x1="77.68" y1="564.46" x2="77.27" y2="570.71" stroke="#fff" stroke-opacity="0.4" stroke-width="0.8"/>
<line x1="77.88" y1="564.23" x2="74.2" y2="561.05" stroke="#fff" stroke-opacity="0.4" stroke-width="0.8"/>
<rect x="88.64" y="557.9" width="19.07" height="19.6" fill="url(#chk)"/>
<line x1="92.08" y1="575.93" x2="104.71" y2="562.76" stroke="#fff" stroke-opacity="0.4" stroke-width="0.8"/>
<line x1="105.9" y1="567.48" x2="96.44" y2="576.32" stroke="#fff" stroke-opacity="0.4" stroke-width="0.8"/>
<rect x="107.71" y="557.9" width="19.07" height="19.6" fill="url(#chk)"/>
<path d="M109.5 557.9H124.99L117.25 567.7ZM109.5 577.5H124.99L117.25 567.7Z" fill="url(#hsl)" fill-opacity="0.6"/>
<line x1="114.5" y1="564.51" x2="112.05" y2="571.61" stroke="#fff" stroke-opacity="0.4" stroke-width="0.8"/>
<line x1="109.04" y1="566.65" x2="118.17" y2="559.22" stroke="#fff" stroke-opacity="0.4" stroke-width="0.8"/>
<line x1="114.37" y1="567.92" x2="119.36" y2="560.03" stroke="#fff" stroke-opacity="0.4" stroke-width="0.8"/>
<rect x="126.78" y="557.9" width="19.07" height="19.6" fill="url(#chk)"/>
<line x1="129.21" y1="574.84" x2="132.42" y2="562.1" stroke="#fff" stroke-opacity="0.4" stroke-width="0.8"/>
<rect x="145.85" y="557.9" width="19.07" height="19.6" fill="url(#hs)"/>
<rect x="164.92" y="557.9" width="19.07" height="19.6" fill="url(#chk3)"/>
<line x1="172.85" y1="567.96" x2="175.08" y2="567.61" stroke="#fff" stroke-opacity="0.4" stroke-width="0.8"/>
<line x1="171.5" y1="572.97" x2="170.68" y2="562.13" stroke="#fff" stroke-opacity="0.4" stroke-width="0.8"/>
<rect x="183.99" y="557.9" width="19.07" height="19.6" fill="url(#chkb)"/>
<path d="M184.54 557.9H202.51L193.53 567.7ZM184.54 577.5H202.51L193.53 567.7Z" fill="url(#hsb)" fill-opacity="0.6"/>
<line x1="198.67" y1="573.97" x2="186.42" y2="560.07" stroke="#fff" stroke-opacity="0.4" stroke-width="0.8"/>
<rect x="203.06" y="557.9" width="19.07" height="19.6" fill="url(#chkb)"/>
<path d="M204.58 557.9H220.61L212.59 567.7ZM204.58 577.5H220.61L212.59 567.7Z" fill="url(#hsb)" fill-opacity="0.6"/>
<line x1="219.88" y1="561.17" x2="208.63" y2="568.17" stroke="#fff" stroke-opacity="0.4" stroke-width="0.8"/>
<line x1="208.13" y1="561.74" x2="205.93" y2="559.79" stroke="#fff" stroke-opacity="0.4" stroke-width="0.8"/>
<line x1="207.5" y1="564.27" x2="209.39" y2="572.27" stroke="#fff" stroke-opacity="0.4" stroke-width="0.8"/>
<rect x="222.13" y="557.9" width="19.07" height="19.6" fill="url(#chkb2)"/>
<path d="M224.65 557.9H238.68L231.66 567.7ZM224.65 577.5H238.68L231.66 567.7Z" fill="url(#hsb)" fill-opacity="0.6"/>
<line x1="229.05" y1="563.31" x2="223.44" y2="559.17" stroke="#fff" stroke-opacity="0.4" stroke-width="0.8"/>
<line x1="235.64" y1="562.23" x2="232.54" y2="567.26" stroke="#fff" stroke-opacity="0.4" stroke-width="0.8"/>
<rect x="241.2" y="557.9" width="19.07" height="19.6" fill="url(#chkb3)"/>
<path d="M244.16 557.9H257.31L250.73 567.7ZM244.16 577.5H257.31L250.73 567.7Z" fill="url(#hsb)" fill-opacity="0.6"/>
<line x1="253.41" y1="574.54" x2="251.52" y2="575.98" stroke="#fff" stroke-opacity="0.4" stroke-width="0.8"/>
<line x1="247.45" y1="562.94" x2="245.87" y2="562.4" stroke="#fff" stroke-opacity="0.4" stroke-width="0.8"/>
<line x1="257.25" y1="561.36" x2="254.64" y2="576.31" stroke="#fff" stroke-opacity="0.4" stroke-width="0.8"/>
<rect x="260.27" y="557.9" width="19.18" height="19.6" fill="url(#chkb)"/>
<line x1="262.49" y1="563.4" x2="274" y2="561.77" stroke="#fff" stroke-opacity="0.4" stroke-width="0.8"/>
<svg x="279.45" y="557.9" width="19.18" height="19.6" viewBox="-9.59 -9.8 19.18 19.6"><g transform="rotate(270) scale(-1 1)"><use href="#sp5"/></g></svg>
<svg x="298.63" y="557.9" width="19.18" height="19.6" viewBox="-9.59 -9.8 19.18 19.6"><g transform="rotate(270) scale(-1 1)"><use href="#rg4"/></g></svg>
<svg x="317.81" y="557.9" width="19.18" height="19.6" viewBox="-9.59 -9.8 19.18 19.6"><g transform="rotate(40) scale(-1 1)"><use href="#rg3"/></g></svg>
<svg x="336.99" y="557.9" width="19.18" height="19.6" viewBox="-9.59 -9.8 19.18 19.6"><g transform="rotate(135) scale(1 1)"><use href="#sp2"/></g></svg>
<svg x="356.17" y="557.9" width="19.18" height="19.6" viewBox="-9.59 -9.8 19.18 19.6"><g transform="rotate(135) scale(1 1)"><use href="#sp1"/></g></svg>
<rect x="50.5" y="577.5" width="19.07" height="20" fill="url(#chk2)"/>
<line x1="55.67" y1="584.07" x2="67.98" y2="584.92" stroke="#fff" stroke-opacity="0.4" stroke-width="0.8"/>
<line x1="51.52" y1="587.04" x2="58.01" y2="587.55" stroke="#fff" stroke-opacity="0.4" stroke-width="0.8"/>
<rect x="69.57" y="577.5" width="19.07" height="20" fill="url(#chk)"/>
<path d="M72.4 577.5H85.81L79.1 587.5ZM72.4 597.5H85.81L79.1 587.5Z" fill="url(#hsl)" fill-opacity="0.6"/>
<line x1="75.08" y1="585.69" x2="72.1" y2="579.25" stroke="#fff" stroke-opacity="0.4" stroke-width="0.8"/>
<rect x="88.64" y="577.5" width="19.07" height="20" fill="url(#chk)"/>
<path d="M91.03 577.5H105.32L98.18 587.5ZM91.03 597.5H105.32L98.18 587.5Z" fill="url(#hsl)" fill-opacity="0.6"/>
<line x1="99.64" y1="592.01" x2="98.67" y2="590.34" stroke="#fff" stroke-opacity="0.4" stroke-width="0.8"/>
<rect x="107.71" y="577.5" width="19.07" height="20" fill="url(#chk3)"/>
<line x1="111.26" y1="590.08" x2="121.07" y2="579.29" stroke="#fff" stroke-opacity="0.4" stroke-width="0.8"/>
<line x1="122.97" y1="589.79" x2="123.94" y2="591.71" stroke="#fff" stroke-opacity="0.4" stroke-width="0.8"/>
<line x1="122.57" y1="587.93" x2="111.09" y2="587.58" stroke="#fff" stroke-opacity="0.4" stroke-width="0.8"/>
<rect x="126.78" y="577.5" width="19.07" height="20" fill="url(#chk)"/>
<line x1="129.23" y1="589.97" x2="128.49" y2="595.77" stroke="#fff" stroke-opacity="0.4" stroke-width="0.8"/>
<line x1="134.21" y1="579.41" x2="135.49" y2="578.84" stroke="#fff" stroke-opacity="0.4" stroke-width="0.8"/>
<rect x="145.85" y="577.5" width="19.07" height="20" fill="url(#hsl)"/>
<rect x="164.92" y="577.5" width="19.07" height="20" fill="url(#hs)"/>
<rect x="183.99" y="577.5" width="19.07" height="20" fill="url(#chkb)"/>
<path d="M184.5 577.5H202.55L193.53 587.5ZM184.5 597.5H202.55L193.53 587.5Z" fill="url(#hsb)" fill-opacity="0.6"/>
<line x1="197.76" y1="588.13" x2="193.58" y2="590.37" stroke="#fff" stroke-opacity="0.4" stroke-width="0.8"/>
<rect x="203.06" y="577.5" width="19.07" height="20" fill="url(#chkb)"/>
<line x1="208.36" y1="583.28" x2="205.33" y2="591.63" stroke="#fff" stroke-opacity="0.4" stroke-width="0.8"/>
<line x1="207.56" y1="596.06" x2="216.69" y2="587.39" stroke="#fff" stroke-opacity="0.4" stroke-width="0.8"/>
<line x1="210.59" y1="590.81" x2="212.24" y2="592.31" stroke="#fff" stroke-opacity="0.4" stroke-width="0.8"/>
<rect x="222.13" y="577.5" width="19.07" height="20" fill="url(#chkb)"/>
<path d="M223.07 577.5H240.26L231.66 587.5ZM223.07 597.5H240.26L231.66 587.5Z" fill="url(#hsb)" fill-opacity="0.6"/>
<line x1="234.25" y1="589.68" x2="234.96" y2="580.9" stroke="#fff" stroke-opacity="0.4" stroke-width="0.8"/>
<line x1="231.36" y1="596.01" x2="231.42" y2="580.29" stroke="#fff" stroke-opacity="0.4" stroke-width="0.8"/>
<rect x="241.2" y="577.5" width="19.07" height="20" fill="url(#chkb)"/>
<line x1="254.3" y1="586.89" x2="247.07" y2="592.31" stroke="#fff" stroke-opacity="0.4" stroke-width="0.8"/>
<line x1="259.16" y1="584.11" x2="251.57" y2="580.05" stroke="#fff" stroke-opacity="0.4" stroke-width="0.8"/>
<rect x="260.27" y="577.5" width="19.18" height="20" fill="url(#chkb3)"/>
<path d="M262.15 577.5H277.57L269.86 587.5ZM262.15 597.5H277.57L269.86 587.5Z" fill="url(#hsb)" fill-opacity="0.6"/>
<line x1="278.35" y1="595" x2="267.92" y2="595.25" stroke="#fff" stroke-opacity="0.4" stroke-width="0.8"/>
<line x1="262.55" y1="591.95" x2="262.82" y2="583.21" stroke="#fff" stroke-opacity="0.4" stroke-width="0.8"/>
<line x1="267.45" y1="589.87" x2="271.64" y2="583.53" stroke="#fff" stroke-opacity="0.4" stroke-width="0.8"/>
<rect x="279.45" y="577.5" width="19.18" height="20" fill="url(#chkb)"/>
<line x1="289" y1="585.59" x2="295.5" y2="581.36" stroke="#fff" stroke-opacity="0.4" stroke-width="0.8"/>
<line x1="296.77" y1="585.8" x2="292.16" y2="591.59" stroke="#fff" stroke-opacity="0.4" stroke-width="0.8"/>
<rect x="298.63" y="577.5" width="19.18" height="20" fill="url(#chkb3)"/>
<path d="M300.08 577.5H316.36L308.22 587.5ZM300.08 597.5H316.36L308.22 587.5Z" fill="url(#hsb)" fill-opacity="0.6"/>
<line x1="299.66" y1="593.6" x2="312.53" y2="580.66" stroke="#fff" stroke-opacity="0.4" stroke-width="0.8"/>
<line x1="315.55" y1="594.73" x2="311.88" y2="583.72" stroke="#fff" stroke-opacity="0.4" stroke-width="0.8"/>
<rect x="317.81" y="577.5" width="19.18" height="20" fill="url(#chkb2)"/>
<path d="M319.48 577.5H335.32L327.4 587.5ZM319.48 597.5H335.32L327.4 587.5Z" fill="url(#hsb)" fill-opacity="0.6"/>
<line x1="325.01" y1="583.45" x2="326.16" y2="579.37" stroke="#fff" stroke-opacity="0.4" stroke-width="0.8"/>
<svg x="336.99" y="577.5" width="19.18" height="20" viewBox="-9.59 -10 19.18 20"><g transform="rotate(0) scale(-1 1)"><use href="#sp5"/></g></svg>
<svg x="356.17" y="577.5" width="19.18" height="20" viewBox="-9.59 -10 19.18 20"><g transform="rotate(40) scale(1 1)"><use href="#rg4"/></g></svg>
<svg x="375.35" y="577.5" width="19.18" height="20" viewBox="-9.59 -10 19.18 20"><g transform="rotate(135) scale(-1 1)"><use href="#sp3"/></g></svg>
<svg x="394.53" y="577.5" width="19.18" height="20" viewBox="-9.59 -10 19.18 20"><g transform="rotate(90) scale(-1 1)"><use href="#sp2"/></g></svg>
<svg x="413.71" y="577.5" width="19.18" height="20" viewBox="-9.59 -10 19.18 20"><g transform="rotate(135) scale(1.25 1)"><use href="#rg1"/></g></svg>
<rect x="50.5" y="597.5" width="19.07" height="19.2" fill="url(#chk)"/>
<path d="M53.2 597.5H66.87L60.03 607.1ZM53.2 616.7H66.87L60.03 607.1Z" fill="url(#hsl)" fill-opacity="0.6"/>
<line x1="62" y1="613.46" x2="53.87" y2="606.85" stroke="#fff" stroke-opacity="0.4" stroke-width="0.8"/>
<line x1="67.07" y1="601.44" x2="60.89" y2="605.64" stroke="#fff" stroke-opacity="0.4" stroke-width="0.8"/>
<line x1="56.31" y1="611.21" x2="55.87" y2="609.73" stroke="#fff" stroke-opacity="0.4" stroke-width="0.8"/>
<rect x="69.57" y="597.5" width="19.07" height="19.2" fill="url(#chk3)"/>
<line x1="78.82" y1="600.56" x2="81.99" y2="609.56" stroke="#fff" stroke-opacity="0.4" stroke-width="0.8"/>
<line x1="71.85" y1="612.46" x2="79.12" y2="607.97" stroke="#fff" stroke-opacity="0.4" stroke-width="0.8"/>
<rect x="88.64" y="597.5" width="19.07" height="19.2" fill="url(#chk3)"/>
<line x1="96.94" y1="602.7" x2="98.99" y2="601.5" stroke="#fff" stroke-opacity="0.4" stroke-width="0.8"/>
<line x1="99.13" y1="604.83" x2="95.09" y2="612.42" stroke="#fff" stroke-opacity="0.4" stroke-width="0.8"/>
<line x1="93.09" y1="613.47" x2="89.98" y2="605.08" stroke="#fff" stroke-opacity="0.4" stroke-width="0.8"/>
<rect x="107.71" y="597.5" width="19.07" height="19.2" fill="url(#chk)"/>
<path d="M109.22 597.5H125.27L117.25 607.1ZM109.22 616.7H125.27L117.25 607.1Z" fill="url(#hsl)" fill-opacity="0.6"/>
<line x1="117.21" y1="604.69" x2="118.51" y2="610.31" stroke="#fff" stroke-opacity="0.4" stroke-width="0.8"/>
<rect x="126.78" y="597.5" width="19.07" height="19.2" fill="url(#chk)"/>
<path d="M129.97 597.5H142.66L136.31 607.1ZM129.97 616.7H142.66L136.31 607.1Z" fill="url(#hsl)" fill-opacity="0.6"/>
<line x1="134.6" y1="614.91" x2="135.39" y2="613.1" stroke="#fff" stroke-opacity="0.4" stroke-width="0.8"/>
<line x1="142.68" y1="599.05" x2="128.15" y2="610.7" stroke="#fff" stroke-opacity="0.4" stroke-width="0.8"/>
<line x1="143.07" y1="608.6" x2="135.86" y2="598.5" stroke="#fff" stroke-opacity="0.4" stroke-width="0.8"/>
<rect x="145.85" y="597.5" width="19.07" height="19.2" fill="url(#hsl)"/>
<rect x="164.92" y="597.5" width="19.07" height="19.2" fill="url(#hsl)"/>
<rect x="183.99" y="597.5" width="19.07" height="19.2" fill="url(#hs)"/>
<rect x="203.06" y="597.5" width="19.07" height="19.2" fill="url(#hsl)"/>
<rect x="222.13" y="597.5" width="19.07" height="19.2" fill="url(#chkb3)"/>
<line x1="239.73" y1="600.38" x2="227.37" y2="601.16" stroke="#fff" stroke-opacity="0.4" stroke-width="0.8"/>
<line x1="232.05" y1="614.69" x2="234.77" y2="610.91" stroke="#fff" stroke-opacity="0.4" stroke-width="0.8"/>
<line x1="234.18" y1="606.37" x2="236.19" y2="607.99" stroke="#fff" stroke-opacity="0.4" stroke-width="0.8"/>
<rect x="241.2" y="597.5" width="19.07" height="19.2" fill="url(#chkb)"/>
<path d="M242.08 597.5H259.39L250.73 607.1ZM242.08 616.7H259.39L250.73 607.1Z" fill="url(#hsb)" fill-opacity="0.6"/>
<line x1="253.22" y1="600.7" x2="247.39" y2="602.83" stroke="#fff" stroke-opacity="0.4" stroke-width="0.8"/>
<rect x="260.27" y="597.5" width="19.18" height="19.2" fill="url(#chkb3)"/>
<line x1="262.98" y1="614.73" x2="266.43" y2="601.8" stroke="#fff" stroke-opacity="0.4" stroke-width="0.8"/>
<rect x="279.45" y="597.5" width="19.18" height="19.2" fill="url(#chkb2)"/>
<path d="M281.75 597.5H296.33L289.04 607.1ZM281.75 616.7H296.33L289.04 607.1Z" fill="url(#hsb)" fill-opacity="0.6"/>
<line x1="289.68" y1="603.29" x2="297.57" y2="603.94" stroke="#fff" stroke-opacity="0.4" stroke-width="0.8"/>
<rect x="298.63" y="597.5" width="19.18" height="19.2" fill="url(#chkb)"/>
<path d="M299.83 597.5H316.61L308.22 607.1ZM299.83 616.7H316.61L308.22 607.1Z" fill="url(#hsb)" fill-opacity="0.6"/>
<line x1="300.13" y1="609.67" x2="306.7" y2="599.45" stroke="#fff" stroke-opacity="0.4" stroke-width="0.8"/>
<line x1="302.96" y1="609.63" x2="314.83" y2="599.89" stroke="#fff" stroke-opacity="0.4" stroke-width="0.8"/>
<rect x="317.81" y="597.5" width="19.18" height="19.2" fill="url(#chkb)"/>
<line x1="322.71" y1="604.31" x2="319.4" y2="605.73" stroke="#fff" stroke-opacity="0.4" stroke-width="0.8"/>
<line x1="330.54" y1="612.21" x2="322.21" y2="611.21" stroke="#fff" stroke-opacity="0.4" stroke-width="0.8"/>
<rect x="336.99" y="597.5" width="19.18" height="19.2" fill="url(#chkb)"/>
<path d="M340.4 597.5H352.76L346.58 607.1ZM340.4 616.7H352.76L346.58 607.1Z" fill="url(#hsb)" fill-opacity="0.6"/>
<line x1="351.15" y1="606.5" x2="341.32" y2="603.06" stroke="#fff" stroke-opacity="0.4" stroke-width="0.8"/>
<line x1="353.27" y1="609.23" x2="339.86" y2="608.99" stroke="#fff" stroke-opacity="0.4" stroke-width="0.8"/>
<rect x="356.17" y="597.5" width="19.18" height="19.2" fill="url(#chkb)"/>
<path d="M359.4 597.5H372.12L365.76 607.1ZM359.4 616.7H372.12L365.76 607.1Z" fill="url(#hsb)" fill-opacity="0.6"/>
<line x1="373.47" y1="605.27" x2="359.68" y2="602.16" stroke="#fff" stroke-opacity="0.4" stroke-width="0.8"/>
<rect x="375.35" y="597.5" width="19.18" height="19.2" fill="url(#chkb)"/>
<path d="M377.98 597.5H391.9L384.94 607.1ZM377.98 616.7H391.9L384.94 607.1Z" fill="url(#hsb)" fill-opacity="0.6"/>
<line x1="383.11" y1="613.7" x2="391.78" y2="611.1" stroke="#fff" stroke-opacity="0.4" stroke-width="0.8"/>
<line x1="393.49" y1="604.16" x2="392.35" y2="601.69" stroke="#fff" stroke-opacity="0.4" stroke-width="0.8"/>
<svg x="394.53" y="597.5" width="19.18" height="19.2" viewBox="-9.59 -9.6 19.18 19.2"><g transform="rotate(270) scale(-1 1)"><use href="#rg5"/></g></svg>
<svg x="413.71" y="597.5" width="19.18" height="19.2" viewBox="-9.59 -9.6 19.18 19.2"><g transform="rotate(90) scale(-1 1)"><use href="#sp4"/></g></svg>
<svg x="432.89" y="597.5" width="19.18" height="19.2" viewBox="-9.59 -9.6 19.18 19.2"><g transform="rotate(90) scale(-1 1)"><use href="#sp3"/></g></svg>
<svg x="452.07" y="597.5" width="19.18" height="19.2" viewBox="-9.59 -9.6 19.18 19.2"><g transform="rotate(0) scale(1 1)"><use href="#sp2"/></g></svg>
<svg x="471.25" y="597.5" width="19.18" height="19.2" viewBox="-9.59 -9.6 19.18 19.2"><g transform="rotate(0) scale(-1 1)"><use href="#rg1"/></g></svg>
<g fill="#fff" fill-opacity="0.6" filter="url(#soft)"><circle cx="98.17" cy="468.45" r="7.9"/><circle cx="117.25" cy="468.45" r="6.67"/><circle cx="136.31" cy="468.45" r="5.71"/><circle cx="155.38" cy="468.45" r="5.27"/><circle cx="174.45" cy="468.45" r="4.43"/><circle cx="193.53" cy="468.45" r="4.2"/><circle cx="212.59" cy="468.45" r="4.02"/><circle cx="231.66" cy="468.45" r="3.87"/><circle cx="250.74" cy="468.45" r="3.73"/><circle cx="269.86" cy="468.45" r="3.61"/><circle cx="289.04" cy="468.45" r="3.49"/><circle cx="308.22" cy="468.45" r="3.38"/><circle cx="327.4" cy="468.45" r="3.27"/><circle cx="346.58" cy="468.45" r="3.15"/><circle cx="365.76" cy="468.45" r="3.04"/><circle cx="384.94" cy="468.45" r="2.92"/><circle cx="404.12" cy="468.45" r="2.79"/><circle cx="423.3" cy="468.45" r="2.66"/><circle cx="442.48" cy="468.45" r="2.52"/><circle cx="461.66" cy="468.45" r="2.36"/><circle cx="480.84" cy="468.45" r="2.16"/><circle cx="500.02" cy="468.45" r="1.79"/><circle cx="155.38" cy="488.4" r="7.9"/><circle cx="174.45" cy="488.4" r="6.82"/><circle cx="193.53" cy="488.4" r="5.91"/><circle cx="212.59" cy="488.4" r="5.46"/><circle cx="231.66" cy="488.4" r="5.14"/><circle cx="250.74" cy="488.4" r="4.9"/><circle cx="269.86" cy="488.4" r="4.72"/><circle cx="289.04" cy="488.4" r="4.56"/><circle cx="308.22" cy="488.4" r="4.42"/><circle cx="327.4" cy="488.4" r="4.29"/><circle cx="346.58" cy="488.4" r="4.16"/><circle cx="365.76" cy="488.4" r="4.05"/><circle cx="384.94" cy="488.4" r="3.93"/><circle cx="404.12" cy="488.4" r="3.81"/><circle cx="423.3" cy="488.4" r="3.69"/><circle cx="442.48" cy="488.4" r="3.58"/><circle cx="461.66" cy="488.4" r="3.45"/><circle cx="480.84" cy="488.4" r="3.33"/><circle cx="500.02" cy="488.4" r="3.2"/><circle cx="519.2" cy="488.4" r="3.06"/><circle cx="538.38" cy="488.4" r="2.91"/><circle cx="557.56" cy="488.4" r="2.75"/><circle cx="576.74" cy="488.4" r="2.56"/><circle cx="595.92" cy="488.4" r="2.33"/><circle cx="615.1" cy="488.4" r="1.9"/><circle cx="212.59" cy="508.4" r="7.9"/><circle cx="231.66" cy="508.4" r="6.97"/><circle cx="250.74" cy="508.4" r="6.1"/><circle cx="269.86" cy="508.4" r="5.66"/><circle cx="289.04" cy="508.4" r="5.33"/><circle cx="308.22" cy="508.4" r="5.1"/><circle cx="327.4" cy="508.4" r="4.92"/><circle cx="346.58" cy="508.4" r="4.76"/><circle cx="365.76" cy="508.4" r="4.62"/><circle cx="384.94" cy="508.4" r="4.5"/><circle cx="404.12" cy="508.4" r="4.38"/><circle cx="423.3" cy="508.4" r="4.26"/><circle cx="442.48" cy="508.4" r="4.15"/><circle cx="461.66" cy="508.4" r="4.03"/><circle cx="480.84" cy="508.4" r="3.92"/><circle cx="500.02" cy="508.4" r="3.81"/><circle cx="519.2" cy="508.4" r="3.7"/><circle cx="538.38" cy="508.4" r="3.58"/><circle cx="557.56" cy="508.4" r="3.46"/><circle cx="576.74" cy="508.4" r="3.33"/><circle cx="595.92" cy="508.4" r="3.2"/><circle cx="615.1" cy="508.4" r="3.06"/><circle cx="634.28" cy="508.4" r="2.91"/><circle cx="653.46" cy="508.4" r="2.75"/><circle cx="672.64" cy="508.4" r="2.56"/><circle cx="691.82" cy="508.4" r="2.33"/><circle cx="711" cy="508.4" r="1.89"/><circle cx="269.86" cy="528.4" r="7.9"/><circle cx="289.04" cy="528.4" r="6.77"/><circle cx="308.22" cy="528.4" r="5.84"/><circle cx="327.4" cy="528.4" r="5.4"/><circle cx="346.58" cy="528.4" r="5.09"/><circle cx="365.76" cy="528.4" r="4.88"/><circle cx="384.94" cy="528.4" r="4.71"/><circle cx="404.12" cy="528.4" r="4.58"/><circle cx="423.3" cy="528.4" r="4.46"/><circle cx="442.48" cy="528.4" r="4.35"/><circle cx="461.66" cy="528.4" r="4.26"/><circle cx="480.84" cy="528.4" r="4.16"/><circle cx="500.02" cy="528.4" r="4.07"/><circle cx="519.2" cy="528.4" r="3.99"/><circle cx="538.38" cy="528.4" r="3.9"/><circle cx="557.56" cy="528.4" r="3.81"/><circle cx="576.74" cy="528.4" r="3.73"/><circle cx="595.92" cy="528.4" r="3.64"/><circle cx="615.1" cy="528.4" r="3.55"/><circle cx="634.28" cy="528.4" r="3.46"/><circle cx="653.46" cy="528.4" r="3.37"/><circle cx="672.64" cy="528.4" r="3.27"/><circle cx="691.82" cy="528.4" r="3.17"/><circle cx="711" cy="528.4" r="3.06"/><circle cx="730.18" cy="528.4" r="2.94"/><circle cx="749.36" cy="528.4" r="2.81"/><circle cx="768.54" cy="528.4" r="2.67"/><circle cx="787.72" cy="528.4" r="2.49"/><circle cx="806.9" cy="528.4" r="2.15"/><circle cx="327.4" cy="548.15" r="7.9"/><circle cx="346.58" cy="548.15" r="6.62"/><circle cx="365.76" cy="548.15" r="5.65"/><circle cx="384.94" cy="548.15" r="5.2"/><circle cx="404.12" cy="548.15" r="4.92"/><circle cx="423.3" cy="548.15" r="4.72"/><circle cx="442.48" cy="548.15" r="4.58"/><circle cx="461.66" cy="548.15" r="4.46"/><circle cx="480.84" cy="548.15" r="4.36"/><circle cx="500.02" cy="548.15" r="4.28"/><circle cx="519.2" cy="548.15" r="4.2"/><circle cx="538.38" cy="548.15" r="4.13"/><circle cx="557.56" cy="548.15" r="4.06"/><circle cx="576.74" cy="548.15" r="3.99"/><circle cx="595.92" cy="548.15" r="3.93"/><circle cx="615.1" cy="548.15" r="3.86"/><circle cx="634.28" cy="548.15" r="3.8"/><circle cx="653.46" cy="548.15" r="3.73"/><circle cx="672.64" cy="548.15" r="3.67"/><circle cx="691.82" cy="548.15" r="3.6"/><circle cx="711" cy="548.15" r="3.53"/><circle cx="730.18" cy="548.15" r="3.45"/><circle cx="749.36" cy="548.15" r="3.36"/><circle cx="768.54" cy="548.15" r="3.27"/><circle cx="787.72" cy="548.15" r="3.15"/><circle cx="806.9" cy="548.15" r="2.94"/><circle cx="384.94" cy="567.7" r="7.9"/><circle cx="404.12" cy="567.7" r="6.57"/><circle cx="423.3" cy="567.7" r="5.58"/><circle cx="442.48" cy="567.7" r="5.14"/><circle cx="461.66" cy="567.7" r="4.86"/><circle cx="480.84" cy="567.7" r="4.68"/><circle cx="500.02" cy="567.7" r="4.55"/><circle cx="519.2" cy="567.7" r="4.45"/><circle cx="538.38" cy="567.7" r="4.36"/><circle cx="557.56" cy="567.7" r="4.29"/><circle cx="576.74" cy="567.7" r="4.23"/><circle cx="595.92" cy="567.7" r="4.17"/><circle cx="615.1" cy="567.7" r="4.11"/><circle cx="634.28" cy="567.7" r="4.06"/><circle cx="653.46" cy="567.7" r="4.01"/><circle cx="672.64" cy="567.7" r="3.96"/><circle cx="691.82" cy="567.7" r="3.91"/><circle cx="711" cy="567.7" r="3.86"/><circle cx="730.18" cy="567.7" r="3.81"/><circle cx="749.36" cy="567.7" r="3.75"/><circle cx="768.54" cy="567.7" r="3.69"/><circle cx="787.72" cy="567.7" r="3.61"/><circle cx="806.9" cy="567.7" r="3.47"/><circle cx="442.48" cy="587.5" r="7.9"/><circle cx="461.66" cy="587.5" r="6.57"/><circle cx="480.84" cy="587.5" r="5.58"/><circle cx="500.02" cy="587.5" r="5.14"/><circle cx="519.2" cy="587.5" r="4.87"/><circle cx="538.38" cy="587.5" r="4.7"/><circle cx="557.56" cy="587.5" r="4.58"/><circle cx="576.74" cy="587.5" r="4.49"/><circle cx="595.92" cy="587.5" r="4.42"/><circle cx="615.1" cy="587.5" r="4.35"/><circle cx="634.28" cy="587.5" r="4.3"/><circle cx="653.46" cy="587.5" r="4.25"/><circle cx="672.64" cy="587.5" r="4.21"/><circle cx="691.82" cy="587.5" r="4.17"/><circle cx="711" cy="587.5" r="4.13"/><circle cx="730.18" cy="587.5" r="4.09"/><circle cx="749.36" cy="587.5" r="4.05"/><circle cx="768.54" cy="587.5" r="4.01"/><circle cx="787.72" cy="587.5" r="3.96"/><circle cx="806.9" cy="587.5" r="3.88"/><circle cx="500.02" cy="607.1" r="7.9"/><circle cx="519.2" cy="607.1" r="6.62"/><circle cx="538.38" cy="607.1" r="5.65"/><circle cx="557.56" cy="607.1" r="5.2"/><circle cx="576.74" cy="607.1" r="4.95"/><circle cx="595.92" cy="607.1" r="4.78"/><circle cx="615.1" cy="607.1" r="4.67"/><circle cx="634.28" cy="607.1" r="4.59"/><circle cx="653.46" cy="607.1" r="4.53"/><circle cx="672.64" cy="607.1" r="4.47"/><circle cx="691.82" cy="607.1" r="4.43"/><circle cx="711" cy="607.1" r="4.39"/><circle cx="730.18" cy="607.1" r="4.36"/><circle cx="749.36" cy="607.1" r="4.33"/><circle cx="768.54" cy="607.1" r="4.3"/><circle cx="787.72" cy="607.1" r="4.28"/><circle cx="806.9" cy="607.1" r="4.24"/></g>
<g fill="#fff"><circle cx="98.17" cy="468.45" r="7.5"/><circle cx="117.25" cy="468.45" r="5.27"/><circle cx="136.31" cy="468.45" r="4.5"/><circle cx="155.38" cy="468.45" r="4.16"/><circle cx="174.45" cy="468.45" r="3.51"/><circle cx="193.53" cy="468.45" r="3.34"/><circle cx="212.59" cy="468.45" r="3.2"/><circle cx="231.66" cy="468.45" r="3.08"/><circle cx="250.74" cy="468.45" r="2.98"/><circle cx="269.86" cy="468.45" r="2.89"/><circle cx="289.04" cy="468.45" r="2.79"/><circle cx="308.22" cy="468.45" r="2.71"/><circle cx="327.4" cy="468.45" r="2.62"/><circle cx="346.58" cy="468.45" r="2.53"/><circle cx="365.76" cy="468.45" r="2.44"/><circle cx="384.94" cy="468.45" r="2.35"/><circle cx="404.12" cy="468.45" r="2.26"/><circle cx="423.3" cy="468.45" r="2.16"/><circle cx="442.48" cy="468.45" r="2.05"/><circle cx="461.66" cy="468.45" r="1.92"/><circle cx="480.84" cy="468.45" r="1.77"/><circle cx="500.02" cy="468.45" r="1.48"/><circle cx="155.38" cy="488.4" r="7.5"/><circle cx="174.45" cy="488.4" r="5.42"/><circle cx="193.53" cy="488.4" r="4.65"/><circle cx="212.59" cy="488.4" r="4.31"/><circle cx="231.66" cy="488.4" r="4.06"/><circle cx="250.74" cy="488.4" r="3.88"/><circle cx="269.86" cy="488.4" r="3.74"/><circle cx="289.04" cy="488.4" r="3.61"/><circle cx="308.22" cy="488.4" r="3.51"/><circle cx="327.4" cy="488.4" r="3.41"/><circle cx="346.58" cy="488.4" r="3.31"/><circle cx="365.76" cy="488.4" r="3.22"/><circle cx="384.94" cy="488.4" r="3.13"/><circle cx="404.12" cy="488.4" r="3.04"/><circle cx="423.3" cy="488.4" r="2.95"/><circle cx="442.48" cy="488.4" r="2.86"/><circle cx="461.66" cy="488.4" r="2.76"/><circle cx="480.84" cy="488.4" r="2.67"/><circle cx="500.02" cy="488.4" r="2.57"/><circle cx="519.2" cy="488.4" r="2.46"/><circle cx="538.38" cy="488.4" r="2.35"/><circle cx="557.56" cy="488.4" r="2.22"/><circle cx="576.74" cy="488.4" r="2.08"/><circle cx="595.92" cy="488.4" r="1.9"/><circle cx="615.1" cy="488.4" r="1.57"/><circle cx="212.59" cy="508.4" r="7.5"/><circle cx="231.66" cy="508.4" r="5.57"/><circle cx="250.74" cy="508.4" r="4.8"/><circle cx="269.86" cy="508.4" r="4.46"/><circle cx="289.04" cy="508.4" r="4.21"/><circle cx="308.22" cy="508.4" r="4.03"/><circle cx="327.4" cy="508.4" r="3.89"/><circle cx="346.58" cy="508.4" r="3.77"/><circle cx="365.76" cy="508.4" r="3.66"/><circle cx="384.94" cy="508.4" r="3.57"/><circle cx="404.12" cy="508.4" r="3.47"/><circle cx="423.3" cy="508.4" r="3.38"/><circle cx="442.48" cy="508.4" r="3.3"/><circle cx="461.66" cy="508.4" r="3.21"/><circle cx="480.84" cy="508.4" r="3.13"/><circle cx="500.02" cy="508.4" r="3.04"/><circle cx="519.2" cy="508.4" r="2.95"/><circle cx="538.38" cy="508.4" r="2.86"/><circle cx="557.56" cy="508.4" r="2.77"/><circle cx="576.74" cy="508.4" r="2.67"/><circle cx="595.92" cy="508.4" r="2.57"/><circle cx="615.1" cy="508.4" r="2.46"/><circle cx="634.28" cy="508.4" r="2.35"/><circle cx="653.46" cy="508.4" r="2.22"/><circle cx="672.64" cy="508.4" r="2.08"/><circle cx="691.82" cy="508.4" r="1.9"/><circle cx="711" cy="508.4" r="1.56"/><circle cx="269.86" cy="528.4" r="7.5"/><circle cx="289.04" cy="528.4" r="5.37"/><circle cx="308.22" cy="528.4" r="4.6"/><circle cx="327.4" cy="528.4" r="4.26"/><circle cx="346.58" cy="528.4" r="4.02"/><circle cx="365.76" cy="528.4" r="3.86"/><circle cx="384.94" cy="528.4" r="3.73"/><circle cx="404.12" cy="528.4" r="3.63"/><circle cx="423.3" cy="528.4" r="3.54"/><circle cx="442.48" cy="528.4" r="3.46"/><circle cx="461.66" cy="528.4" r="3.38"/><circle cx="480.84" cy="528.4" r="3.31"/><circle cx="500.02" cy="528.4" r="3.24"/><circle cx="519.2" cy="528.4" r="3.17"/><circle cx="538.38" cy="528.4" r="3.11"/><circle cx="557.56" cy="528.4" r="3.04"/><circle cx="576.74" cy="528.4" r="2.97"/><circle cx="595.92" cy="528.4" r="2.91"/><circle cx="615.1" cy="528.4" r="2.84"/><circle cx="634.28" cy="528.4" r="2.77"/><circle cx="653.46" cy="528.4" r="2.7"/><circle cx="672.64" cy="528.4" r="2.62"/><circle cx="691.82" cy="528.4" r="2.54"/><circle cx="711" cy="528.4" r="2.46"/><circle cx="730.18" cy="528.4" r="2.37"/><circle cx="749.36" cy="528.4" r="2.27"/><circle cx="768.54" cy="528.4" r="2.16"/><circle cx="787.72" cy="528.4" r="2.02"/><circle cx="806.9" cy="528.4" r="1.76"/><circle cx="327.4" cy="548.15" r="7.5"/><circle cx="346.58" cy="548.15" r="5.22"/><circle cx="365.76" cy="548.15" r="4.45"/><circle cx="384.94" cy="548.15" r="4.11"/><circle cx="404.12" cy="548.15" r="3.89"/><circle cx="423.3" cy="548.15" r="3.74"/><circle cx="442.48" cy="548.15" r="3.63"/><circle cx="461.66" cy="548.15" r="3.54"/><circle cx="480.84" cy="548.15" r="3.46"/><circle cx="500.02" cy="548.15" r="3.4"/><circle cx="519.2" cy="548.15" r="3.34"/><circle cx="538.38" cy="548.15" r="3.28"/><circle cx="557.56" cy="548.15" r="3.23"/><circle cx="576.74" cy="548.15" r="3.18"/><circle cx="595.92" cy="548.15" r="3.13"/><circle cx="615.1" cy="548.15" r="3.08"/><circle cx="634.28" cy="548.15" r="3.03"/><circle cx="653.46" cy="548.15" r="2.98"/><circle cx="672.64" cy="548.15" r="2.93"/><circle cx="691.82" cy="548.15" r="2.88"/><circle cx="711" cy="548.15" r="2.82"/><circle cx="730.18" cy="548.15" r="2.76"/><circle cx="749.36" cy="548.15" r="2.7"/><circle cx="768.54" cy="548.15" r="2.62"/><circle cx="787.72" cy="548.15" r="2.53"/><circle cx="806.9" cy="548.15" r="2.37"/><circle cx="384.94" cy="567.7" r="7.5"/><circle cx="404.12" cy="567.7" r="5.17"/><circle cx="423.3" cy="567.7" r="4.4"/><circle cx="442.48" cy="567.7" r="4.06"/><circle cx="461.66" cy="567.7" r="3.85"/><circle cx="480.84" cy="567.7" r="3.71"/><circle cx="500.02" cy="567.7" r="3.61"/><circle cx="519.2" cy="567.7" r="3.53"/><circle cx="538.38" cy="567.7" r="3.46"/><circle cx="557.56" cy="567.7" r="3.41"/><circle cx="576.74" cy="567.7" r="3.36"/><circle cx="595.92" cy="567.7" r="3.31"/><circle cx="615.1" cy="567.7" r="3.27"/><circle cx="634.28" cy="567.7" r="3.23"/><circle cx="653.46" cy="567.7" r="3.19"/><circle cx="672.64" cy="567.7" r="3.15"/><circle cx="691.82" cy="567.7" r="3.12"/><circle cx="711" cy="567.7" r="3.08"/><circle cx="730.18" cy="567.7" r="3.04"/><circle cx="749.36" cy="567.7" r="2.99"/><circle cx="768.54" cy="567.7" r="2.94"/><circle cx="787.72" cy="567.7" r="2.89"/><circle cx="806.9" cy="567.7" r="2.78"/><circle cx="442.48" cy="587.5" r="7.5"/><circle cx="461.66" cy="587.5" r="5.17"/><circle cx="480.84" cy="587.5" r="4.4"/><circle cx="500.02" cy="587.5" r="4.06"/><circle cx="519.2" cy="587.5" r="3.86"/><circle cx="538.38" cy="587.5" r="3.72"/><circle cx="557.56" cy="587.5" r="3.63"/><circle cx="576.74" cy="587.5" r="3.56"/><circle cx="595.92" cy="587.5" r="3.5"/><circle cx="615.1" cy="587.5" r="3.46"/><circle cx="634.28" cy="587.5" r="3.42"/><circle cx="653.46" cy="587.5" r="3.38"/><circle cx="672.64" cy="587.5" r="3.35"/><circle cx="691.82" cy="587.5" r="3.32"/><circle cx="711" cy="587.5" r="3.29"/><circle cx="730.18" cy="587.5" r="3.26"/><circle cx="749.36" cy="587.5" r="3.23"/><circle cx="768.54" cy="587.5" r="3.19"/><circle cx="787.72" cy="587.5" r="3.16"/><circle cx="806.9" cy="587.5" r="3.09"/><circle cx="500.02" cy="607.1" r="7.5"/><circle cx="519.2" cy="607.1" r="5.22"/><circle cx="538.38" cy="607.1" r="4.45"/><circle cx="557.56" cy="607.1" r="4.11"/><circle cx="576.74" cy="607.1" r="3.91"/><circle cx="595.92" cy="607.1" r="3.79"/><circle cx="615.1" cy="607.1" r="3.7"/><circle cx="634.28" cy="607.1" r="3.64"/><circle cx="653.46" cy="607.1" r="3.59"/><circle cx="672.64" cy="607.1" r="3.55"/><circle cx="691.82" cy="607.1" r="3.52"/><circle cx="711" cy="607.1" r="3.49"/><circle cx="730.18" cy="607.1" r="3.46"/><circle cx="749.36" cy="607.1" r="3.44"/><circle cx="768.54" cy="607.1" r="3.42"/><circle cx="787.72" cy="607.1" r="3.4"/><circle cx="806.9" cy="607.1" r="3.37"/></g>
<g fill="#2146a5"><circle cx="98.17" cy="468.45" r="6.7"/><circle cx="117.25" cy="468.45" r="4.47"/><circle cx="136.31" cy="468.45" r="3.7"/><circle cx="155.38" cy="468.45" r="3.36"/><circle cx="174.45" cy="468.45" r="2.71"/><circle cx="193.53" cy="468.45" r="2.54"/><circle cx="212.59" cy="468.45" r="2.4"/><circle cx="231.66" cy="468.45" r="2.28"/><circle cx="250.74" cy="468.45" r="2.18"/><circle cx="269.86" cy="468.45" r="2.09"/><circle cx="289.04" cy="468.45" r="1.99"/><circle cx="308.22" cy="468.45" r="1.91"/><circle cx="327.4" cy="468.45" r="1.82"/><circle cx="346.58" cy="468.45" r="1.73"/><circle cx="365.76" cy="468.45" r="1.64"/><circle cx="384.94" cy="468.45" r="1.55"/><circle cx="404.12" cy="468.45" r="1.46"/><circle cx="423.3" cy="468.45" r="1.36"/><circle cx="442.48" cy="468.45" r="1.25"/><circle cx="461.66" cy="468.45" r="1.12"/><circle cx="480.84" cy="468.45" r="0.97"/><circle cx="500.02" cy="468.45" r="0.68"/><circle cx="155.38" cy="488.4" r="6.7"/><circle cx="174.45" cy="488.4" r="4.62"/><circle cx="193.53" cy="488.4" r="3.85"/><circle cx="212.59" cy="488.4" r="3.51"/><circle cx="231.66" cy="488.4" r="3.26"/><circle cx="250.74" cy="488.4" r="3.08"/><circle cx="269.86" cy="488.4" r="2.94"/><circle cx="289.04" cy="488.4" r="2.81"/><circle cx="308.22" cy="488.4" r="2.71"/><circle cx="327.4" cy="488.4" r="2.61"/><circle cx="346.58" cy="488.4" r="2.51"/><circle cx="365.76" cy="488.4" r="2.42"/><circle cx="384.94" cy="488.4" r="2.33"/><circle cx="404.12" cy="488.4" r="2.24"/><circle cx="423.3" cy="488.4" r="2.15"/><circle cx="442.48" cy="488.4" r="2.06"/><circle cx="461.66" cy="488.4" r="1.96"/><circle cx="480.84" cy="488.4" r="1.87"/><circle cx="500.02" cy="488.4" r="1.77"/><circle cx="519.2" cy="488.4" r="1.66"/><circle cx="538.38" cy="488.4" r="1.55"/><circle cx="557.56" cy="488.4" r="1.42"/><circle cx="576.74" cy="488.4" r="1.28"/><circle cx="595.92" cy="488.4" r="1.1"/><circle cx="615.1" cy="488.4" r="0.77"/><circle cx="212.59" cy="508.4" r="6.7"/><circle cx="231.66" cy="508.4" r="4.77"/><circle cx="250.74" cy="508.4" r="4"/><circle cx="269.86" cy="508.4" r="3.66"/><circle cx="289.04" cy="508.4" r="3.41"/><circle cx="308.22" cy="508.4" r="3.23"/><circle cx="327.4" cy="508.4" r="3.09"/><circle cx="346.58" cy="508.4" r="2.97"/><circle cx="365.76" cy="508.4" r="2.86"/><circle cx="384.94" cy="508.4" r="2.77"/><circle cx="404.12" cy="508.4" r="2.67"/><circle cx="423.3" cy="508.4" r="2.58"/><circle cx="442.48" cy="508.4" r="2.5"/><circle cx="461.66" cy="508.4" r="2.41"/><circle cx="480.84" cy="508.4" r="2.33"/><circle cx="500.02" cy="508.4" r="2.24"/><circle cx="519.2" cy="508.4" r="2.15"/><circle cx="538.38" cy="508.4" r="2.06"/><circle cx="557.56" cy="508.4" r="1.97"/><circle cx="576.74" cy="508.4" r="1.87"/><circle cx="595.92" cy="508.4" r="1.77"/><circle cx="615.1" cy="508.4" r="1.66"/><circle cx="634.28" cy="508.4" r="1.55"/><circle cx="653.46" cy="508.4" r="1.42"/><circle cx="672.64" cy="508.4" r="1.28"/><circle cx="691.82" cy="508.4" r="1.1"/><circle cx="711" cy="508.4" r="0.76"/><circle cx="269.86" cy="528.4" r="6.7"/><circle cx="289.04" cy="528.4" r="4.57"/><circle cx="308.22" cy="528.4" r="3.8"/><circle cx="327.4" cy="528.4" r="3.46"/><circle cx="346.58" cy="528.4" r="3.22"/><circle cx="365.76" cy="528.4" r="3.06"/><circle cx="384.94" cy="528.4" r="2.93"/><circle cx="404.12" cy="528.4" r="2.83"/><circle cx="423.3" cy="528.4" r="2.74"/><circle cx="442.48" cy="528.4" r="2.66"/><circle cx="461.66" cy="528.4" r="2.58"/><circle cx="480.84" cy="528.4" r="2.51"/><circle cx="500.02" cy="528.4" r="2.44"/><circle cx="519.2" cy="528.4" r="2.37"/><circle cx="538.38" cy="528.4" r="2.31"/><circle cx="557.56" cy="528.4" r="2.24"/><circle cx="576.74" cy="528.4" r="2.17"/><circle cx="595.92" cy="528.4" r="2.11"/><circle cx="615.1" cy="528.4" r="2.04"/><circle cx="634.28" cy="528.4" r="1.97"/><circle cx="653.46" cy="528.4" r="1.9"/><circle cx="672.64" cy="528.4" r="1.82"/><circle cx="691.82" cy="528.4" r="1.74"/><circle cx="711" cy="528.4" r="1.66"/><circle cx="730.18" cy="528.4" r="1.57"/><circle cx="749.36" cy="528.4" r="1.47"/><circle cx="768.54" cy="528.4" r="1.36"/><circle cx="787.72" cy="528.4" r="1.22"/><circle cx="806.9" cy="528.4" r="0.96"/><circle cx="327.4" cy="548.15" r="6.7"/><circle cx="346.58" cy="548.15" r="4.42"/><circle cx="365.76" cy="548.15" r="3.65"/><circle cx="384.94" cy="548.15" r="3.31"/><circle cx="404.12" cy="548.15" r="3.09"/><circle cx="423.3" cy="548.15" r="2.94"/><circle cx="442.48" cy="548.15" r="2.83"/><circle cx="461.66" cy="548.15" r="2.74"/><circle cx="480.84" cy="548.15" r="2.66"/><circle cx="500.02" cy="548.15" r="2.6"/><circle cx="519.2" cy="548.15" r="2.54"/><circle cx="538.38" cy="548.15" r="2.48"/><circle cx="557.56" cy="548.15" r="2.43"/><circle cx="576.74" cy="548.15" r="2.38"/><circle cx="595.92" cy="548.15" r="2.33"/><circle cx="615.1" cy="548.15" r="2.28"/><circle cx="634.28" cy="548.15" r="2.23"/><circle cx="653.46" cy="548.15" r="2.18"/><circle cx="672.64" cy="548.15" r="2.13"/><circle cx="691.82" cy="548.15" r="2.08"/><circle cx="711" cy="548.15" r="2.02"/><circle cx="730.18" cy="548.15" r="1.96"/><circle cx="749.36" cy="548.15" r="1.9"/><circle cx="768.54" cy="548.15" r="1.82"/><circle cx="787.72" cy="548.15" r="1.73"/><circle cx="806.9" cy="548.15" r="1.57"/><circle cx="384.94" cy="567.7" r="6.7"/><circle cx="404.12" cy="567.7" r="4.37"/><circle cx="423.3" cy="567.7" r="3.6"/><circle cx="442.48" cy="567.7" r="3.26"/><circle cx="461.66" cy="567.7" r="3.05"/><circle cx="480.84" cy="567.7" r="2.91"/><circle cx="500.02" cy="567.7" r="2.81"/><circle cx="519.2" cy="567.7" r="2.73"/><circle cx="538.38" cy="567.7" r="2.66"/><circle cx="557.56" cy="567.7" r="2.61"/><circle cx="576.74" cy="567.7" r="2.56"/><circle cx="595.92" cy="567.7" r="2.51"/><circle cx="615.1" cy="567.7" r="2.47"/><circle cx="634.28" cy="567.7" r="2.43"/><circle cx="653.46" cy="567.7" r="2.39"/><circle cx="672.64" cy="567.7" r="2.35"/><circle cx="691.82" cy="567.7" r="2.32"/><circle cx="711" cy="567.7" r="2.28"/><circle cx="730.18" cy="567.7" r="2.24"/><circle cx="749.36" cy="567.7" r="2.19"/><circle cx="768.54" cy="567.7" r="2.14"/><circle cx="787.72" cy="567.7" r="2.09"/><circle cx="806.9" cy="567.7" r="1.98"/><circle cx="442.48" cy="587.5" r="6.7"/><circle cx="461.66" cy="587.5" r="4.37"/><circle cx="480.84" cy="587.5" r="3.6"/><circle cx="500.02" cy="587.5" r="3.26"/><circle cx="519.2" cy="587.5" r="3.06"/><circle cx="538.38" cy="587.5" r="2.92"/><circle cx="557.56" cy="587.5" r="2.83"/><circle cx="576.74" cy="587.5" r="2.76"/><circle cx="595.92" cy="587.5" r="2.7"/><circle cx="615.1" cy="587.5" r="2.66"/><circle cx="634.28" cy="587.5" r="2.62"/><circle cx="653.46" cy="587.5" r="2.58"/><circle cx="672.64" cy="587.5" r="2.55"/><circle cx="691.82" cy="587.5" r="2.52"/><circle cx="711" cy="587.5" r="2.49"/><circle cx="730.18" cy="587.5" r="2.46"/><circle cx="749.36" cy="587.5" r="2.43"/><circle cx="768.54" cy="587.5" r="2.39"/><circle cx="787.72" cy="587.5" r="2.36"/><circle cx="806.9" cy="587.5" r="2.29"/><circle cx="500.02" cy="607.1" r="6.7"/><circle cx="519.2" cy="607.1" r="4.42"/><circle cx="538.38" cy="607.1" r="3.65"/><circle cx="557.56" cy="607.1" r="3.31"/><circle cx="576.74" cy="607.1" r="3.11"/><circle cx="595.92" cy="607.1" r="2.99"/><circle cx="615.1" cy="607.1" r="2.9"/><circle cx="634.28" cy="607.1" r="2.84"/><circle cx="653.46" cy="607.1" r="2.79"/><circle cx="672.64" cy="607.1" r="2.75"/><circle cx="691.82" cy="607.1" r="2.72"/><circle cx="711" cy="607.1" r="2.69"/><circle cx="730.18" cy="607.1" r="2.66"/><circle cx="749.36" cy="607.1" r="2.64"/><circle cx="768.54" cy="607.1" r="2.62"/><circle cx="787.72" cy="607.1" r="2.6"/><circle cx="806.9" cy="607.1" r="2.57"/></g>
<path d="M69.57 458.5V616.7M88.64 458.5V616.7M107.71 458.5V616.7M126.78 458.5V616.7M145.85 458.5V616.7M164.92 458.5V616.7M183.99 458.5V616.7M203.06 458.5V616.7M222.13 458.5V616.7M241.2 458.5V616.7M260.27 458.5V616.7M279.45 458.5V616.7M298.63 458.5V616.7M317.81 458.5V616.7M336.99 458.5V616.7M356.17 458.5V616.7M375.35 458.5V616.7M394.53 458.5V616.7M413.71 458.5V616.7M432.89 458.5V616.7M452.07 458.5V616.7M471.25 458.5V616.7M490.43 458.5V616.7M509.61 458.5V616.7M528.79 458.5V616.7M547.97 458.5V616.7M567.15 458.5V616.7M586.33 458.5V616.7M605.51 458.5V616.7M624.69 458.5V616.7M643.87 458.5V616.7M663.05 458.5V616.7M682.23 458.5V616.7M701.41 458.5V616.7M720.59 458.5V616.7M739.77 458.5V616.7M758.95 458.5V616.7M778.13 458.5V616.7M797.31 458.5V616.7M50.5 478.4H816.5M50.5 498.4H816.5M50.5 518.4H816.5M50.5 538.4H816.5M50.5 557.9H816.5M50.5 577.5H816.5M50.5 597.5H816.5" stroke="#0a0000" stroke-width="1.1" fill="none"/>
<rect x="50.5" y="458.5" width="766" height="158.2" fill="none" stroke="#3a0a0a" stroke-width="0.8"/>
<line x1="88.5" y1="460" x2="510.5" y2="610.3" stroke="#f4e92c" stroke-width="2.9" stroke-dasharray="9.5 4.2"/>
<line x1="491.6" y1="458.6" x2="816" y2="516" stroke="#f4e92c" stroke-width="2.8" stroke-dasharray="9.5 4.2"/>
<text x="170.8" y="552.7" text-anchor="middle" font-family='"Liberation Serif", serif' font-weight="bold" font-size="18" fill="#f4e92c">I (Spiral)</text>
<text x="532.7" y="523.7" text-anchor="middle" font-family='"Liberation Serif", serif' font-weight="bold" font-size="18" fill="#f4e92c">II (Skyrmion)</text>
<text x="775" y="494.7" text-anchor="middle" font-family='"Liberation Serif", serif' font-weight="bold" font-size="18" fill="#f4e92c">III (FM)</text>
<rect x="820.4" y="458.7" width="10.5" height="92.9" fill="url(#cbar)" stroke="#8c8c8c" stroke-width="0.7"/>
<text x="841.2" y="468.8" text-anchor="middle" font-family='"Liberation Serif", serif' font-weight="bold" font-size="13.5" >1</text>
<text x="836" y="512" font-family='"Liberation Serif", serif' font-weight="bold" font-style="italic" font-size="16">S<tspan font-size="9.5" dy="-6">z</tspan></text>
<text x="832.8" y="550.8" text-anchor="start" font-family='"Liberation Serif", serif' font-weight="bold" font-size="13.5" >−1</text>
<text x="37.3" y="473.6" text-anchor="middle" font-family='"Liberation Serif", serif' font-weight="bold" font-size="13.2" >−1</text>
<text x="39" y="606.2" text-anchor="middle" font-family='"Liberation Serif", serif' font-weight="bold" font-size="13.2" >−8</text>
<line x1="41.8" y1="478" x2="41.8" y2="583" stroke="#000" stroke-width="3.3"/>
<polygon points="41.8,591.2 36.3,580 41.8,582.6 47.3,580" fill="#000"/>
<text transform="translate(33.3 531.7) rotate(-90)" text-anchor="middle" font-family='"Liberation Serif", serif' font-weight="bold" font-size="13.5"><tspan font-style="italic">J</tspan><tspan font-size="9" dy="2.5">2</tspan><tspan dy="-2.5"> (meV)</tspan></text>
<line x1="55" y1="623.9" x2="803" y2="623.9" stroke="#000" stroke-width="3.3"/>
<polygon points="810,623.9 800.8,619.3 803,623.9 800.8,628.5" fill="#000"/>
<text x="49.3" y="630.6" text-anchor="middle" font-family='"Liberation Serif", serif' font-weight="bold" font-size="13.5" >1</text>
<text x="824" y="629.9" text-anchor="middle" font-family='"Liberation Serif", serif' font-weight="bold" font-size="13.5" >40</text>
<text x="449" y="638.2" text-anchor="middle" font-family='"Liberation Serif", serif' font-weight="bold" font-size="13.5"><tspan font-style="italic">J</tspan><tspan font-size="9" dy="2.5">1</tspan><tspan dy="-2.5"> (meV)</tspan></text>
</g>
</svg>
</body>
</html>
